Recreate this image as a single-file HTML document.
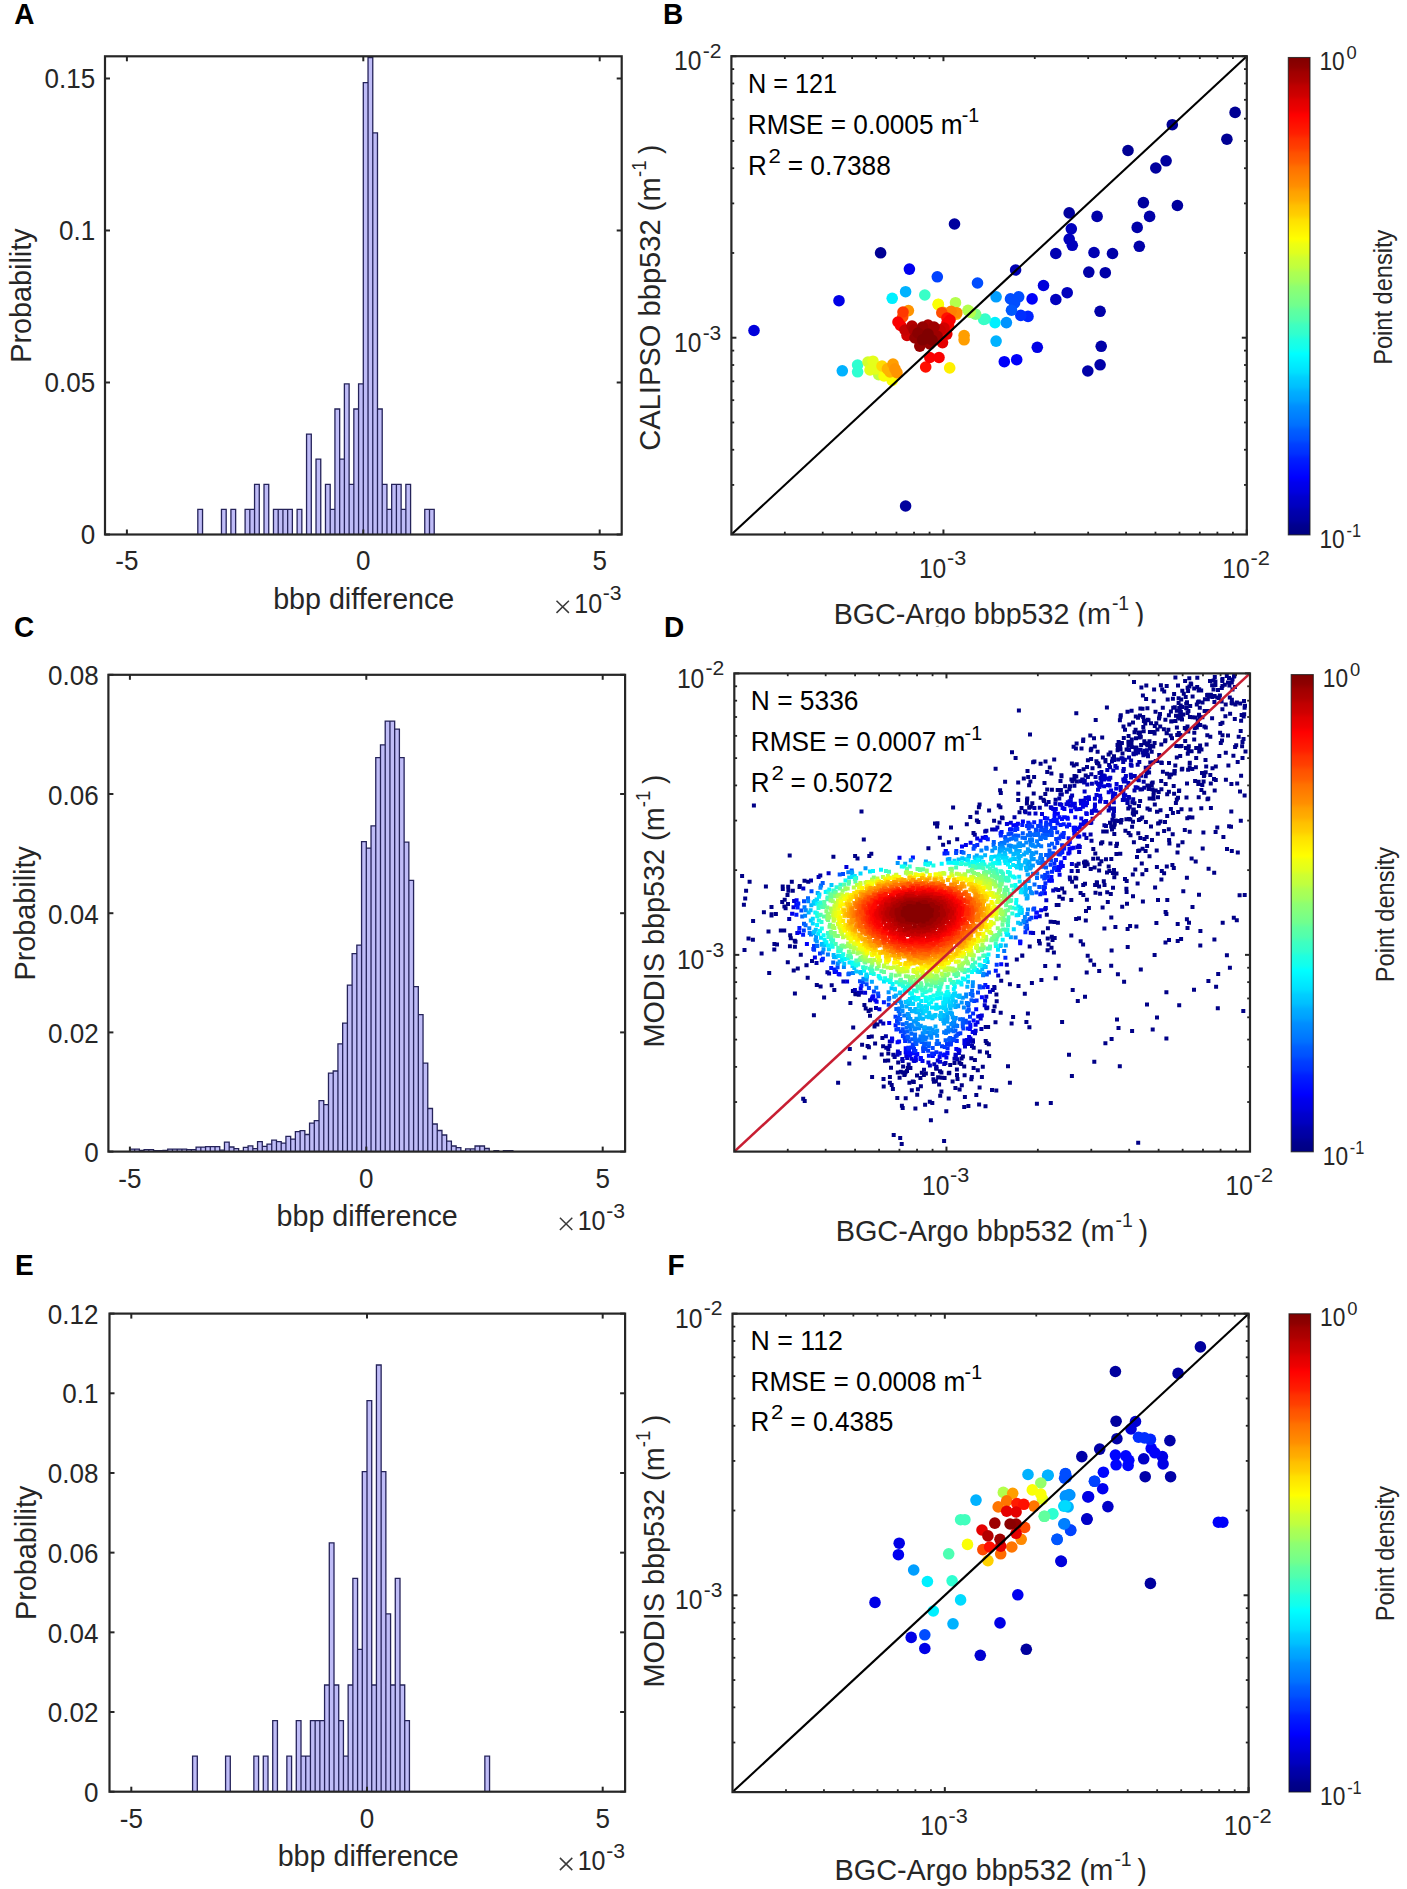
<!DOCTYPE html><html><head><meta charset="utf-8"><style>html,body{margin:0;padding:0;background:#fff;}svg{display:block;}text{font-family:"Liberation Sans",sans-serif;}</style></head><body>
<svg width="1407" height="1889" viewBox="0 0 1407 1889">
<rect x="0" y="0" width="1407" height="1889" fill="#fff"/>
<text transform="matrix(1 0 0 1.04 0 -0.96)" x="14.3" y="24" font-size="28" fill="#000" font-weight="bold">A</text>
<text transform="matrix(1 0 0 1.04 0 -0.96)" x="663.1" y="24" font-size="28" fill="#000" font-weight="bold">B</text>
<text transform="matrix(1 0 0 1.04 0 -25.48)" x="14.1" y="637" font-size="28" fill="#000" font-weight="bold">C</text>
<text transform="matrix(1 0 0 1.04 0 -25.48)" x="664.1" y="637" font-size="28" fill="#000" font-weight="bold">D</text>
<text transform="matrix(1 0 0 1.04 0 -51.01)" x="15.1" y="1275.2" font-size="28" fill="#000" font-weight="bold">E</text>
<text transform="matrix(1 0 0 1.04 0 -51.01)" x="667.6" y="1275.2" font-size="28" fill="#000" font-weight="bold">F</text>
<path d="M197.82 534.5V509.4H202.55V534.5M221.46 534.5V509.4H226.19V534.5M230.92 534.5V509.4H235.64V534.5M245.1 534.5V509.4H249.83V534.5M249.83 534.5V509.4H254.56V534.5M254.56 534.5V484.3H259.28V534.5M264.01 534.5V484.3H268.74V534.5M273.47 534.5V509.4H278.2V534.5M278.2 534.5V509.4H282.92V534.5M282.92 534.5V509.4H287.65V534.5M287.65 534.5V509.4H292.38V534.5M297.11 534.5V509.4H301.84V534.5M306.56 534.5V434.1H311.29V534.5M316.02 534.5V459.2H320.75V534.5M325.48 534.5V484.3H330.2V534.5M330.2 534.5V509.4H334.93V534.5M334.93 534.5V409H339.66V534.5M339.66 534.5V459.2H344.39V534.5M344.39 534.5V383.9H349.12V534.5M349.12 534.5V484.3H353.84V534.5M353.84 534.5V409H358.57V534.5M358.57 534.5V383.9H363.3V534.5M363.3 534.5V82.7H368.03V534.5M368.03 534.5V57.6H372.76V534.5M372.76 534.5V132.9H377.48V534.5M377.48 534.5V409H382.21V534.5M382.21 534.5V484.3H386.94V534.5M386.94 534.5V509.4H391.67V534.5M391.67 534.5V484.3H396.4V534.5M396.4 534.5V484.3H401.12V534.5M401.12 534.5V509.4H405.85V534.5M405.85 534.5V484.3H410.58V534.5M424.76 534.5V509.4H429.49V534.5M429.49 534.5V509.4H434.22V534.5" fill="#bfbcf7" stroke="#25235a" stroke-width="1.3" stroke-linejoin="miter"/>
<rect x="105" y="56.3" width="516.7" height="478.2" fill="none" stroke="#262626" stroke-width="2.2"/>
<line x1="126.9" y1="534.5" x2="126.9" y2="529.5" stroke="#262626" stroke-width="2"/>
<line x1="126.9" y1="56.3" x2="126.9" y2="61.3" stroke="#262626" stroke-width="2"/>
<text transform="matrix(1 0 0 1.04 0 -22.82)" x="126.9" y="570.5" font-size="26" fill="#262626" text-anchor="middle">-5</text>
<line x1="363.3" y1="534.5" x2="363.3" y2="529.5" stroke="#262626" stroke-width="2"/>
<line x1="363.3" y1="56.3" x2="363.3" y2="61.3" stroke="#262626" stroke-width="2"/>
<text transform="matrix(1 0 0 1.04 0 -22.82)" x="363.3" y="570.5" font-size="26" fill="#262626" text-anchor="middle">0</text>
<line x1="599.7" y1="534.5" x2="599.7" y2="529.5" stroke="#262626" stroke-width="2"/>
<line x1="599.7" y1="56.3" x2="599.7" y2="61.3" stroke="#262626" stroke-width="2"/>
<text transform="matrix(1 0 0 1.04 0 -22.82)" x="599.7" y="570.5" font-size="26" fill="#262626" text-anchor="middle">5</text>
<line x1="105" y1="534.5" x2="110" y2="534.5" stroke="#262626" stroke-width="2"/>
<line x1="621.7" y1="534.5" x2="616.7" y2="534.5" stroke="#262626" stroke-width="2"/>
<text transform="matrix(1 0 0 1.04 0 -21.76)" x="95.2" y="544" font-size="26" fill="#262626" text-anchor="end">0</text>
<line x1="105" y1="382.5" x2="110" y2="382.5" stroke="#262626" stroke-width="2"/>
<line x1="621.7" y1="382.5" x2="616.7" y2="382.5" stroke="#262626" stroke-width="2"/>
<text transform="matrix(1 0 0 1.04 0 -15.68)" x="95.2" y="392" font-size="26" fill="#262626" text-anchor="end">0.05</text>
<line x1="105" y1="230.49" x2="110" y2="230.49" stroke="#262626" stroke-width="2"/>
<line x1="621.7" y1="230.49" x2="616.7" y2="230.49" stroke="#262626" stroke-width="2"/>
<text transform="matrix(1 0 0 1.04 0 -9.6)" x="95.2" y="239.99" font-size="26" fill="#262626" text-anchor="end">0.1</text>
<line x1="105" y1="78.49" x2="110" y2="78.49" stroke="#262626" stroke-width="2"/>
<line x1="621.7" y1="78.49" x2="616.7" y2="78.49" stroke="#262626" stroke-width="2"/>
<text transform="matrix(1 0 0 1.04 0 -3.52)" x="95.2" y="87.99" font-size="26" fill="#262626" text-anchor="end">0.15</text>
<text transform="matrix(1 0 0 1.04 0 -24.36)" x="273.16" y="609" font-size="28" fill="#262626" textLength="181.13" lengthAdjust="spacingAndGlyphs">bbp difference</text>
<text transform="translate(31.1 362.66) rotate(-90) scale(1 1.04)" x="0" y="0" font-size="28" fill="#262626" textLength="134.3" lengthAdjust="spacingAndGlyphs">Probability</text>
<path d="M556.5 600.7L568.9 612.9M568.9 600.7L556.5 612.9" stroke="#3a3a3a" stroke-width="1.5" fill="none"/>
<text transform="matrix(1 0 0 1.04 0 -24.52)" x="574.28" y="613.1" font-size="26" fill="#262626" textLength="27.81" lengthAdjust="spacingAndGlyphs">10</text>
<text transform="matrix(1 0 0 1.04 0 -24.02)" x="602.75" y="600.5" font-size="20" fill="#262626" textLength="18.78" lengthAdjust="spacingAndGlyphs">-3</text>
<path d="M129.9 1151.6V1149.1H134.63V1151.6M134.63 1151.6V1149.1H139.36V1151.6M139.36 1151.6V1150.4H144.08V1151.6M144.08 1151.6V1149.6H148.81V1151.6M148.81 1151.6V1149.6H153.54V1151.6M153.54 1151.6V1150.6H158.27V1151.6M158.27 1151.6V1150.6H163V1151.6M163 1151.6V1150.4H167.72V1151.6M167.72 1151.6V1149.1H172.45V1151.6M172.45 1151.6V1149.1H177.18V1151.6M177.18 1151.6V1149.1H181.91V1151.6M181.91 1151.6V1149.1H186.64V1151.6M186.64 1151.6V1149.6H191.36V1151.6M191.36 1151.6V1149.6H196.09V1151.6M196.09 1151.6V1147.1H200.82V1151.6M200.82 1151.6V1147.1H205.55V1151.6M205.55 1151.6V1146.6H210.28V1151.6M210.28 1151.6V1146.6H215V1151.6M215 1151.6V1146.6H219.73V1151.6M219.73 1151.6V1150.1H224.46V1151.6M224.46 1151.6V1142.1H229.19V1151.6M229.19 1151.6V1147H233.92V1151.6M233.92 1151.6V1148.7H238.64V1151.6M238.64 1151.6V1151.1H243.37V1151.6M243.37 1151.6V1147.3H248.1V1151.6M248.1 1151.6V1145.9H252.83V1151.6M252.83 1151.6V1148.7H257.56V1151.6M257.56 1151.6V1141.6H262.28V1151.6M262.28 1151.6V1146.3H267.01V1151.6M267.01 1151.6V1144.1H271.74V1151.6M271.74 1151.6V1140.2H276.47V1151.6M276.47 1151.6V1141.6H281.2V1151.6M281.2 1151.6V1143.1H285.92V1151.6M285.92 1151.6V1136.3H290.65V1151.6M290.65 1151.6V1139.1H295.38V1151.6M295.38 1151.6V1131.7H300.11V1151.6M300.11 1151.6V1130.6H304.84V1151.6M304.84 1151.6V1134.5H309.56V1151.6M309.56 1151.6V1123.2H314.29V1151.6M314.29 1151.6V1120.7H319.02V1151.6M319.02 1151.6V1100.6H323.75V1151.6M323.75 1151.6V1104.6H328.48V1151.6M328.48 1151.6V1073.2H333.2V1151.6M333.2 1151.6V1071H337.93V1151.6M337.93 1151.6V1043.8H342.66V1151.6M342.66 1151.6V1023.1H347.39V1151.6M347.39 1151.6V985.1H352.12V1151.6M352.12 1151.6V953.6H356.84V1151.6M356.84 1151.6V945.1H361.57V1151.6M361.57 1151.6V841.6H366.3V1151.6M366.3 1151.6V848.1H371.03V1151.6M371.03 1151.6V825.9H375.76V1151.6M375.76 1151.6V757.7H380.48V1151.6M380.48 1151.6V744.9H385.21V1151.6M385.21 1151.6V721.1H389.94V1151.6M389.94 1151.6V721.1H394.67V1151.6M394.67 1151.6V729.2H399.4V1151.6M399.4 1151.6V757.7H404.12V1151.6M404.12 1151.6V842.2H408.85V1151.6M408.85 1151.6V880.3H413.58V1151.6M413.58 1151.6V986.6H418.31V1151.6M418.31 1151.6V1014.6H423.04V1151.6M423.04 1151.6V1063.2H427.76V1151.6M427.76 1151.6V1108.5H432.49V1151.6M432.49 1151.6V1124H437.22V1151.6M437.22 1151.6V1130.5H441.95V1151.6M441.95 1151.6V1135H446.68V1151.6M446.68 1151.6V1141.1H451.4V1151.6M451.4 1151.6V1146H456.13V1151.6M456.13 1151.6V1147.7H460.86V1151.6M460.86 1151.6V1151.1H465.59V1151.6M465.59 1151.6V1148.9H470.32V1151.6M470.32 1151.6V1148.9H475.04V1151.6M475.04 1151.6V1146H479.77V1151.6M479.77 1151.6V1146H484.5V1151.6M484.5 1151.6V1148.5H489.23V1151.6M493.96 1151.6V1150.6H498.68V1151.6M503.41 1151.6V1150.6H508.14V1151.6M508.14 1151.6V1150.6H512.87V1151.6" fill="#bfbcf7" stroke="#25235a" stroke-width="1.3" stroke-linejoin="miter"/>
<rect x="108.4" y="674.8" width="516.7" height="476.8" fill="none" stroke="#262626" stroke-width="2.2"/>
<line x1="129.9" y1="1151.6" x2="129.9" y2="1146.6" stroke="#262626" stroke-width="2"/>
<line x1="129.9" y1="674.8" x2="129.9" y2="679.8" stroke="#262626" stroke-width="2"/>
<text transform="matrix(1 0 0 1.04 0 -47.5)" x="129.9" y="1187.6" font-size="26" fill="#262626" text-anchor="middle">-5</text>
<line x1="366.3" y1="1151.6" x2="366.3" y2="1146.6" stroke="#262626" stroke-width="2"/>
<line x1="366.3" y1="674.8" x2="366.3" y2="679.8" stroke="#262626" stroke-width="2"/>
<text transform="matrix(1 0 0 1.04 0 -47.5)" x="366.3" y="1187.6" font-size="26" fill="#262626" text-anchor="middle">0</text>
<line x1="602.7" y1="1151.6" x2="602.7" y2="1146.6" stroke="#262626" stroke-width="2"/>
<line x1="602.7" y1="674.8" x2="602.7" y2="679.8" stroke="#262626" stroke-width="2"/>
<text transform="matrix(1 0 0 1.04 0 -47.5)" x="602.7" y="1187.6" font-size="26" fill="#262626" text-anchor="middle">5</text>
<line x1="108.4" y1="1151.6" x2="113.4" y2="1151.6" stroke="#262626" stroke-width="2"/>
<line x1="625.1" y1="1151.6" x2="620.1" y2="1151.6" stroke="#262626" stroke-width="2"/>
<text transform="matrix(1 0 0 1.04 0 -46.49)" x="98.6" y="1162.3" font-size="26" fill="#262626" text-anchor="end">0</text>
<line x1="108.4" y1="1032.4" x2="113.4" y2="1032.4" stroke="#262626" stroke-width="2"/>
<line x1="625.1" y1="1032.4" x2="620.1" y2="1032.4" stroke="#262626" stroke-width="2"/>
<text transform="matrix(1 0 0 1.04 0 -41.72)" x="98.6" y="1043.1" font-size="26" fill="#262626" text-anchor="end">0.02</text>
<line x1="108.4" y1="913.2" x2="113.4" y2="913.2" stroke="#262626" stroke-width="2"/>
<line x1="625.1" y1="913.2" x2="620.1" y2="913.2" stroke="#262626" stroke-width="2"/>
<text transform="matrix(1 0 0 1.04 0 -36.96)" x="98.6" y="923.9" font-size="26" fill="#262626" text-anchor="end">0.04</text>
<line x1="108.4" y1="794" x2="113.4" y2="794" stroke="#262626" stroke-width="2"/>
<line x1="625.1" y1="794" x2="620.1" y2="794" stroke="#262626" stroke-width="2"/>
<text transform="matrix(1 0 0 1.04 0 -32.19)" x="98.6" y="804.7" font-size="26" fill="#262626" text-anchor="end">0.06</text>
<line x1="108.4" y1="674.8" x2="113.4" y2="674.8" stroke="#262626" stroke-width="2"/>
<line x1="625.1" y1="674.8" x2="620.1" y2="674.8" stroke="#262626" stroke-width="2"/>
<text transform="matrix(1 0 0 1.04 0 -27.42)" x="98.6" y="685.5" font-size="26" fill="#262626" text-anchor="end">0.08</text>
<text transform="matrix(1 0 0 1.04 0 -49.04)" x="276.56" y="1226.1" font-size="28" fill="#262626" textLength="181.13" lengthAdjust="spacingAndGlyphs">bbp difference</text>
<text transform="translate(34.5 980.46) rotate(-90) scale(1 1.04)" x="0" y="0" font-size="28" fill="#262626" textLength="134.3" lengthAdjust="spacingAndGlyphs">Probability</text>
<path d="M559.9 1217.8L572.3 1230M572.3 1217.8L559.9 1230" stroke="#3a3a3a" stroke-width="1.5" fill="none"/>
<text transform="matrix(1 0 0 1.04 0 -49.21)" x="577.68" y="1230.2" font-size="26" fill="#262626" textLength="27.81" lengthAdjust="spacingAndGlyphs">10</text>
<text transform="matrix(1 0 0 1.04 0 -48.7)" x="606.15" y="1217.6" font-size="20" fill="#262626" textLength="18.78" lengthAdjust="spacingAndGlyphs">-3</text>
<path d="M192.58 1791.7V1756.14H197.3V1791.7M225.58 1791.7V1756.14H230.29V1791.7M253.86 1791.7V1756.14H258.58V1791.7M263.29 1791.7V1756.14H268.01V1791.7M272.72 1791.7V1720.58H277.43V1791.7M286.86 1791.7V1756.14H291.58V1791.7M296.29 1791.7V1720.58H301V1791.7M301 1791.7V1756.14H305.72V1791.7M305.72 1791.7V1756.14H310.43V1791.7M310.43 1791.7V1720.58H315.15V1791.7M315.15 1791.7V1720.58H319.86V1791.7M319.86 1791.7V1720.58H324.57V1791.7M324.57 1791.7V1685.02H329.29V1791.7M329.29 1791.7V1542.78H334V1791.7M334 1791.7V1685.02H338.72V1791.7M338.72 1791.7V1720.58H343.43V1791.7M343.43 1791.7V1756.14H348.14V1791.7M348.14 1791.7V1685.02H352.86V1791.7M352.86 1791.7V1578.34H357.57V1791.7M357.57 1791.7V1649.46H362.29V1791.7M362.29 1791.7V1471.66H367V1791.7M367 1791.7V1400.54H371.71V1791.7M371.71 1791.7V1685.02H376.43V1791.7M376.43 1791.7V1364.98H381.14V1791.7M381.14 1791.7V1471.66H385.86V1791.7M385.86 1791.7V1613.9H390.57V1791.7M390.57 1791.7V1685.02H395.28V1791.7M395.28 1791.7V1578.34H400V1791.7M400 1791.7V1685.02H404.71V1791.7M404.71 1791.7V1720.58H409.43V1791.7M484.85 1791.7V1756.14H489.56V1791.7" fill="#bfbcf7" stroke="#25235a" stroke-width="1.3" stroke-linejoin="miter"/>
<rect x="109.5" y="1313.6" width="515.6" height="478.1" fill="none" stroke="#262626" stroke-width="2.2"/>
<line x1="131.3" y1="1791.7" x2="131.3" y2="1786.7" stroke="#262626" stroke-width="2"/>
<line x1="131.3" y1="1313.6" x2="131.3" y2="1318.6" stroke="#262626" stroke-width="2"/>
<text transform="matrix(1 0 0 1.04 0 -73.11)" x="131.3" y="1827.7" font-size="26" fill="#262626" text-anchor="middle">-5</text>
<line x1="367" y1="1791.7" x2="367" y2="1786.7" stroke="#262626" stroke-width="2"/>
<line x1="367" y1="1313.6" x2="367" y2="1318.6" stroke="#262626" stroke-width="2"/>
<text transform="matrix(1 0 0 1.04 0 -73.11)" x="367" y="1827.7" font-size="26" fill="#262626" text-anchor="middle">0</text>
<line x1="602.7" y1="1791.7" x2="602.7" y2="1786.7" stroke="#262626" stroke-width="2"/>
<line x1="602.7" y1="1313.6" x2="602.7" y2="1318.6" stroke="#262626" stroke-width="2"/>
<text transform="matrix(1 0 0 1.04 0 -73.11)" x="602.7" y="1827.7" font-size="26" fill="#262626" text-anchor="middle">5</text>
<line x1="109.5" y1="1791.7" x2="114.5" y2="1791.7" stroke="#262626" stroke-width="2"/>
<line x1="625.1" y1="1791.7" x2="620.1" y2="1791.7" stroke="#262626" stroke-width="2"/>
<text transform="matrix(1 0 0 1.04 0 -72.08)" x="98.4" y="1801.9" font-size="26" fill="#262626" text-anchor="end">0</text>
<line x1="109.5" y1="1712.02" x2="114.5" y2="1712.02" stroke="#262626" stroke-width="2"/>
<line x1="625.1" y1="1712.02" x2="620.1" y2="1712.02" stroke="#262626" stroke-width="2"/>
<text transform="matrix(1 0 0 1.04 0 -68.89)" x="98.4" y="1722.22" font-size="26" fill="#262626" text-anchor="end">0.02</text>
<line x1="109.5" y1="1632.33" x2="114.5" y2="1632.33" stroke="#262626" stroke-width="2"/>
<line x1="625.1" y1="1632.33" x2="620.1" y2="1632.33" stroke="#262626" stroke-width="2"/>
<text transform="matrix(1 0 0 1.04 0 -65.7)" x="98.4" y="1642.53" font-size="26" fill="#262626" text-anchor="end">0.04</text>
<line x1="109.5" y1="1552.65" x2="114.5" y2="1552.65" stroke="#262626" stroke-width="2"/>
<line x1="625.1" y1="1552.65" x2="620.1" y2="1552.65" stroke="#262626" stroke-width="2"/>
<text transform="matrix(1 0 0 1.04 0 -62.51)" x="98.4" y="1562.85" font-size="26" fill="#262626" text-anchor="end">0.06</text>
<line x1="109.5" y1="1472.97" x2="114.5" y2="1472.97" stroke="#262626" stroke-width="2"/>
<line x1="625.1" y1="1472.97" x2="620.1" y2="1472.97" stroke="#262626" stroke-width="2"/>
<text transform="matrix(1 0 0 1.04 0 -59.33)" x="98.4" y="1483.17" font-size="26" fill="#262626" text-anchor="end">0.08</text>
<line x1="109.5" y1="1393.28" x2="114.5" y2="1393.28" stroke="#262626" stroke-width="2"/>
<line x1="625.1" y1="1393.28" x2="620.1" y2="1393.28" stroke="#262626" stroke-width="2"/>
<text transform="matrix(1 0 0 1.04 0 -56.14)" x="98.4" y="1403.48" font-size="26" fill="#262626" text-anchor="end">0.1</text>
<line x1="109.5" y1="1313.6" x2="114.5" y2="1313.6" stroke="#262626" stroke-width="2"/>
<line x1="625.1" y1="1313.6" x2="620.1" y2="1313.6" stroke="#262626" stroke-width="2"/>
<text transform="matrix(1 0 0 1.04 0 -52.95)" x="98.4" y="1323.8" font-size="26" fill="#262626" text-anchor="end">0.12</text>
<text transform="matrix(1 0 0 1.04 0 -74.65)" x="277.66" y="1866.2" font-size="28" fill="#262626" textLength="181.13" lengthAdjust="spacingAndGlyphs">bbp difference</text>
<text transform="translate(35.6 1619.91) rotate(-90) scale(1 1.04)" x="0" y="0" font-size="28" fill="#262626" textLength="134.3" lengthAdjust="spacingAndGlyphs">Probability</text>
<path d="M559.9 1857.9L572.3 1870.1M572.3 1857.9L559.9 1870.1" stroke="#3a3a3a" stroke-width="1.5" fill="none"/>
<text transform="matrix(1 0 0 1.04 0 -74.81)" x="577.68" y="1870.3" font-size="26" fill="#262626" textLength="27.81" lengthAdjust="spacingAndGlyphs">10</text>
<text transform="matrix(1 0 0 1.04 0 -74.31)" x="606.15" y="1857.7" font-size="20" fill="#262626" textLength="18.78" lengthAdjust="spacingAndGlyphs">-3</text>
<circle cx="880.6" cy="252.8" r="5.8" fill="#000094"/>
<circle cx="1235.1" cy="112.4" r="5.8" fill="#000094"/>
<circle cx="1172.3" cy="124.7" r="5.8" fill="#000094"/>
<circle cx="1226.9" cy="139.2" r="5.8" fill="#000094"/>
<circle cx="1128" cy="150.5" r="5.8" fill="#000094"/>
<circle cx="954.5" cy="224" r="5.8" fill="#00009e"/>
<circle cx="905.6" cy="506" r="5.8" fill="#00009e"/>
<circle cx="1166.1" cy="160.8" r="5.8" fill="#00009e"/>
<circle cx="1155.8" cy="168" r="5.8" fill="#00009e"/>
<circle cx="1143.4" cy="202.6" r="5.8" fill="#00009e"/>
<circle cx="1177.4" cy="205.5" r="5.8" fill="#00009e"/>
<circle cx="1069.2" cy="212.9" r="5.8" fill="#00009e"/>
<circle cx="1097.1" cy="216.4" r="5.8" fill="#0000a8"/>
<circle cx="1149.6" cy="216.4" r="5.8" fill="#0000a8"/>
<circle cx="1137.2" cy="227.4" r="5.8" fill="#0000a8"/>
<circle cx="1139.3" cy="246.3" r="5.8" fill="#0000a8"/>
<circle cx="1112.5" cy="253.5" r="5.8" fill="#0000a8"/>
<circle cx="1088.8" cy="272.1" r="5.8" fill="#0000a8"/>
<circle cx="1105.3" cy="272.7" r="5.8" fill="#0000a8"/>
<circle cx="1100.1" cy="311.3" r="5.8" fill="#0000a8"/>
<circle cx="1101.2" cy="346.3" r="5.8" fill="#0000a8"/>
<circle cx="1100.1" cy="364.8" r="5.8" fill="#0000a8"/>
<circle cx="1087.8" cy="371" r="5.8" fill="#0000a8"/>
<circle cx="1055.8" cy="253.5" r="5.8" fill="#0000b2"/>
<circle cx="1094" cy="252.5" r="5.8" fill="#0000b2"/>
<circle cx="1015.6" cy="270" r="5.8" fill="#0000b2"/>
<circle cx="1071.3" cy="228.8" r="5.8" fill="#0000bd"/>
<circle cx="1069.2" cy="239.1" r="5.8" fill="#0000bd"/>
<circle cx="1072.3" cy="245.3" r="5.8" fill="#0000bd"/>
<circle cx="1067.2" cy="292.7" r="5.8" fill="#0000bd"/>
<circle cx="1055.8" cy="299.5" r="5.8" fill="#0000bd"/>
<circle cx="754" cy="330.5" r="5.8" fill="#0000db"/>
<circle cx="1043.5" cy="285.5" r="5.8" fill="#0000db"/>
<circle cx="839" cy="300.7" r="5.8" fill="#0000e6"/>
<circle cx="1037.3" cy="347.3" r="5.8" fill="#0000e6"/>
<circle cx="909.4" cy="269.1" r="5.8" fill="#0000f0"/>
<circle cx="1032.1" cy="298.9" r="5.8" fill="#0000fa"/>
<circle cx="1004.3" cy="361.7" r="5.8" fill="#0000fa"/>
<circle cx="1016.7" cy="359.7" r="5.8" fill="#0000fa"/>
<circle cx="1028" cy="316.4" r="5.8" fill="#0024ff"/>
<circle cx="1020.8" cy="315.4" r="5.8" fill="#002eff"/>
<circle cx="937.3" cy="276.8" r="5.8" fill="#0042ff"/>
<circle cx="977.5" cy="283" r="5.8" fill="#004dff"/>
<circle cx="1010.5" cy="298.9" r="5.8" fill="#004dff"/>
<circle cx="1018.7" cy="296.8" r="5.8" fill="#004dff"/>
<circle cx="1014.6" cy="303" r="5.8" fill="#004dff"/>
<circle cx="1011.5" cy="310.2" r="5.8" fill="#0057ff"/>
<circle cx="1006.4" cy="322.6" r="5.8" fill="#0094ff"/>
<circle cx="996.1" cy="296.8" r="5.8" fill="#009eff"/>
<circle cx="996.1" cy="341.1" r="5.8" fill="#00b2ff"/>
<circle cx="905.6" cy="291.7" r="5.8" fill="#00b2ff"/>
<circle cx="842.3" cy="370.8" r="5.8" fill="#00b2ff"/>
<circle cx="892.2" cy="298.3" r="5.8" fill="#00f0ff"/>
<circle cx="995" cy="322.6" r="5.8" fill="#00f0ff"/>
<circle cx="985.2" cy="319" r="5.8" fill="#2effd1"/>
<circle cx="857.6" cy="365" r="5.8" fill="#2effd1"/>
<circle cx="857.6" cy="371.8" r="5.8" fill="#2effd1"/>
<circle cx="924.8" cy="295" r="5.8" fill="#38ffc7"/>
<circle cx="983.7" cy="319.5" r="5.8" fill="#38ffc7"/>
<circle cx="975.6" cy="314.2" r="5.8" fill="#80ff80"/>
<circle cx="968" cy="310.3" r="5.8" fill="#b3ff4c"/>
<circle cx="970.3" cy="312.3" r="5.8" fill="#b3ff4c"/>
<circle cx="955.5" cy="302.7" r="5.8" fill="#b3ff4c"/>
<circle cx="878.7" cy="374.6" r="5.8" fill="#bdff42"/>
<circle cx="868" cy="362" r="5.8" fill="#d1ff2e"/>
<circle cx="873" cy="361.2" r="5.8" fill="#e5ff1a"/>
<circle cx="875.8" cy="368.9" r="5.8" fill="#e5ff1a"/>
<circle cx="870" cy="370" r="5.8" fill="#e5ff1a"/>
<circle cx="938.2" cy="304.6" r="5.8" fill="#faff05"/>
<circle cx="892.2" cy="380.4" r="5.8" fill="#faff05"/>
<circle cx="938.3" cy="304.2" r="5.8" fill="#faff05"/>
<circle cx="884" cy="376" r="5.8" fill="#faff05"/>
<circle cx="949.7" cy="367.9" r="5.8" fill="#fff000"/>
<circle cx="882" cy="366" r="5.8" fill="#ffdb00"/>
<circle cx="956.4" cy="314.2" r="5.8" fill="#ffb300"/>
<circle cx="887.4" cy="368.9" r="5.8" fill="#ffb300"/>
<circle cx="890" cy="372" r="5.8" fill="#ffb300"/>
<circle cx="943" cy="312.3" r="5.8" fill="#ff9e00"/>
<circle cx="950.7" cy="313.2" r="5.8" fill="#ff9e00"/>
<circle cx="964.1" cy="335.5" r="5.8" fill="#ff9e00"/>
<circle cx="964.1" cy="339.8" r="5.8" fill="#ff9e00"/>
<circle cx="893" cy="364" r="5.8" fill="#ff9e00"/>
<circle cx="895" cy="368.9" r="5.8" fill="#ff9400"/>
<circle cx="897" cy="372.7" r="5.8" fill="#ff9400"/>
<circle cx="908.4" cy="310.6" r="5.8" fill="#ff9400"/>
<circle cx="956.8" cy="312.7" r="5.8" fill="#ff8a00"/>
<circle cx="951.1" cy="311.3" r="5.8" fill="#ff8000"/>
<circle cx="947.8" cy="320.9" r="5.8" fill="#ff4c00"/>
<circle cx="902.7" cy="317" r="5.8" fill="#ff4c00"/>
<circle cx="941.8" cy="312.7" r="5.8" fill="#ff4c00"/>
<circle cx="903" cy="312" r="5.8" fill="#ff3800"/>
<circle cx="948.8" cy="326.7" r="5.8" fill="#ff0f00"/>
<circle cx="925.7" cy="367" r="5.8" fill="#ff0f00"/>
<circle cx="947" cy="318" r="5.8" fill="#ff0f00"/>
<circle cx="929.8" cy="357.5" r="5.8" fill="#fa0000"/>
<circle cx="939" cy="357.5" r="5.8" fill="#fa0000"/>
<circle cx="900.6" cy="325.5" r="5.8" fill="#fa0000"/>
<circle cx="946.8" cy="323.4" r="5.8" fill="#fa0000"/>
<circle cx="950" cy="320" r="5.8" fill="#fa0000"/>
<circle cx="898" cy="322" r="5.8" fill="#fa0000"/>
<circle cx="946.8" cy="334.1" r="5.8" fill="#e50000"/>
<circle cx="942.5" cy="342.6" r="5.8" fill="#e50000"/>
<circle cx="907" cy="335.5" r="5.8" fill="#d10000"/>
<circle cx="944" cy="328" r="5.8" fill="#d10000"/>
<circle cx="905" cy="330" r="5.8" fill="#c70000"/>
<circle cx="940" cy="330" r="5.8" fill="#c70000"/>
<circle cx="912" cy="326" r="5.8" fill="#b30000"/>
<circle cx="914.1" cy="329.8" r="5.8" fill="#a80000"/>
<circle cx="928" cy="325" r="5.8" fill="#a80000"/>
<circle cx="934" cy="327" r="5.8" fill="#9e0000"/>
<circle cx="937" cy="336" r="5.8" fill="#9e0000"/>
<circle cx="922.6" cy="327" r="5.8" fill="#940000"/>
<circle cx="919.8" cy="346.1" r="5.8" fill="#940000"/>
<circle cx="929.8" cy="344" r="5.8" fill="#940000"/>
<circle cx="915" cy="338" r="5.8" fill="#940000"/>
<circle cx="918" cy="333" r="5.8" fill="#8a0000"/>
<circle cx="922.6" cy="339.8" r="5.8" fill="#800000"/>
<circle cx="928" cy="334" r="5.8" fill="#800000"/>
<circle cx="926" cy="338" r="5.8" fill="#800000"/>
<circle cx="932" cy="340" r="5.8" fill="#800000"/>
<line x1="731.4" y1="534.5" x2="1246.8" y2="56.2" stroke="#000" stroke-width="2.1"/>
<rect x="731.4" y="56.2" width="515.4" height="478.3" fill="none" stroke="#262626" stroke-width="2.2"/>
<line x1="943.44" y1="534.5" x2="943.44" y2="529.5" stroke="#262626" stroke-width="2"/>
<line x1="943.44" y1="56.2" x2="943.44" y2="61.2" stroke="#262626" stroke-width="2"/>
<line x1="731.4" y1="337.72" x2="736.4" y2="337.72" stroke="#262626" stroke-width="2"/>
<line x1="1246.8" y1="337.72" x2="1241.8" y2="337.72" stroke="#262626" stroke-width="2"/>
<line x1="1246.8" y1="534.5" x2="1246.8" y2="529.5" stroke="#262626" stroke-width="2"/>
<line x1="1246.8" y1="56.2" x2="1246.8" y2="61.2" stroke="#262626" stroke-width="2"/>
<line x1="731.4" y1="56.2" x2="736.4" y2="56.2" stroke="#262626" stroke-width="2"/>
<line x1="1246.8" y1="56.2" x2="1241.8" y2="56.2" stroke="#262626" stroke-width="2"/>
<line x1="784.82" y1="534.5" x2="784.82" y2="531.7" stroke="#262626" stroke-width="1.8"/>
<line x1="784.82" y1="56.2" x2="784.82" y2="59" stroke="#262626" stroke-width="1.8"/>
<line x1="731.4" y1="484.93" x2="734.2" y2="484.93" stroke="#262626" stroke-width="1.8"/>
<line x1="1246.8" y1="484.93" x2="1244" y2="484.93" stroke="#262626" stroke-width="1.8"/>
<line x1="822.72" y1="534.5" x2="822.72" y2="531.7" stroke="#262626" stroke-width="1.8"/>
<line x1="822.72" y1="56.2" x2="822.72" y2="59" stroke="#262626" stroke-width="1.8"/>
<line x1="731.4" y1="449.75" x2="734.2" y2="449.75" stroke="#262626" stroke-width="1.8"/>
<line x1="1246.8" y1="449.75" x2="1244" y2="449.75" stroke="#262626" stroke-width="1.8"/>
<line x1="852.12" y1="534.5" x2="852.12" y2="531.7" stroke="#262626" stroke-width="1.8"/>
<line x1="852.12" y1="56.2" x2="852.12" y2="59" stroke="#262626" stroke-width="1.8"/>
<line x1="731.4" y1="422.47" x2="734.2" y2="422.47" stroke="#262626" stroke-width="1.8"/>
<line x1="1246.8" y1="422.47" x2="1244" y2="422.47" stroke="#262626" stroke-width="1.8"/>
<line x1="876.14" y1="534.5" x2="876.14" y2="531.7" stroke="#262626" stroke-width="1.8"/>
<line x1="876.14" y1="56.2" x2="876.14" y2="59" stroke="#262626" stroke-width="1.8"/>
<line x1="731.4" y1="400.18" x2="734.2" y2="400.18" stroke="#262626" stroke-width="1.8"/>
<line x1="1246.8" y1="400.18" x2="1244" y2="400.18" stroke="#262626" stroke-width="1.8"/>
<line x1="896.45" y1="534.5" x2="896.45" y2="531.7" stroke="#262626" stroke-width="1.8"/>
<line x1="896.45" y1="56.2" x2="896.45" y2="59" stroke="#262626" stroke-width="1.8"/>
<line x1="731.4" y1="381.33" x2="734.2" y2="381.33" stroke="#262626" stroke-width="1.8"/>
<line x1="1246.8" y1="381.33" x2="1244" y2="381.33" stroke="#262626" stroke-width="1.8"/>
<line x1="914.04" y1="534.5" x2="914.04" y2="531.7" stroke="#262626" stroke-width="1.8"/>
<line x1="914.04" y1="56.2" x2="914.04" y2="59" stroke="#262626" stroke-width="1.8"/>
<line x1="731.4" y1="365.01" x2="734.2" y2="365.01" stroke="#262626" stroke-width="1.8"/>
<line x1="1246.8" y1="365.01" x2="1244" y2="365.01" stroke="#262626" stroke-width="1.8"/>
<line x1="929.56" y1="534.5" x2="929.56" y2="531.7" stroke="#262626" stroke-width="1.8"/>
<line x1="929.56" y1="56.2" x2="929.56" y2="59" stroke="#262626" stroke-width="1.8"/>
<line x1="731.4" y1="350.61" x2="734.2" y2="350.61" stroke="#262626" stroke-width="1.8"/>
<line x1="1246.8" y1="350.61" x2="1244" y2="350.61" stroke="#262626" stroke-width="1.8"/>
<line x1="1034.76" y1="534.5" x2="1034.76" y2="531.7" stroke="#262626" stroke-width="1.8"/>
<line x1="1034.76" y1="56.2" x2="1034.76" y2="59" stroke="#262626" stroke-width="1.8"/>
<line x1="731.4" y1="252.98" x2="734.2" y2="252.98" stroke="#262626" stroke-width="1.8"/>
<line x1="1246.8" y1="252.98" x2="1244" y2="252.98" stroke="#262626" stroke-width="1.8"/>
<line x1="1088.18" y1="534.5" x2="1088.18" y2="531.7" stroke="#262626" stroke-width="1.8"/>
<line x1="1088.18" y1="56.2" x2="1088.18" y2="59" stroke="#262626" stroke-width="1.8"/>
<line x1="731.4" y1="203.4" x2="734.2" y2="203.4" stroke="#262626" stroke-width="1.8"/>
<line x1="1246.8" y1="203.4" x2="1244" y2="203.4" stroke="#262626" stroke-width="1.8"/>
<line x1="1126.08" y1="534.5" x2="1126.08" y2="531.7" stroke="#262626" stroke-width="1.8"/>
<line x1="1126.08" y1="56.2" x2="1126.08" y2="59" stroke="#262626" stroke-width="1.8"/>
<line x1="731.4" y1="168.23" x2="734.2" y2="168.23" stroke="#262626" stroke-width="1.8"/>
<line x1="1246.8" y1="168.23" x2="1244" y2="168.23" stroke="#262626" stroke-width="1.8"/>
<line x1="1155.48" y1="534.5" x2="1155.48" y2="531.7" stroke="#262626" stroke-width="1.8"/>
<line x1="1155.48" y1="56.2" x2="1155.48" y2="59" stroke="#262626" stroke-width="1.8"/>
<line x1="731.4" y1="140.95" x2="734.2" y2="140.95" stroke="#262626" stroke-width="1.8"/>
<line x1="1246.8" y1="140.95" x2="1244" y2="140.95" stroke="#262626" stroke-width="1.8"/>
<line x1="1179.5" y1="534.5" x2="1179.5" y2="531.7" stroke="#262626" stroke-width="1.8"/>
<line x1="1179.5" y1="56.2" x2="1179.5" y2="59" stroke="#262626" stroke-width="1.8"/>
<line x1="731.4" y1="118.66" x2="734.2" y2="118.66" stroke="#262626" stroke-width="1.8"/>
<line x1="1246.8" y1="118.66" x2="1244" y2="118.66" stroke="#262626" stroke-width="1.8"/>
<line x1="1199.81" y1="534.5" x2="1199.81" y2="531.7" stroke="#262626" stroke-width="1.8"/>
<line x1="1199.81" y1="56.2" x2="1199.81" y2="59" stroke="#262626" stroke-width="1.8"/>
<line x1="731.4" y1="99.81" x2="734.2" y2="99.81" stroke="#262626" stroke-width="1.8"/>
<line x1="1246.8" y1="99.81" x2="1244" y2="99.81" stroke="#262626" stroke-width="1.8"/>
<line x1="1217.4" y1="534.5" x2="1217.4" y2="531.7" stroke="#262626" stroke-width="1.8"/>
<line x1="1217.4" y1="56.2" x2="1217.4" y2="59" stroke="#262626" stroke-width="1.8"/>
<line x1="731.4" y1="83.48" x2="734.2" y2="83.48" stroke="#262626" stroke-width="1.8"/>
<line x1="1246.8" y1="83.48" x2="1244" y2="83.48" stroke="#262626" stroke-width="1.8"/>
<line x1="1232.92" y1="534.5" x2="1232.92" y2="531.7" stroke="#262626" stroke-width="1.8"/>
<line x1="1232.92" y1="56.2" x2="1232.92" y2="59" stroke="#262626" stroke-width="1.8"/>
<line x1="731.4" y1="69.08" x2="734.2" y2="69.08" stroke="#262626" stroke-width="1.8"/>
<line x1="1246.8" y1="69.08" x2="1244" y2="69.08" stroke="#262626" stroke-width="1.8"/>
<text transform="matrix(1 0 0 1.04 0 -2.82)" x="674.01" y="70.4" font-size="26" fill="#262626" textLength="27.36" lengthAdjust="spacingAndGlyphs">10</text>
<text transform="matrix(1 0 0 1.04 0 -2.32)" x="702.65" y="58" font-size="20" fill="#262626" textLength="18.79" lengthAdjust="spacingAndGlyphs">-2</text>
<text transform="matrix(1 0 0 1.04 0 -14.08)" x="674.01" y="351.92" font-size="26" fill="#262626" textLength="27.36" lengthAdjust="spacingAndGlyphs">10</text>
<text transform="matrix(1 0 0 1.04 0 -13.58)" x="702.66" y="339.52" font-size="20" fill="#262626" textLength="18.56" lengthAdjust="spacingAndGlyphs">-3</text>
<text transform="matrix(1 0 0 1.04 0 -23.1)" x="918.95" y="577.6" font-size="26" fill="#262626" textLength="27.36" lengthAdjust="spacingAndGlyphs">10</text>
<text transform="matrix(1 0 0 1.04 0 -22.61)" x="947.07" y="565.3" font-size="20" fill="#262626" textLength="19.22" lengthAdjust="spacingAndGlyphs">-3</text>
<text transform="matrix(1 0 0 1.04 0 -23.1)" x="1222.31" y="577.6" font-size="26" fill="#262626" textLength="27.36" lengthAdjust="spacingAndGlyphs">10</text>
<text transform="matrix(1 0 0 1.04 0 -22.61)" x="1250.42" y="565.3" font-size="20" fill="#262626" textLength="19.46" lengthAdjust="spacingAndGlyphs">-2</text>
<text transform="matrix(1 0 0 1.04 0 -24.98)" x="833.65" y="624.5" font-size="28" fill="#262626" textLength="277.18" lengthAdjust="spacingAndGlyphs">BGC-Argo bbp532 (m</text>
<text transform="matrix(1 0 0 1.04 0 -24.41)" x="1111.93" y="610.3" font-size="20" fill="#262626" textLength="17.23" lengthAdjust="spacingAndGlyphs">-1</text>
<text transform="matrix(1 0 0 1.04 0 -24.98)" x="1135.1" y="624.5" font-size="28" fill="#262626">)</text>
<text transform="translate(660.3 450.86) rotate(-90) scale(1 1.04)" x="0" y="0" font-size="28" fill="#262626" textLength="273.65" lengthAdjust="spacingAndGlyphs">CALIPSO bbp532 (m</text>
<text transform="translate(646 177.03) rotate(-90) scale(1 1.04)" x="0" y="0" font-size="20" fill="#262626" textLength="16.45" lengthAdjust="spacingAndGlyphs">-1</text>
<text transform="translate(660.3 154) rotate(-90) scale(1 1.04)" x="0" y="0" font-size="28" fill="#262626">)</text>
<defs><linearGradient id="g57" x1="0" y1="0" x2="0" y2="1"><stop offset="0" stop-color="#800000"/><stop offset="0.02" stop-color="#8f0000"/><stop offset="0.03" stop-color="#9f0000"/><stop offset="0.05" stop-color="#af0000"/><stop offset="0.06" stop-color="#bf0000"/><stop offset="0.08" stop-color="#cf0000"/><stop offset="0.09" stop-color="#df0000"/><stop offset="0.11" stop-color="#ef0000"/><stop offset="0.12" stop-color="#ff0000"/><stop offset="0.14" stop-color="#ff1000"/><stop offset="0.16" stop-color="#ff2000"/><stop offset="0.17" stop-color="#ff3000"/><stop offset="0.19" stop-color="#ff4000"/><stop offset="0.2" stop-color="#ff5000"/><stop offset="0.22" stop-color="#ff6000"/><stop offset="0.23" stop-color="#ff7000"/><stop offset="0.25" stop-color="#ff8000"/><stop offset="0.27" stop-color="#ff8f00"/><stop offset="0.28" stop-color="#ff9f00"/><stop offset="0.3" stop-color="#ffaf00"/><stop offset="0.31" stop-color="#ffbf00"/><stop offset="0.33" stop-color="#ffcf00"/><stop offset="0.34" stop-color="#ffdf00"/><stop offset="0.36" stop-color="#ffef00"/><stop offset="0.38" stop-color="#ffff00"/><stop offset="0.39" stop-color="#efff10"/><stop offset="0.41" stop-color="#dfff20"/><stop offset="0.42" stop-color="#cfff30"/><stop offset="0.44" stop-color="#bfff40"/><stop offset="0.45" stop-color="#afff50"/><stop offset="0.47" stop-color="#9fff60"/><stop offset="0.48" stop-color="#8fff70"/><stop offset="0.5" stop-color="#80ff80"/><stop offset="0.52" stop-color="#70ff8f"/><stop offset="0.53" stop-color="#60ff9f"/><stop offset="0.55" stop-color="#50ffaf"/><stop offset="0.56" stop-color="#40ffbf"/><stop offset="0.58" stop-color="#30ffcf"/><stop offset="0.59" stop-color="#20ffdf"/><stop offset="0.61" stop-color="#10ffef"/><stop offset="0.62" stop-color="#00ffff"/><stop offset="0.64" stop-color="#00efff"/><stop offset="0.66" stop-color="#00dfff"/><stop offset="0.67" stop-color="#00cfff"/><stop offset="0.69" stop-color="#00bfff"/><stop offset="0.7" stop-color="#00afff"/><stop offset="0.72" stop-color="#009fff"/><stop offset="0.73" stop-color="#008fff"/><stop offset="0.75" stop-color="#0080ff"/><stop offset="0.77" stop-color="#0070ff"/><stop offset="0.78" stop-color="#0060ff"/><stop offset="0.8" stop-color="#0050ff"/><stop offset="0.81" stop-color="#0040ff"/><stop offset="0.83" stop-color="#0030ff"/><stop offset="0.84" stop-color="#0020ff"/><stop offset="0.86" stop-color="#0010ff"/><stop offset="0.88" stop-color="#0000ff"/><stop offset="0.89" stop-color="#0000ef"/><stop offset="0.91" stop-color="#0000df"/><stop offset="0.92" stop-color="#0000cf"/><stop offset="0.94" stop-color="#0000bf"/><stop offset="0.95" stop-color="#0000af"/><stop offset="0.97" stop-color="#00009f"/><stop offset="0.98" stop-color="#00008f"/><stop offset="1" stop-color="#000080"/></linearGradient></defs>
<rect x="1288.3" y="57.5" width="21.7" height="477.4" fill="url(#g57)" stroke="#1a1a1a" stroke-width="1.1" stroke-opacity="0.8"/>
<text transform="matrix(1 0 0 1.04 0 -2.8)" x="1319.5" y="69.9" font-size="24" fill="#262626" textLength="25.24" lengthAdjust="spacingAndGlyphs">10</text>
<text transform="matrix(1 0 0 1.04 0 -2.35)" x="1346.58" y="58.8" font-size="18" fill="#262626" textLength="10.24" lengthAdjust="spacingAndGlyphs">0</text>
<text transform="matrix(1 0 0 1.04 0 -21.93)" x="1319.5" y="548.2" font-size="24" fill="#262626" textLength="25.24" lengthAdjust="spacingAndGlyphs">10</text>
<text transform="matrix(1 0 0 1.04 0 -21.48)" x="1346.57" y="537" font-size="18" fill="#262626" textLength="14.55" lengthAdjust="spacingAndGlyphs">-1</text>
<text transform="translate(1391.8 364.87) rotate(-90) scale(1 1.04)" x="0" y="0" font-size="24" fill="#262626" textLength="135.29" lengthAdjust="spacingAndGlyphs">Point density</text>
<text transform="matrix(1 0 0 1.04 0 -3.73)" x="747.96" y="93.3" font-size="26" fill="#000" textLength="89.19" lengthAdjust="spacingAndGlyphs">N = 121</text>
<text transform="matrix(1 0 0 1.04 0 -5.36)" x="747.88" y="134" font-size="26" fill="#000" textLength="214.68" lengthAdjust="spacingAndGlyphs">RMSE = 0.0005 m</text>
<text transform="matrix(1 0 0 1.04 0 -4.9)" x="961.82" y="122.5" font-size="20" fill="#000" textLength="17.45" lengthAdjust="spacingAndGlyphs">-1</text>
<text transform="matrix(1 0 0 1.04 0 -6.98)" x="747.9" y="174.6" font-size="26" fill="#000">R</text>
<text transform="matrix(1 0 0 1.04 0 -6.5)" x="768.49" y="162.6" font-size="20" fill="#000" textLength="12.35" lengthAdjust="spacingAndGlyphs">2</text>
<text transform="matrix(1 0 0 1.04 0 -6.98)" x="787.68" y="174.6" font-size="26" fill="#000" textLength="103.16" lengthAdjust="spacingAndGlyphs">= 0.7388</text>
<rect x="780" y="626.5" width="420" height="25" fill="#fff"/>
<circle cx="1026.3" cy="1649.3" r="5.8" fill="#00009e"/>
<circle cx="1200.4" cy="1346.9" r="5.8" fill="#00009e"/>
<circle cx="1115.4" cy="1371.5" r="5.8" fill="#00009e"/>
<circle cx="1178.1" cy="1373.4" r="5.8" fill="#00009e"/>
<circle cx="1116.1" cy="1421.2" r="5.8" fill="#00009e"/>
<circle cx="1150.4" cy="1583.4" r="5.8" fill="#00009e"/>
<circle cx="1116.9" cy="1438.7" r="5.8" fill="#0000a8"/>
<circle cx="1169.9" cy="1440.6" r="5.8" fill="#0000a8"/>
<circle cx="1099.7" cy="1449.1" r="5.8" fill="#0000a8"/>
<circle cx="1081.8" cy="1456.6" r="5.8" fill="#0000a8"/>
<circle cx="1145.2" cy="1476.7" r="5.8" fill="#0000a8"/>
<circle cx="1170.6" cy="1476.7" r="5.8" fill="#0000a8"/>
<circle cx="1086.9" cy="1518.8" r="5.8" fill="#0000bd"/>
<circle cx="1143.7" cy="1458.8" r="5.8" fill="#0000c7"/>
<circle cx="1107.9" cy="1506.6" r="5.8" fill="#0000c7"/>
<circle cx="1087" cy="1519.3" r="5.8" fill="#0000c7"/>
<circle cx="980.3" cy="1655.3" r="5.8" fill="#0000d1"/>
<circle cx="1135.5" cy="1421.5" r="5.8" fill="#0000d1"/>
<circle cx="1061.3" cy="1561.5" r="5.8" fill="#0000db"/>
<circle cx="1131" cy="1429" r="5.8" fill="#0000db"/>
<circle cx="1087.8" cy="1496.9" r="5.8" fill="#0000db"/>
<circle cx="1060.9" cy="1561" r="5.8" fill="#0000db"/>
<circle cx="875" cy="1602.4" r="5.8" fill="#0000e6"/>
<circle cx="899.2" cy="1543.2" r="5.8" fill="#0000e6"/>
<circle cx="911.2" cy="1637.4" r="5.8" fill="#0000e6"/>
<circle cx="924.8" cy="1648.5" r="5.8" fill="#0000e6"/>
<circle cx="1000" cy="1622.9" r="5.8" fill="#0000e6"/>
<circle cx="1088.6" cy="1496.7" r="5.8" fill="#0000e6"/>
<circle cx="1162.4" cy="1456.6" r="5.8" fill="#0000e6"/>
<circle cx="1163.1" cy="1464" r="5.8" fill="#0000e6"/>
<circle cx="898.4" cy="1554.7" r="5.8" fill="#0000f0"/>
<circle cx="1017.8" cy="1594.8" r="5.8" fill="#0000f0"/>
<circle cx="1102.7" cy="1488.7" r="5.8" fill="#0000f0"/>
<circle cx="1151.2" cy="1448.4" r="5.8" fill="#0000fa"/>
<circle cx="1154.9" cy="1452.8" r="5.8" fill="#0000fa"/>
<circle cx="1218.4" cy="1522.2" r="5.8" fill="#0000fa"/>
<circle cx="1222.8" cy="1522.2" r="5.8" fill="#0000fa"/>
<circle cx="1115.4" cy="1455.1" r="5.8" fill="#0005ff"/>
<circle cx="1125.8" cy="1455.8" r="5.8" fill="#0005ff"/>
<circle cx="1128.8" cy="1460.3" r="5.8" fill="#0005ff"/>
<circle cx="1116.1" cy="1464.8" r="5.8" fill="#0005ff"/>
<circle cx="1128.1" cy="1465.5" r="5.8" fill="#0005ff"/>
<circle cx="1103.4" cy="1472.2" r="5.8" fill="#0005ff"/>
<circle cx="1150.4" cy="1439.4" r="5.8" fill="#0024ff"/>
<circle cx="1138.5" cy="1437.2" r="5.8" fill="#002eff"/>
<circle cx="1144.5" cy="1437.9" r="5.8" fill="#002eff"/>
<circle cx="1070.7" cy="1530" r="5.8" fill="#0042ff"/>
<circle cx="1094.5" cy="1481.3" r="5.8" fill="#0042ff"/>
<circle cx="1094.5" cy="1481.2" r="5.8" fill="#0042ff"/>
<circle cx="1070.6" cy="1530.4" r="5.8" fill="#0042ff"/>
<circle cx="924.8" cy="1634.8" r="5.8" fill="#004dff"/>
<circle cx="1065.5" cy="1473.6" r="5.8" fill="#004dff"/>
<circle cx="1066.4" cy="1477.1" r="5.8" fill="#004dff"/>
<circle cx="1065.4" cy="1473.7" r="5.8" fill="#004dff"/>
<circle cx="1064.6" cy="1478.2" r="5.8" fill="#004dff"/>
<circle cx="1057" cy="1539.3" r="5.8" fill="#0057ff"/>
<circle cx="1057.2" cy="1539.4" r="5.8" fill="#0057ff"/>
<circle cx="1064.6" cy="1523.7" r="5.8" fill="#0075ff"/>
<circle cx="1063.8" cy="1524" r="5.8" fill="#0080ff"/>
<circle cx="1065.5" cy="1495.8" r="5.8" fill="#008aff"/>
<circle cx="1069.8" cy="1495" r="5.8" fill="#008aff"/>
<circle cx="1069.1" cy="1494.6" r="5.8" fill="#0094ff"/>
<circle cx="1065.4" cy="1496.9" r="5.8" fill="#0094ff"/>
<circle cx="913.7" cy="1570" r="5.8" fill="#009eff"/>
<circle cx="976" cy="1500.1" r="5.8" fill="#00b2ff"/>
<circle cx="953" cy="1623.8" r="5.8" fill="#00b2ff"/>
<circle cx="1068.1" cy="1506.9" r="5.8" fill="#00b2ff"/>
<circle cx="1028" cy="1474.5" r="5.8" fill="#00b2ff"/>
<circle cx="1047.6" cy="1475.4" r="5.8" fill="#00b2ff"/>
<circle cx="1048.2" cy="1475.2" r="5.8" fill="#00b2ff"/>
<circle cx="1063.8" cy="1506.1" r="5.8" fill="#00d1ff"/>
<circle cx="960.6" cy="1599.9" r="5.8" fill="#00dbff"/>
<circle cx="1065.4" cy="1505.8" r="5.8" fill="#00dbff"/>
<circle cx="927.4" cy="1581.5" r="5.8" fill="#00f0ff"/>
<circle cx="933.3" cy="1611" r="5.8" fill="#00f0ff"/>
<circle cx="952.1" cy="1580.8" r="5.8" fill="#2effd1"/>
<circle cx="1052.7" cy="1513.7" r="5.8" fill="#2effd1"/>
<circle cx="1052.7" cy="1514" r="5.8" fill="#2effd1"/>
<circle cx="960.6" cy="1519.7" r="5.8" fill="#42ffbd"/>
<circle cx="964.9" cy="1519.7" r="5.8" fill="#42ffbd"/>
<circle cx="948.7" cy="1553.8" r="5.8" fill="#4dffb2"/>
<circle cx="1044.2" cy="1516.3" r="5.8" fill="#61ff9e"/>
<circle cx="1044.5" cy="1516.3" r="5.8" fill="#61ff9e"/>
<circle cx="1040.8" cy="1483" r="5.8" fill="#94ff6b"/>
<circle cx="1003.3" cy="1492.4" r="5.8" fill="#b3ff4c"/>
<circle cx="1042.5" cy="1499.2" r="5.8" fill="#e5ff1a"/>
<circle cx="967.5" cy="1544.4" r="5.8" fill="#faff05"/>
<circle cx="1032.3" cy="1489.9" r="5.8" fill="#faff05"/>
<circle cx="1040.8" cy="1494.1" r="5.8" fill="#faff05"/>
<circle cx="987.9" cy="1560.6" r="5.8" fill="#ffd100"/>
<circle cx="1012.7" cy="1493.3" r="5.8" fill="#ff9e00"/>
<circle cx="1021.2" cy="1539.3" r="5.8" fill="#ff8a00"/>
<circle cx="998.2" cy="1506.9" r="5.8" fill="#ff7500"/>
<circle cx="1006.7" cy="1500.9" r="5.8" fill="#ff7500"/>
<circle cx="1034" cy="1506.1" r="5.8" fill="#ff7500"/>
<circle cx="1011.8" cy="1547" r="5.8" fill="#ff7500"/>
<circle cx="1000.7" cy="1553.8" r="5.8" fill="#ff6b00"/>
<circle cx="1024.6" cy="1527.4" r="5.8" fill="#ff4c00"/>
<circle cx="982.8" cy="1549.6" r="5.8" fill="#ff4c00"/>
<circle cx="1016.9" cy="1503.5" r="5.8" fill="#ff1a00"/>
<circle cx="1023.8" cy="1504.3" r="5.8" fill="#ff0f00"/>
<circle cx="989.6" cy="1547" r="5.8" fill="#ff0f00"/>
<circle cx="1006.7" cy="1511.2" r="5.8" fill="#e50000"/>
<circle cx="1016.1" cy="1512" r="5.8" fill="#e50000"/>
<circle cx="982" cy="1530" r="5.8" fill="#e50000"/>
<circle cx="1000.7" cy="1546.1" r="5.8" fill="#e50000"/>
<circle cx="1016.1" cy="1533.3" r="5.8" fill="#e50000"/>
<circle cx="987.9" cy="1535.9" r="5.8" fill="#b30000"/>
<circle cx="994.8" cy="1523.1" r="5.8" fill="#9e0000"/>
<circle cx="1000" cy="1539.3" r="5.8" fill="#9e0000"/>
<circle cx="1016.1" cy="1524" r="5.8" fill="#940000"/>
<circle cx="1010.1" cy="1524" r="5.8" fill="#8a0000"/>
<line x1="732.5" y1="1792.1" x2="1248.6" y2="1313.7" stroke="#000" stroke-width="2.1"/>
<rect x="732.5" y="1313.7" width="516.1" height="478.4" fill="none" stroke="#262626" stroke-width="2.2"/>
<line x1="944.83" y1="1792.1" x2="944.83" y2="1787.1" stroke="#262626" stroke-width="2"/>
<line x1="944.83" y1="1313.7" x2="944.83" y2="1318.7" stroke="#262626" stroke-width="2"/>
<line x1="732.5" y1="1595.28" x2="737.5" y2="1595.28" stroke="#262626" stroke-width="2"/>
<line x1="1248.6" y1="1595.28" x2="1243.6" y2="1595.28" stroke="#262626" stroke-width="2"/>
<line x1="1248.6" y1="1792.1" x2="1248.6" y2="1787.1" stroke="#262626" stroke-width="2"/>
<line x1="1248.6" y1="1313.7" x2="1248.6" y2="1318.7" stroke="#262626" stroke-width="2"/>
<line x1="732.5" y1="1313.7" x2="737.5" y2="1313.7" stroke="#262626" stroke-width="2"/>
<line x1="1248.6" y1="1313.7" x2="1243.6" y2="1313.7" stroke="#262626" stroke-width="2"/>
<line x1="785.99" y1="1792.1" x2="785.99" y2="1789.3" stroke="#262626" stroke-width="1.8"/>
<line x1="785.99" y1="1313.7" x2="785.99" y2="1316.5" stroke="#262626" stroke-width="1.8"/>
<line x1="732.5" y1="1742.52" x2="735.3" y2="1742.52" stroke="#262626" stroke-width="1.8"/>
<line x1="1248.6" y1="1742.52" x2="1245.8" y2="1742.52" stroke="#262626" stroke-width="1.8"/>
<line x1="823.94" y1="1792.1" x2="823.94" y2="1789.3" stroke="#262626" stroke-width="1.8"/>
<line x1="823.94" y1="1313.7" x2="823.94" y2="1316.5" stroke="#262626" stroke-width="1.8"/>
<line x1="732.5" y1="1707.34" x2="735.3" y2="1707.34" stroke="#262626" stroke-width="1.8"/>
<line x1="1248.6" y1="1707.34" x2="1245.8" y2="1707.34" stroke="#262626" stroke-width="1.8"/>
<line x1="853.38" y1="1792.1" x2="853.38" y2="1789.3" stroke="#262626" stroke-width="1.8"/>
<line x1="853.38" y1="1313.7" x2="853.38" y2="1316.5" stroke="#262626" stroke-width="1.8"/>
<line x1="732.5" y1="1680.05" x2="735.3" y2="1680.05" stroke="#262626" stroke-width="1.8"/>
<line x1="1248.6" y1="1680.05" x2="1245.8" y2="1680.05" stroke="#262626" stroke-width="1.8"/>
<line x1="877.44" y1="1792.1" x2="877.44" y2="1789.3" stroke="#262626" stroke-width="1.8"/>
<line x1="877.44" y1="1313.7" x2="877.44" y2="1316.5" stroke="#262626" stroke-width="1.8"/>
<line x1="732.5" y1="1657.75" x2="735.3" y2="1657.75" stroke="#262626" stroke-width="1.8"/>
<line x1="1248.6" y1="1657.75" x2="1245.8" y2="1657.75" stroke="#262626" stroke-width="1.8"/>
<line x1="897.77" y1="1792.1" x2="897.77" y2="1789.3" stroke="#262626" stroke-width="1.8"/>
<line x1="897.77" y1="1313.7" x2="897.77" y2="1316.5" stroke="#262626" stroke-width="1.8"/>
<line x1="732.5" y1="1638.9" x2="735.3" y2="1638.9" stroke="#262626" stroke-width="1.8"/>
<line x1="1248.6" y1="1638.9" x2="1245.8" y2="1638.9" stroke="#262626" stroke-width="1.8"/>
<line x1="915.39" y1="1792.1" x2="915.39" y2="1789.3" stroke="#262626" stroke-width="1.8"/>
<line x1="915.39" y1="1313.7" x2="915.39" y2="1316.5" stroke="#262626" stroke-width="1.8"/>
<line x1="732.5" y1="1622.57" x2="735.3" y2="1622.57" stroke="#262626" stroke-width="1.8"/>
<line x1="1248.6" y1="1622.57" x2="1245.8" y2="1622.57" stroke="#262626" stroke-width="1.8"/>
<line x1="930.93" y1="1792.1" x2="930.93" y2="1789.3" stroke="#262626" stroke-width="1.8"/>
<line x1="930.93" y1="1313.7" x2="930.93" y2="1316.5" stroke="#262626" stroke-width="1.8"/>
<line x1="732.5" y1="1608.17" x2="735.3" y2="1608.17" stroke="#262626" stroke-width="1.8"/>
<line x1="1248.6" y1="1608.17" x2="1245.8" y2="1608.17" stroke="#262626" stroke-width="1.8"/>
<line x1="1036.27" y1="1792.1" x2="1036.27" y2="1789.3" stroke="#262626" stroke-width="1.8"/>
<line x1="1036.27" y1="1313.7" x2="1036.27" y2="1316.5" stroke="#262626" stroke-width="1.8"/>
<line x1="732.5" y1="1510.52" x2="735.3" y2="1510.52" stroke="#262626" stroke-width="1.8"/>
<line x1="1248.6" y1="1510.52" x2="1245.8" y2="1510.52" stroke="#262626" stroke-width="1.8"/>
<line x1="1089.76" y1="1792.1" x2="1089.76" y2="1789.3" stroke="#262626" stroke-width="1.8"/>
<line x1="1089.76" y1="1313.7" x2="1089.76" y2="1316.5" stroke="#262626" stroke-width="1.8"/>
<line x1="732.5" y1="1460.93" x2="735.3" y2="1460.93" stroke="#262626" stroke-width="1.8"/>
<line x1="1248.6" y1="1460.93" x2="1245.8" y2="1460.93" stroke="#262626" stroke-width="1.8"/>
<line x1="1127.72" y1="1792.1" x2="1127.72" y2="1789.3" stroke="#262626" stroke-width="1.8"/>
<line x1="1127.72" y1="1313.7" x2="1127.72" y2="1316.5" stroke="#262626" stroke-width="1.8"/>
<line x1="732.5" y1="1425.75" x2="735.3" y2="1425.75" stroke="#262626" stroke-width="1.8"/>
<line x1="1248.6" y1="1425.75" x2="1245.8" y2="1425.75" stroke="#262626" stroke-width="1.8"/>
<line x1="1157.16" y1="1792.1" x2="1157.16" y2="1789.3" stroke="#262626" stroke-width="1.8"/>
<line x1="1157.16" y1="1313.7" x2="1157.16" y2="1316.5" stroke="#262626" stroke-width="1.8"/>
<line x1="732.5" y1="1398.46" x2="735.3" y2="1398.46" stroke="#262626" stroke-width="1.8"/>
<line x1="1248.6" y1="1398.46" x2="1245.8" y2="1398.46" stroke="#262626" stroke-width="1.8"/>
<line x1="1181.21" y1="1792.1" x2="1181.21" y2="1789.3" stroke="#262626" stroke-width="1.8"/>
<line x1="1181.21" y1="1313.7" x2="1181.21" y2="1316.5" stroke="#262626" stroke-width="1.8"/>
<line x1="732.5" y1="1376.17" x2="735.3" y2="1376.17" stroke="#262626" stroke-width="1.8"/>
<line x1="1248.6" y1="1376.17" x2="1245.8" y2="1376.17" stroke="#262626" stroke-width="1.8"/>
<line x1="1201.55" y1="1792.1" x2="1201.55" y2="1789.3" stroke="#262626" stroke-width="1.8"/>
<line x1="1201.55" y1="1313.7" x2="1201.55" y2="1316.5" stroke="#262626" stroke-width="1.8"/>
<line x1="732.5" y1="1357.32" x2="735.3" y2="1357.32" stroke="#262626" stroke-width="1.8"/>
<line x1="1248.6" y1="1357.32" x2="1245.8" y2="1357.32" stroke="#262626" stroke-width="1.8"/>
<line x1="1219.16" y1="1792.1" x2="1219.16" y2="1789.3" stroke="#262626" stroke-width="1.8"/>
<line x1="1219.16" y1="1313.7" x2="1219.16" y2="1316.5" stroke="#262626" stroke-width="1.8"/>
<line x1="732.5" y1="1340.99" x2="735.3" y2="1340.99" stroke="#262626" stroke-width="1.8"/>
<line x1="1248.6" y1="1340.99" x2="1245.8" y2="1340.99" stroke="#262626" stroke-width="1.8"/>
<line x1="1234.7" y1="1792.1" x2="1234.7" y2="1789.3" stroke="#262626" stroke-width="1.8"/>
<line x1="1234.7" y1="1313.7" x2="1234.7" y2="1316.5" stroke="#262626" stroke-width="1.8"/>
<line x1="732.5" y1="1326.58" x2="735.3" y2="1326.58" stroke="#262626" stroke-width="1.8"/>
<line x1="1248.6" y1="1326.58" x2="1245.8" y2="1326.58" stroke="#262626" stroke-width="1.8"/>
<text transform="matrix(1 0 0 1.04 0 -53.12)" x="675.11" y="1327.9" font-size="26" fill="#262626" textLength="27.36" lengthAdjust="spacingAndGlyphs">10</text>
<text transform="matrix(1 0 0 1.04 0 -52.62)" x="703.75" y="1315.5" font-size="20" fill="#262626" textLength="18.79" lengthAdjust="spacingAndGlyphs">-2</text>
<text transform="matrix(1 0 0 1.04 0 -64.38)" x="675.11" y="1609.48" font-size="26" fill="#262626" textLength="27.36" lengthAdjust="spacingAndGlyphs">10</text>
<text transform="matrix(1 0 0 1.04 0 -63.88)" x="703.76" y="1597.08" font-size="20" fill="#262626" textLength="18.56" lengthAdjust="spacingAndGlyphs">-3</text>
<text transform="matrix(1 0 0 1.04 0 -73.41)" x="920.34" y="1835.2" font-size="26" fill="#262626" textLength="27.36" lengthAdjust="spacingAndGlyphs">10</text>
<text transform="matrix(1 0 0 1.04 0 -72.92)" x="948.46" y="1822.9" font-size="20" fill="#262626" textLength="19.22" lengthAdjust="spacingAndGlyphs">-3</text>
<text transform="matrix(1 0 0 1.04 0 -73.41)" x="1224.11" y="1835.2" font-size="26" fill="#262626" textLength="27.36" lengthAdjust="spacingAndGlyphs">10</text>
<text transform="matrix(1 0 0 1.04 0 -72.92)" x="1252.22" y="1822.9" font-size="20" fill="#262626" textLength="19.46" lengthAdjust="spacingAndGlyphs">-2</text>
<text transform="matrix(1 0 0 1.04 0 -75.21)" x="834.53" y="1880.2" font-size="28" fill="#262626" textLength="278.81" lengthAdjust="spacingAndGlyphs">BGC-Argo bbp532 (m</text>
<text transform="matrix(1 0 0 1.04 0 -74.64)" x="1114.43" y="1866" font-size="20" fill="#262626" textLength="17.23" lengthAdjust="spacingAndGlyphs">-1</text>
<text transform="matrix(1 0 0 1.04 0 -75.21)" x="1137.6" y="1880.2" font-size="28" fill="#262626">)</text>
<text transform="translate(664.2 1687.57) rotate(-90) scale(1 1.04)" x="0" y="0" font-size="28" fill="#262626" textLength="240.24" lengthAdjust="spacingAndGlyphs">MODIS bbp532 (m</text>
<text transform="translate(649.9 1447.13) rotate(-90) scale(1 1.04)" x="0" y="0" font-size="20" fill="#262626" textLength="16.45" lengthAdjust="spacingAndGlyphs">-1</text>
<text transform="translate(664.2 1424.1) rotate(-90) scale(1 1.04)" x="0" y="0" font-size="28" fill="#262626">)</text>
<defs><linearGradient id="g1313" x1="0" y1="0" x2="0" y2="1"><stop offset="0" stop-color="#800000"/><stop offset="0.02" stop-color="#8f0000"/><stop offset="0.03" stop-color="#9f0000"/><stop offset="0.05" stop-color="#af0000"/><stop offset="0.06" stop-color="#bf0000"/><stop offset="0.08" stop-color="#cf0000"/><stop offset="0.09" stop-color="#df0000"/><stop offset="0.11" stop-color="#ef0000"/><stop offset="0.12" stop-color="#ff0000"/><stop offset="0.14" stop-color="#ff1000"/><stop offset="0.16" stop-color="#ff2000"/><stop offset="0.17" stop-color="#ff3000"/><stop offset="0.19" stop-color="#ff4000"/><stop offset="0.2" stop-color="#ff5000"/><stop offset="0.22" stop-color="#ff6000"/><stop offset="0.23" stop-color="#ff7000"/><stop offset="0.25" stop-color="#ff8000"/><stop offset="0.27" stop-color="#ff8f00"/><stop offset="0.28" stop-color="#ff9f00"/><stop offset="0.3" stop-color="#ffaf00"/><stop offset="0.31" stop-color="#ffbf00"/><stop offset="0.33" stop-color="#ffcf00"/><stop offset="0.34" stop-color="#ffdf00"/><stop offset="0.36" stop-color="#ffef00"/><stop offset="0.38" stop-color="#ffff00"/><stop offset="0.39" stop-color="#efff10"/><stop offset="0.41" stop-color="#dfff20"/><stop offset="0.42" stop-color="#cfff30"/><stop offset="0.44" stop-color="#bfff40"/><stop offset="0.45" stop-color="#afff50"/><stop offset="0.47" stop-color="#9fff60"/><stop offset="0.48" stop-color="#8fff70"/><stop offset="0.5" stop-color="#80ff80"/><stop offset="0.52" stop-color="#70ff8f"/><stop offset="0.53" stop-color="#60ff9f"/><stop offset="0.55" stop-color="#50ffaf"/><stop offset="0.56" stop-color="#40ffbf"/><stop offset="0.58" stop-color="#30ffcf"/><stop offset="0.59" stop-color="#20ffdf"/><stop offset="0.61" stop-color="#10ffef"/><stop offset="0.62" stop-color="#00ffff"/><stop offset="0.64" stop-color="#00efff"/><stop offset="0.66" stop-color="#00dfff"/><stop offset="0.67" stop-color="#00cfff"/><stop offset="0.69" stop-color="#00bfff"/><stop offset="0.7" stop-color="#00afff"/><stop offset="0.72" stop-color="#009fff"/><stop offset="0.73" stop-color="#008fff"/><stop offset="0.75" stop-color="#0080ff"/><stop offset="0.77" stop-color="#0070ff"/><stop offset="0.78" stop-color="#0060ff"/><stop offset="0.8" stop-color="#0050ff"/><stop offset="0.81" stop-color="#0040ff"/><stop offset="0.83" stop-color="#0030ff"/><stop offset="0.84" stop-color="#0020ff"/><stop offset="0.86" stop-color="#0010ff"/><stop offset="0.88" stop-color="#0000ff"/><stop offset="0.89" stop-color="#0000ef"/><stop offset="0.91" stop-color="#0000df"/><stop offset="0.92" stop-color="#0000cf"/><stop offset="0.94" stop-color="#0000bf"/><stop offset="0.95" stop-color="#0000af"/><stop offset="0.97" stop-color="#00009f"/><stop offset="0.98" stop-color="#00008f"/><stop offset="1" stop-color="#000080"/></linearGradient></defs>
<rect x="1289" y="1313.8" width="21.6" height="478.2" fill="url(#g1313)" stroke="#1a1a1a" stroke-width="1.1" stroke-opacity="0.8"/>
<text transform="matrix(1 0 0 1.04 0 -53.05)" x="1320.1" y="1326.2" font-size="24" fill="#262626" textLength="25.24" lengthAdjust="spacingAndGlyphs">10</text>
<text transform="matrix(1 0 0 1.04 0 -52.6)" x="1347.18" y="1315.1" font-size="18" fill="#262626" textLength="10.24" lengthAdjust="spacingAndGlyphs">0</text>
<text transform="matrix(1 0 0 1.04 0 -72.21)" x="1320.1" y="1805.3" font-size="24" fill="#262626" textLength="25.24" lengthAdjust="spacingAndGlyphs">10</text>
<text transform="matrix(1 0 0 1.04 0 -71.76)" x="1347.17" y="1794.1" font-size="18" fill="#262626" textLength="14.55" lengthAdjust="spacingAndGlyphs">-1</text>
<text transform="translate(1393.9 1621.27) rotate(-90) scale(1 1.04)" x="0" y="0" font-size="24" fill="#262626" textLength="135.29" lengthAdjust="spacingAndGlyphs">Point density</text>
<text transform="matrix(1 0 0 1.04 0 -54)" x="750.44" y="1350" font-size="26" fill="#000" textLength="92.56" lengthAdjust="spacingAndGlyphs">N = 112</text>
<text transform="matrix(1 0 0 1.04 0 -55.63)" x="750.48" y="1390.7" font-size="26" fill="#000" textLength="214.88" lengthAdjust="spacingAndGlyphs">RMSE = 0.0008 m</text>
<text transform="matrix(1 0 0 1.04 0 -55.17)" x="964.62" y="1379.2" font-size="20" fill="#000" textLength="17.45" lengthAdjust="spacingAndGlyphs">-1</text>
<text transform="matrix(1 0 0 1.04 0 -57.25)" x="750.5" y="1431.3" font-size="26" fill="#000">R</text>
<text transform="matrix(1 0 0 1.04 0 -56.77)" x="771.09" y="1419.3" font-size="20" fill="#000" textLength="12.35" lengthAdjust="spacingAndGlyphs">2</text>
<text transform="matrix(1 0 0 1.04 0 -57.25)" x="790.28" y="1431.3" font-size="26" fill="#000" textLength="103.16" lengthAdjust="spacingAndGlyphs">= 0.4385</text>
<path d="M804.5 880.7h0M1007.5 972.5h0M788.2 886.7h0M833.4 856.7h0M855.1 856.0h0M793.7 970.5h0M782.7 886.4h0M787.8 962.3h0M869.3 856.1h0M820.6 986.4h0M790.8 938.3h0M928.4 848.3h0M785.6 908.3h0M857.5 858.6h0M806.6 965.3h0M864.4 1005.0h0M1022.2 955.5h0M748.5 938.4h0M775.9 913.9h0M1018.5 986.0h0M787.5 894.9h0M790.2 935.2h0M831.7 985.3h0M871.3 853.8h0M765.9 886.4h0M784.7 899.8h0M771.5 907.1h0M855.3 993.8h0M784.2 930.4h0M743.9 904.8h0M780.8 930.6h0M788.4 890.8h0M794.9 946.7h0M834.3 990.1h0M1001.2 980.7h0M792.8 890.7h0M850.4 1003.0h0M806.4 965.2h0M799.8 886.1h0M1039.0 941.1h0M791.8 881.8h0M797.8 968.4h0M746.1 890.7h0M1143.3 726.9h0M1182.3 690.8h0M1075.4 877.8h0M1118.9 820.9h0M1026.9 803.4h0M1051.5 947.7h0M1076.3 878.6h0M1125.0 729.8h0M1199.2 751.4h0M1190.7 683.5h0M1128.5 745.7h0M1167.2 794.2h0M1130.3 819.6h0M1165.4 740.2h0M1230.1 713.7h0M1152.5 789.5h0M1161.2 762.6h0M1061.5 776.3h0M1100.1 893.8h0M1204.3 775.0h0M1204.4 726.5h0M1161.8 871.0h0M1200.1 745.4h0M1139.9 735.6h0M1133.0 821.8h0M1157.1 761.0h0M1196.2 758.1h0M1058.7 965.8h0M1060.9 790.1h0M1184.8 830.1h0M1083.6 769.3h0M1187.3 818.2h0M1148.5 720.2h0M1131.5 743.0h0M1188.4 750.0h0M1112.0 829.4h0M1138.9 819.9h0M1083.2 885.0h0M1195.7 861.5h0M1187.0 783.4h0M1178.6 698.3h0M1027.0 800.1h0M1097.6 751.8h0M1171.6 721.3h0M1177.5 852.6h0M1106.7 831.6h0M1174.8 771.1h0M1194.8 728.0h0M1143.2 717.0h0M1154.8 804.6h0M1207.3 735.3h0M1175.5 721.1h0M1157.8 833.7h0M1116.4 853.9h0M1039.8 943.4h0M1133.8 809.6h0M1212.1 718.2h0M1083.1 944.5h0M1181.5 809.3h0M1180.4 735.0h0M1122.2 906.8h0M1084.0 862.4h0M1194.3 732.7h0M1176.8 710.7h0M1001.9 817.4h0M1109.4 871.0h0M1192.3 769.0h0M1129.0 819.0h0M1120.5 716.8h0M1215.6 832.1h0M1231.8 682.5h0M1224.8 684.7h0M1153.7 793.3h0M1180.5 714.5h0M1178.0 685.6h0M1221.6 701.5h0M935.0 823.6h0M1033.7 793.6h0M1061.4 775.2h0M1086.9 899.7h0M1136.1 812.3h0M1154.8 726.1h0M1076.3 713.3h0M1125.4 830.8h0M1143.9 721.1h0M1153.3 732.1h0M1237.2 783.4h0M1050.6 921.7h0M1182.0 707.1h0M1114.8 823.7h0M976.8 812.5h0M1161.4 789.3h0M1243.7 716.4h0M1160.9 685.3h0M1180.7 705.4h0M1110.4 843.4h0M966.8 824.2h0M1214.7 790.4h0M1132.8 813.4h0M1083.3 739.6h0M1217.3 827.4h0M1149.8 809.7h0M1158.0 797.2h0M1185.2 741.0h0M1092.5 768.2h0M1213.6 680.6h0M1095.1 885.0h0M1156.3 723.3h0M1112.9 872.9h0M1106.0 859.3h0M1140.3 838.0h0M1172.9 813.0h0M1185.7 697.1h0M1101.4 861.3h0M1168.4 729.7h0M1161.8 763.0h0M1000.8 793.0h0M1162.8 707.7h0M1188.3 731.5h0M1064.4 892.6h0M1195.1 781.0h0M1240.7 731.0h0M1147.1 846.0h0M1084.8 866.1h0M989.1 810.5h0M1086.0 911.1h0M978.9 807.2h0M1187.6 687.7h0M1232.5 679.6h0M1138.0 717.7h0M1195.2 717.5h0M1167.7 699.6h0M1032.3 803.2h0M1189.2 817.3h0M1242.1 746.3h0M1105.5 761.4h0M1201.5 749.6h0M1225.7 704.6h0M1185.9 747.9h0M1086.7 862.5h0M1158.7 792.0h0M1192.6 696.5h0M1180.2 755.9h0M951.0 827.4h0M1222.4 686.1h0M1113.8 827.3h0M1210.3 775.1h0M1178.6 702.9h0M1204.6 711.0h0M1186.4 729.6h0M1243.5 738.9h0M1028.2 777.1h0M1047.7 938.4h0M1108.6 754.5h0M1034.1 777.0h0M1198.8 701.4h0M1134.0 814.8h0M1174.3 771.2h0M1141.4 687.5h0M1095.7 720.1h0M1173.2 707.8h0M1168.9 791.8h0M1207.5 799.2h0M1065.2 786.2h0M1161.4 879.4h0M1164.2 691.4h0M1133.2 810.2h0M1091.1 758.9h0M1180.9 711.8h0M1212.1 685.3h0M1170.8 735.6h0M1208.2 694.8h0M1120.9 822.4h0M1197.8 720.8h0M1171.2 721.4h0M1197.2 687.1h0M1027.3 798.5h0M1188.1 769.7h0M1047.6 950.3h0M1229.0 678.0h0M1235.1 747.0h0M1140.4 708.6h0M1071.9 763.4h0M1201.3 808.2h0M1178.2 845.4h0M1146.1 698.9h0M1202.0 773.1h0M1154.1 689.5h0M1179.9 746.3h0M1198.3 783.9h0M1174.8 707.3h0M1138.7 733.0h0M1163.9 729.3h0M1131.8 739.4h0M1126.4 819.3h0M1244.0 701.0h0M1219.9 695.6h0M1076.3 776.4h0M1029.1 785.3h0M1205.8 727.5h0M1187.5 726.4h0M995.6 768.7h0M1196.2 748.1h0M1033.1 762.3h0M1054.5 922.1h0M1176.0 715.7h0M1186.7 708.6h0M1244.2 714.2h0M1212.5 697.0h0M1155.5 711.7h0M1238.7 736.8h0M1188.8 746.2h0M939.8 837.8h0M1184.8 727.9h0M1222.4 709.3h0M1234.3 675.9h0M1234.0 676.6h0M1029.2 807.7h0M1023.8 778.5h0M1018.2 782.4h0M1207.9 711.1h0M1143.7 731.2h0M1128.6 735.9h0M1149.6 798.5h0M1222.2 680.0h0M1018.3 793.8h0M1245.0 705.8h0M1204.2 792.8h0M1110.4 752.5h0M1132.8 874.5h0M1231.6 703.1h0M1165.0 822.0h0M1144.8 721.2h0M1117.9 747.4h0M1205.7 772.2h0M1220.5 724.0h0M1060.5 781.1h0M1231.9 699.8h0M1175.3 765.6h0M1215.4 681.6h0M1201.4 789.9h0M1228.4 765.6h0M1101.0 843.5h0M1235.5 704.4h0M1102.9 757.6h0M1170.9 809.1h0M1191.2 684.2h0M1047.2 772.0h0M1236.9 702.6h0M1157.4 729.5h0M1140.5 819.1h0M1146.7 836.9h0M1055.7 978.2h0M1233.4 755.8h0M1225.4 716.2h0M1221.3 701.0h0M1210.3 736.7h0M1168.9 715.2h0M1130.5 835.2h0M1174.6 773.6h0M1044.5 783.1h0M1093.2 858.8h0M1030.4 781.6h0M1179.2 790.6h0M1203.4 832.5h0M1191.6 751.3h0M1021.5 808.0h0M1170.9 711.4h0M1202.5 702.4h0M1131.6 710.7h0M1187.0 702.3h0M1172.0 738.2h0M1051.8 936.8h0M1181.4 718.3h0M1220.1 732.7h0M1058.5 904.9h0M1088.9 908.1h0M1189.7 831.8h0M1085.3 861.6h0M1153.7 701.3h0M1120.8 715.3h0M1120.5 749.2h0M1129.3 724.6h0M1152.7 782.4h0M1181.4 746.1h0M1029.7 946.4h0M1123.8 738.1h0M1190.2 706.1h0M1139.6 737.4h0M1090.5 960.6h0M1178.8 733.1h0M1199.4 716.7h0M1162.2 689.4h0M1073.8 765.4h0M1179.4 715.5h0M1043.5 799.8h0M1142.5 708.8h0M1176.9 727.4h0M1218.9 698.1h0M1198.7 690.6h0M1075.9 886.5h0M1231.4 783.9h0M1165.6 783.9h0M1159.5 716.5h0M1119.1 745.5h0M1120.2 745.9h0M1156.7 850.5h0M1203.6 781.5h0M1189.4 686.5h0M1165.4 719.7h0M1178.2 812.1h0M1158.0 899.9h0M1054.7 938.0h0M1198.7 797.3h0M1098.3 763.6h0M1167.0 773.8h0M1117.0 843.8h0M1158.8 823.2h0M1040.7 797.7h0M1155.7 790.4h0M1199.0 714.8h0M1155.1 887.4h0M1201.2 690.4h0M1145.3 723.5h0M1126.4 888.8h0M1196.8 704.4h0M1047.9 928.2h0M1152.0 839.9h0M1085.0 883.7h0M1071.4 779.5h0M1187.6 712.9h0M1182.3 768.7h0M1182.5 842.2h0M1108.7 866.4h0M1119.7 748.4h0M1074.5 779.4h0M1161.2 781.1h0M1105.4 760.1h0M1094.6 867.5h0M1218.0 690.1h0M1172.7 834.2h0M1215.4 685.1h0M1241.6 715.0h0M1012.0 752.3h0M1186.5 797.5h0M1200.2 724.9h0M1202.4 717.2h0M1214.8 677.0h0M1095.5 892.8h0M1160.5 810.3h0M1151.8 785.2h0M1128.4 741.7h0M1222.4 722.7h0M1057.7 790.0h0M1051.4 773.5h0M1034.4 761.6h0M1215.8 780.0h0M1000.4 807.3h0M1202.7 848.6h0M1149.5 856.3h0M1075.9 748.4h0M1179.7 708.0h0M1176.8 799.5h0M1181.2 699.4h0M1160.0 714.0h0M1160.5 821.6h0M1099.1 886.6h0M1221.8 688.1h0M1147.6 719.8h0M1140.0 715.4h0M1229.4 685.6h0M1091.3 748.7h0M1213.5 689.5h0M1180.2 713.6h0M1151.0 723.2h0M973.5 833.1h0M1205.5 760.1h0M1146.3 685.6h0M1214.6 696.0h0M1187.8 753.8h0M1174.1 693.9h0M1159.2 755.0h0M1085.8 920.4h0M1116.5 873.4h0M1162.9 771.7h0M1194.2 688.6h0M1147.4 708.3h0M937.5 823.3h0M1128.7 833.1h0M1116.3 845.9h0M1154.6 733.4h0M1147.5 808.5h0M1134.5 732.2h0M1127.5 711.7h0M1051.9 789.7h0M1141.8 863.4h0M1225.8 752.7h0M1059.3 896.8h0M1234.9 686.9h0M1241.1 775.7h0M1107.2 892.2h0M1177.2 735.0h0M1185.1 680.9h0M1138.3 833.2h0M1197.8 748.0h0M1182.0 719.4h0M1090.8 750.3h0M998.8 805.5h0M1123.5 726.6h0M1240.0 791.5h0M1094.8 746.4h0M1005.1 781.7h0M1121.9 743.1h0M1208.7 695.8h0M1043.0 932.6h0M1113.0 887.7h0M1045.2 966.0h0M1173.8 868.0h0M1071.3 900.0h0M1197.3 677.7h0M1237.7 761.9h0M1080.6 892.9h0M1073.6 746.8h0M1090.3 735.6h0M1096.4 761.3h0M1048.5 944.5h0M1158.1 823.4h0M1072.4 781.2h0M1169.4 843.6h0M1049.8 767.4h0M1083.1 740.9h0M1149.9 731.9h0M1114.0 870.1h0M1226.8 676.0h0M1210.0 681.1h0M1212.5 768.2h0M1018.2 800.0h0M1171.0 774.4h0M1236.2 745.2h0M1228.0 682.5h0M1194.2 739.5h0M1228.0 735.5h0M1206.6 744.5h0M1110.8 893.9h0M1087.9 760.3h0M1192.6 717.2h0M1234.8 719.1h0M1090.7 869.1h0M1161.3 744.5h0M1114.3 834.0h0M994.1 820.8h0M1083.3 895.1h0M1165.1 741.2h0M1002.6 818.3h0M1045.3 793.9h0M957.2 839.2h0M1000.1 790.2h0M1076.7 764.3h0M1196.8 727.5h0M1244.6 707.8h0M1133.9 842.2h0M1111.2 826.5h0M1169.5 777.2h0M1179.0 791.0h0M1206.2 766.6h0M1142.6 848.8h0M1231.0 826.7h0M1159.0 718.6h0M1062.8 898.8h0M1197.9 702.2h0M1240.3 703.6h0M1179.8 710.4h0M1219.3 756.0h0M1117.6 750.3h0M979.6 804.4h0M1056.7 905.1h0M1166.6 733.2h0M1139.9 732.4h0M1207.1 695.0h0M1198.0 724.0h0M1222.0 740.5h0M1117.5 745.0h0M943.1 844.8h0M1229.8 697.6h0M1081.5 748.5h0M1072.1 881.7h0M1242.5 742.1h0M1107.8 901.9h0M1188.4 711.0h0M1027.5 771.1h0M1106.9 707.5h0M1214.0 778.9h0M1179.8 718.6h0M1102.2 737.4h0M1178.2 717.3h0M948.9 842.3h0M1175.4 677.6h0M1145.9 822.0h0M1164.1 831.0h0M1215.8 766.6h0M1099.1 870.6h0M1079.3 770.9h0M1053.9 952.4h0M1220.8 743.1h0M1115.4 926.9h0M1136.0 738.3h0M1190.5 809.4h0M1176.3 745.9h0M1199.8 707.8h0M1145.6 850.9h0M1189.7 763.7h0M1222.5 679.1h0M1135.8 716.5h0M1135.6 729.7h0M1195.9 767.3h0M1103.2 831.4h0M1057.9 922.7h0M1111.3 858.9h0M1222.3 680.9h0M1241.1 720.7h0M1189.3 678.2h0M1087.0 767.0h0M1153.6 798.7h0M1232.5 689.5h0M1142.2 817.6h0M978.4 821.9h0M1189.7 767.9h0M1140.8 736.8h0M1232.5 703.5h0M1245.5 751.4h0M1138.1 851.1h0M937.1 826.6h0M1076.6 743.5h0M1119.9 720.2h0M1174.1 793.8h0M1242.5 758.1h0M1186.2 703.7h0M1181.8 769.6h0M1231.3 811.6h0M1079.0 918.2h0M1015.6 758.1h0M1052.5 940.0h0M1133.0 722.4h0M1179.2 708.0h0M1093.3 849.0h0M1217.2 697.5h0M1166.8 733.3h0M1172.9 698.7h0M1183.8 693.7h0M1188.1 691.0h0M1222.5 735.3h0M1047.2 789.5h0M1186.1 707.9h0M1199.2 689.2h0M1167.2 816.1h0M1207.8 699.2h0M1176.8 757.5h0M1175.9 803.0h0M1189.9 716.9h0M1074.5 776.1h0M1225.9 779.7h0M1210.9 694.8h0M1097.9 858.5h0M1142.9 695.5h0M1210.9 808.1h0M1172.4 865.1h0M1204.9 699.3h0M1087.7 864.5h0M1209.3 696.5h0M1166.7 686.0h0M1214.4 702.0h0M1198.6 781.7h0M986.7 1042.9h0M849.3 1063.4h0M1000.7 1012.8h0M813.9 1015.3h0M911.8 1090.2h0M946.3 1111.2h0M881.7 1054.6h0M902.6 1072.6h0M925.1 1104.7h0M904.8 1074.3h0M996.7 1001.2h0M902.7 1107.9h0M910.4 1068.1h0M899.6 1077.8h0M907.8 1067.9h0M939.1 1084.4h0M992.0 1090.1h0M938.1 1077.2h0M944.6 1078.0h0M877.4 1024.5h0M961.2 1064.0h0M935.9 1081.2h0M979.6 1087.4h0M868.6 1011.0h0M1022.3 955.7h0M985.7 1041.0h0M855.6 994.2h0M942.3 1077.7h0M988.1 1026.9h0M957.0 1075.0h0M948.8 1073.2h0M920.9 1086.3h0M989.2 1056.0h0M932.3 1103.1h0M968.4 1106.0h0M1011.6 1023.6h0M941.4 1091.4h0M917.9 1089.2h0M959.4 1062.7h0M871.8 1036.4h0M868.9 1047.2h0M1009.9 1082.8h0M907.0 1070.9h0M961.8 1085.3h0M909.4 1082.8h0M933.9 1081.7h0M1026.4 1022.1h0M929.8 1101.8h0M996.3 1090.5h0M1027.9 1013.6h0M930.9 1120.2h0M917.2 1094.8h0M889.9 1077.1h0M1013.1 1017.0h0M981.9 1076.9h0M893.7 1135.0h0M897.8 1072.6h0M956.9 1069.4h0M872.1 1076.9h0M900.8 1071.7h0M874.5 1026.4h0M888.2 1060.4h0M901.9 1105.8h0M971.3 1058.3h0M940.2 1095.7h0M932.6 1074.0h0M915.4 1108.6h0M917.0 1075.5h0M940.0 1071.2h0M912.8 1081.4h0M870.7 1009.8h0M900.2 1138.0h0M891.0 1067.7h0M971.3 1079.2h0M976.3 1094.9h0M883.5 1079.0h0M982.8 1066.8h0M979.1 1104.4h0M957.5 1079.0h0M988.8 1044.2h0M987.0 1052.4h0M985.7 1026.9h0M948.7 1098.6h0M875.1 1043.4h0M865.7 1008.4h0M892.9 1089.1h0M853.2 1027.5h0M849.8 1049.0h0M973.6 1068.1h0M901.7 1143.9h0M905.7 1098.3h0M993.5 1011.1h0M941.4 1072.6h0M885.0 1060.8h0M964.6 1075.3h0M889.9 1082.8h0M920.4 1078.0h0M864.7 1057.5h0M891.7 1084.9h0M952.6 1081.5h0M807.7 977.7h0M959.6 1089.4h0M974.9 1059.9h0M903.1 1066.4h0M883.1 1046.3h0M867.6 1045.9h0M923.9 1075.0h0M994.6 1006.5h0M977.8 1070.2h0M933.4 1079.3h0M996.4 994.5h0M925.9 1073.4h0M862.1 1044.7h0M868.7 1037.0h0M904.3 1075.0h0M964.9 1097.1h0M964.2 1066.5h0M949.3 1072.8h0M1009.9 984.2h0M1024.8 993.7h0M874.6 1022.5h0M971.8 1076.9h0M921.8 1072.8h0M995.5 1022.2h0M870.0 1015.8h0M824.1 997.5h0M913.8 1082.1h0M964.2 1107.0h0M955.4 1087.9h0M905.6 1072.2h0M979.8 1051.6h0M1008.0 1066.3h0M883.7 1086.6h0M897.3 1098.1h0M799.5 887.0h0M771.6 914.2h0M749.6 881.8h0M784.4 906.4h0M768.5 931.6h0M744.5 950.1h0M769.2 972.9h0M761.6 953.4h0M794.9 993.6h0M816.8 984.9h0M745.2 898.4h0M752.9 939.7h0M782.2 902.1h0M771.5 915.5h0M777.0 944.5h0M753.1 921.1h0M774.3 949.4h0M800.8 954.8h0M774.4 944.0h0M789.9 946.2h0M782.8 888.9h0M763.9 912.3h0M1166.4 992.3h0M804.7 1100.9h0M1217.8 1008.3h0M944.1 1140.9h0M753.9 805.6h0M861.5 811.5h0M1189.8 762.8h0M1111.6 1039.1h0M1018.9 710.5h0M1016.8 959.6h0M742.1 875.9h0M838.1 1082.7h0M1050.8 1102.9h0M898.2 1062.5h0M1105.4 1043.2h0M1094.0 738.3h0M1136.4 926.4h0M953.1 807.4h0M1156.4 923.0h0M1041.4 980.0h0M1138.2 1142.7h0M970.3 816.9h0M863.8 839.6h0M789.7 855.4h0M1152.7 1029.5h0M939.6 1077.6h0M803.2 1098.7h0M1030.0 734.5h0M1231.8 851.1h0M1036.9 1103.8h0M1147.0 1004.6h0M1208.3 798.6h0M1086.7 972.5h0M1191.6 858.6h0M1203.9 776.0h0M1218.2 973.9h0M1132.1 826.7h0M1214.2 872.8h0M1111.3 917.5h0M1085.0 996.8h0M1177.7 941.1h0M1214.4 939.4h0M1154.6 954.9h0M1132.1 1031.0h0M1157.0 811.8h0M1229.9 967.8h0M1031.9 983.1h0M1099.6 864.2h0M1229.1 826.3h0M1134.0 682.1h0M1169.1 839.9h0M1157.3 811.8h0M1243.3 1011.0h0M1169.0 939.9h0M1200.3 945.6h0M1200.4 931.0h0M1095.3 853.6h0M1104.5 884.9h0M1227.0 849.0h0M1236.8 920.3h0M1139.3 850.6h0M1157.0 1017.5h0M1156.9 866.9h0M1199.0 894.8h0M1179.2 1005.2h0M1097.0 882.9h0M1240.8 820.8h0M1169.0 763.1h0M1189.0 922.8h0M1127.7 947.0h0M1168.8 829.2h0M1223.4 837.0h0M1071.3 935.5h0M1239.6 895.2h0M1094.1 964.7h0M1183.3 714.4h0M1142.4 874.3h0M1076.1 919.1h0M1181.1 939.1h0M1104.4 928.4h0M1244.6 795.6h0M1135.3 869.6h0M1177.7 924.0h0M1244.7 894.9h0M1165.6 912.0h0M1080.7 941.3h0M1072.7 990.0h0M1040.6 763.7h0M1102.6 907.6h0M1117.9 974.2h0M1140.8 969.6h0M1186.9 877.8h0M1202.3 784.9h0M1096.8 882.2h0M1127.6 928.9h0M1167.3 900.1h0M1114.3 825.1h0M1102.3 842.2h0M1237.8 852.4h0M1054.2 759.6h0M1071.9 1075.9h0M1111.6 950.6h0M1144.5 839.1h0M1166.4 914.1h0M1103.8 881.2h0M1124.1 981.7h0M1107.0 872.6h0M1210.8 783.6h0M1045.5 761.5h0M1077.8 1000.9h0M1117.0 1019.4h0M1146.3 870.0h0M1173.7 786.0h0M1099.2 971.1h0M1126.6 892.0h0M1118.5 1028.1h0M1137.6 883.6h0M1111.2 965.8h0M976.9 820.5h0M1119.8 1066.2h0M1187.5 927.9h0M1097.0 763.1h0M1186.9 919.3h0M1164.1 873.3h0M1194.0 989.8h0M1120.3 853.8h0M1222.7 922.7h0M1160.2 726.6h0M1166.8 866.6h0M1069.0 1054.7h0M1165.5 942.6h0M1216.1 986.7h0M1130.1 925.9h0M1208.4 981.1h0M1137.0 857.1h0M1183.3 891.3h0M1133.0 896.2h0M1151.0 826.5h0M1142.9 901.6h0M1127.0 903.8h0M985.5 1106.2h0M1125.0 879.1h0M1166.4 1038.4h0M1139.0 806.1h0M1087.7 955.8h0M1208.6 868.7h0M1153.5 795.0h0M1094.3 1061.7h0M1118.6 742.0h0M1192.5 907.1h0M1121.5 819.9h0M1062.1 1022.1h0M1114.3 877.2h0M1029.4 1027.2h0M1226.9 955.2h0M1126.7 881.0h0M1178.0 797.7h0M1233.8 917.7h0M1192.4 817.5h0M812.0 961.1h0M1148.7 788.9h0M1077.8 871.1h0M888.3 1053.5h0M1114.3 821.9h0M1115.7 820.4h0M1085.7 775.6h0M1030.9 806.7h0M1151.8 783.4h0M1144.3 741.2h0M1076.9 781.6h0M794.8 940.7h0M795.5 941.7h0M788.0 904.1h0M1154.6 742.9h0M1149.5 741.3h0M852.9 991.1h0M1155.7 761.1h0M1046.8 914.7h0M1131.8 747.1h0M1114.0 756.2h0M1070.0 786.3h0M1126.6 749.4h0M1062.1 888.6h0M973.7 1047.7h0M1044.1 801.1h0M1140.1 800.9h0M1149.0 785.7h0M1145.0 743.3h0M1148.0 743.3h0M1153.3 746.5h0M1150.4 745.7h0M1070.1 879.3h0M1019.5 812.3h0M961.6 1058.6h0M954.5 1063.1h0M1153.2 762.2h0M858.8 994.7h0M882.4 1038.1h0M1099.4 766.2h0M1141.1 745.1h0M950.2 1064.9h0M1135.7 747.4h0M1147.4 745.2h0M1146.9 744.1h0M1110.0 822.8h0M1128.3 808.6h0M962.9 1056.5h0M936.6 1068.7h0M936.1 1068.4h0M1122.5 753.6h0M1136.4 747.7h0M808.3 881.7h0M1151.7 751.8h0M1147.4 785.5h0M1112.6 758.8h0M1134.5 803.2h0M1149.9 748.4h0M1082.3 779.6h0M1150.3 762.6h0" stroke="#000087" stroke-width="4.00" stroke-linecap="square" fill="none"/>
<path d="M827.4 972.2h0M1024.9 811.3h0M1129.1 750.1h0M1091.5 840.7h0M1106.0 825.9h0M1104.4 825.3h0M1069.4 789.2h0M1074.4 785.8h0M886.3 1047.8h0M1112.4 819.8h0M1149.1 772.4h0M924.0 1069.7h0M1112.0 761.5h0M1080.7 781.2h0M1144.3 787.7h0M1146.9 750.2h0M1076.6 866.0h0M1140.5 749.7h0M1087.9 777.0h0M894.6 1056.9h0M894.7 1056.6h0M893.3 1054.8h0M999.5 822.4h0M1149.1 767.3h0M1129.8 806.8h0M974.8 834.7h0M1069.8 877.6h0M1066.8 791.8h0M1144.7 750.8h0M1132.4 802.3h0M1058.3 889.9h0M1048.6 801.9h0M1135.6 750.9h0M1078.6 863.8h0M1147.6 754.5h0M1114.0 760.0h0M1137.9 750.0h0M1091.3 774.3h0M1061.3 794.3h0M1061.8 794.5h0M1060.4 794.4h0M1148.0 756.2h0M1146.7 773.1h0M1118.1 759.4h0M1147.5 770.0h0M888.3 1048.9h0M1142.8 752.4h0M1146.1 754.3h0M1082.7 780.1h0M908.7 1064.6h0M820.3 875.4h0M1133.4 753.6h0M994.3 987.1h0M994.5 987.9h0M1113.5 816.1h0M1136.0 753.5h0M1138.2 752.4h0M1143.4 755.2h0M1076.4 865.2h0M1145.7 776.2h0M1055.6 799.8h0M1140.8 789.3h0M1142.1 789.2h0M1140.5 789.4h0M1145.7 767.7h0M1109.1 765.0h0M1133.8 754.3h0M1121.5 758.3h0" stroke="#000097" stroke-width="4.00" stroke-linecap="square" fill="none"/>
<path d="M1143.7 781.8h0M1084.8 780.7h0M981.4 1028.9h0M985.2 831.5h0M1133.2 799.3h0M1122.6 758.5h0M1129.0 757.4h0M957.4 1059.2h0M936.4 1066.7h0M858.7 992.8h0M889.6 1046.0h0M1113.3 814.5h0M1039.8 807.7h0M1101.4 771.9h0M1014.5 817.3h0M1124.9 759.8h0M902.6 1061.1h0M885.9 1036.2h0M1090.6 834.4h0M972.0 1045.9h0M811.0 880.5h0M829.1 973.4h0M1025.5 812.2h0M1110.0 767.3h0M1099.5 773.0h0M1034.4 808.1h0M789.2 919.1h0M1071.6 870.9h0M1139.3 762.1h0M1127.4 803.0h0M1127.7 802.7h0M1141.1 775.7h0M992.8 989.9h0M876.0 1008.0h0M986.7 1008.3h0M1084.1 782.5h0M1059.3 798.6h0M870.1 1000.3h0M1131.1 760.5h0M880.5 1021.4h0M1138.8 780.3h0M1100.7 773.0h0M1137.7 764.8h0M972.9 1040.2h0M973.0 1041.8h0M1095.5 777.0h0M1137.5 787.7h0M1134.5 790.4h0M1123.2 762.1h0M1086.4 838.1h0M816.5 963.1h0M1127.7 800.2h0M954.5 1058.7h0M992.1 829.4h0M986.2 1007.4h0M987.3 1007.4h0M1046.2 804.4h0M986.4 830.7h0" stroke="#0000a7" stroke-width="4.00" stroke-linecap="square" fill="none"/>
<path d="M818.6 876.9h0M1115.4 766.0h0M897.5 1054.8h0M1107.3 770.0h0M1136.8 779.3h0M1130.8 764.8h0M1131.6 765.7h0M1135.7 787.3h0M1114.0 811.2h0M1128.8 797.0h0M1129.1 797.8h0M854.9 989.9h0M1116.8 767.8h0M1126.6 799.7h0M1101.7 775.8h0M861.3 992.5h0M902.3 1059.0h0M1134.8 776.0h0M1072.1 795.5h0M944.2 1063.9h0M945.5 1063.0h0M1087.3 784.6h0M1079.1 852.0h0M1029.3 813.5h0M1055.8 889.3h0M1103.7 775.4h0M843.4 981.4h0M1055.4 803.8h0M1122.8 800.1h0M883.3 1023.4h0M1114.0 808.5h0M1091.9 783.7h0M997.4 827.6h0M1113.3 770.6h0M1100.5 777.9h0M1123.8 769.0h0M934.3 1064.3h0M1045.1 909.3h0M1033.1 933.1h0M1108.7 810.4h0M1006.8 964.7h0M1130.8 774.7h0M889.8 1041.5h0M1131.1 777.5h0M1110.2 808.4h0M1053.2 890.4h0M1123.3 771.0h0M1070.9 797.4h0M955.8 1057.0h0" stroke="#0000b7" stroke-width="4.00" stroke-linecap="square" fill="none"/>
<path d="M929.9 1065.4h0M794.1 901.0h0M1125.2 795.3h0M998.2 975.5h0M828.6 873.3h0M1104.8 776.3h0M1128.4 782.9h0M1084.3 834.5h0M1103.6 778.2h0M1045.8 907.9h0M1123.9 795.9h0M1126.6 787.2h0M1096.3 782.4h0M1098.1 783.9h0M1125.9 776.1h0M968.0 1044.0h0M1084.6 791.4h0M1104.2 779.3h0M1104.2 779.6h0M1079.8 847.0h0M995.8 829.5h0M975.0 1033.3h0M1124.9 778.5h0M1123.4 792.2h0M958.9 1052.2h0M958.9 1052.9h0M1110.3 777.7h0M1125.6 781.4h0M1125.4 780.4h0M803.3 888.4h0M965.0 1046.5h0M1051.4 807.9h0M1050.8 807.2h0M1113.8 802.2h0M1107.4 778.6h0M1046.3 900.2h0M1123.3 779.6h0M984.7 1005.3h0M980.7 1018.5h0M1071.9 863.9h0M970.4 1038.6h0M907.2 1058.1h0M1091.3 822.6h0M1090.4 823.0h0M1109.1 779.5h0M1123.9 781.5h0M1101.3 782.1h0M1078.8 845.8h0M897.9 1051.4h0M986.3 996.7h0M1108.9 805.0h0M899.2 1053.4h0M899.6 1053.0h0M1035.5 813.6h0M1069.6 801.2h0M1112.4 800.9h0M1120.7 790.0h0M1099.5 812.4h0M990.0 991.7h0M1099.2 785.3h0M1092.6 818.7h0M1059.9 804.2h0M891.8 1041.2h0M1120.3 787.6h0M1120.8 787.1h0M969.9 1041.8h0M913.7 1060.4h0M955.5 1054.8h0" stroke="#0000c7" stroke-width="4.00" stroke-linecap="square" fill="none"/>
<path d="M1100.5 785.4h0M879.4 1009.2h0M1070.8 801.2h0M1112.9 798.0h0M980.2 1016.0h0M975.6 1030.8h0M871.9 998.7h0M846.4 867.0h0M1061.3 804.8h0M1099.4 786.9h0M1067.8 802.3h0M1115.2 794.1h0M1116.6 784.1h0M1106.2 802.0h0M1112.9 797.0h0M1077.5 847.2h0M1116.2 788.4h0M1098.0 789.8h0M1108.1 784.9h0M928.4 1062.6h0M1109.7 785.4h0M985.1 1000.7h0M892.0 1038.5h0M1010.8 822.7h0M914.4 1060.9h0M915.9 1060.3h0M1030.7 932.7h0M1113.1 793.3h0M940.2 1061.7h0M1104.2 786.3h0M959.4 1050.5h0M797.3 932.9h0M981.8 1015.4h0M1105.4 801.9h0M1111.1 790.5h0M1095.9 810.7h0M1006.9 824.1h0M1108.7 792.3h0M1088.8 797.3h0M977.2 838.6h0M1053.2 809.0h0M1085.6 798.1h0M911.6 1058.7h0M1066.5 804.2h0M906.3 1056.0h0M865.1 992.7h0M939.8 1061.8h0M1096.5 795.1h0M1080.7 800.7h0M1093.9 810.5h0M1100.1 795.7h0M1074.8 803.7h0M1100.6 798.7h0M793.5 907.2h0M1100.0 801.6h0M1094.9 806.5h0M1089.0 799.1h0M1091.8 813.1h0M1039.7 916.2h0M1042.0 813.9h0M1079.3 836.4h0M847.1 981.4h0M1055.8 809.0h0M1094.9 798.8h0M1085.7 823.0h0M1095.0 804.5h0M1084.7 800.5h0M1091.9 811.3h0M1070.2 805.6h0M966.9 1040.1h0M937.8 1060.6h0M1081.0 803.4h0" stroke="#0000d7" stroke-width="4.00" stroke-linecap="square" fill="none"/>
<path d="M1072.5 804.1h0M1073.2 805.5h0M1086.1 821.1h0M1084.6 803.4h0M814.9 957.6h0M1087.0 803.1h0M1083.8 824.1h0M899.5 857.8h0M1041.1 910.3h0M977.5 1022.3h0M1059.6 874.7h0M964.4 1043.3h0M972.7 1031.9h0M1085.9 805.3h0M982.7 837.7h0M1083.5 804.6h0M1084.0 804.6h0M1086.8 813.9h0M1086.2 813.2h0M834.7 972.0h0M1083.7 822.1h0M875.4 1000.3h0M958.2 1049.8h0M978.2 1016.5h0M922.5 1061.0h0M946.4 1057.4h0M792.4 913.8h0M792.1 913.7h0M892.2 1039.3h0M969.1 1036.9h0M1082.9 806.8h0M1075.1 807.5h0M1077.9 836.6h0M1062.6 808.0h0M1080.9 824.6h0M1080.4 809.0h0M1064.4 809.1h0M860.7 988.6h0M1073.6 847.8h0M1076.5 809.2h0M965.9 845.0h0M1062.8 866.1h0M975.6 1024.7h0M1081.3 818.6h0M1079.8 827.5h0M839.5 974.6h0M964.4 1040.5h0M905.7 1052.3h0M985.6 837.1h0M1017.9 823.8h0M970.6 842.7h0" stroke="#0000e7" stroke-width="4.00" stroke-linecap="square" fill="none"/>
<path d="M956.3 1048.9h0M1071.1 811.2h0M1071.0 810.5h0M1022.9 821.6h0M799.1 932.2h0M1071.7 848.2h0M889.2 1023.1h0M1077.3 829.1h0M909.8 1055.4h0M945.9 851.1h0M945.7 850.9h0M1013.4 825.3h0M920.5 1058.9h0M1058.9 870.2h0M1068.3 853.4h0M1069.5 852.4h0M1054.7 812.1h0M897.6 1042.3h0M821.8 960.2h0M796.6 900.2h0M1057.9 813.7h0M876.6 1001.8h0M1074.3 833.7h0M872.4 997.3h0M873.3 996.3h0M962.0 846.4h0M915.8 1057.4h0M1075.3 817.3h0M1020.3 942.0h0M1020.2 943.3h0M987.6 986.9h0M906.9 1052.9h0M1060.3 867.5h0M1074.9 831.2h0M910.3 1054.1h0M1075.3 827.8h0M1064.6 858.1h0M806.9 944.1h0M944.7 1054.6h0M944.7 1054.4h0M1069.5 848.7h0M1051.9 880.7h0M939.6 1057.1h0M1044.9 893.3h0M1060.7 864.3h0" stroke="#0000f7" stroke-width="4.00" stroke-linecap="square" fill="none"/>
<path d="M1056.6 870.1h0M909.3 1053.1h0M836.1 971.6h0M1073.9 829.9h0M1073.7 827.8h0M1067.3 817.7h0M1016.6 825.0h0M943.5 1055.3h0M1058.4 867.1h0M947.3 1052.8h0M947.5 1053.2h0M1064.7 817.3h0M920.9 1057.9h0M907.0 1050.8h0M970.4 1026.5h0M1064.1 817.2h0M1050.3 879.7h0M1061.2 862.3h0M1068.5 843.9h0M986.1 838.1h0M1067.8 818.8h0M905.7 1048.2h0M906.1 1049.5h0M932.8 1056.0h0M1059.5 817.2h0M1054.5 816.1h0M1036.3 912.8h0M1036.9 912.5h0M1069.8 841.9h0M899.1 1041.5h0M796.3 904.9h0M796.5 904.6h0M981.9 997.3h0M838.7 973.9h0M1001.2 964.3h0M980.5 840.5h0M1068.6 838.2h0M1010.0 829.4h0M1020.2 941.4h0M1049.1 880.8h0M1069.3 825.1h0M1068.8 824.5h0M917.3 1054.0h0M917.1 1054.6h0M973.6 1020.4h0M969.9 1028.9h0M1062.0 818.9h0M970.3 1024.9h0M1036.0 917.3h0M1051.4 877.0h0M976.2 1009.3h0M1044.9 818.0h0M1015.7 827.4h0M913.6 1053.2h0" stroke="#0007ff" stroke-width="4.00" stroke-linecap="square" fill="none"/>
<path d="M1047.3 818.4h0M831.2 967.9h0M987.8 839.2h0M797.6 907.5h0M1053.6 819.9h0M1001.6 832.0h0M1000.6 833.2h0M1064.2 848.5h0M799.4 927.9h0M1011.0 829.3h0M1028.3 822.8h0M1067.0 826.6h0M1044.9 887.3h0M1054.9 868.1h0M1022.3 825.0h0M1064.2 847.0h0M1062.3 852.2h0M912.9 857.5h0M934.0 1054.1h0M940.2 1053.5h0M1040.7 821.2h0M803.1 934.8h0M995.8 970.8h0M1056.8 820.0h0M928.9 1055.8h0M1062.3 850.0h0M985.3 985.1h0M909.0 1049.3h0M1054.7 821.0h0M796.4 914.7h0M1063.7 824.2h0M883.9 1002.3h0M798.3 903.6h0M1051.1 821.1h0M967.9 1028.5h0M913.9 1050.9h0M1040.3 894.3h0M834.6 969.4h0M895.6 1025.2h0M1034.2 822.3h0M1043.9 889.8h0M861.4 985.7h0M1060.6 825.1h0M813.4 949.0h0M944.5 853.6h0M1057.5 823.6h0" stroke="#0017ff" stroke-width="4.00" stroke-linecap="square" fill="none"/>
<path d="M947.6 1048.2h0M1060.7 853.1h0M1060.7 852.1h0M1060.5 852.6h0M1054.0 868.5h0M936.3 1052.3h0M1015.9 828.9h0M1015.1 829.9h0M956.8 1041.0h0M896.4 1029.5h0M1025.4 932.3h0M1045.4 883.2h0M983.2 987.2h0M915.4 1050.9h0M1029.8 824.3h0M1029.2 824.8h0M1029.7 825.4h0M1041.9 893.3h0M822.9 958.8h0M976.6 1000.5h0M1063.8 833.1h0M1043.4 886.9h0M908.4 1047.8h0M1052.0 871.8h0M969.1 1022.5h0M1062.3 834.5h0M932.1 1053.5h0M1046.2 822.6h0M1000.9 835.6h0M1063.4 836.9h0M973.1 1013.5h0M1059.8 854.6h0M1058.5 854.0h0M1059.6 854.4h0M1017.3 829.0h0M947.4 853.3h0M1054.4 863.7h0M1027.1 928.5h0M950.6 1044.5h0M914.0 1048.9h0M878.4 996.3h0M1047.8 876.8h0M956.3 850.9h0M977.3 845.0h0M1062.1 845.2h0M911.3 1047.5h0M1050.2 824.5h0M905.1 1041.1h0M1056.0 860.1h0M1060.7 836.3h0M1027.1 826.1h0M1005.4 957.8h0M1055.3 827.9h0" stroke="#0027ff" stroke-width="4.00" stroke-linecap="square" fill="none"/>
<path d="M898.3 1029.0h0M1040.6 825.1h0M1044.2 878.5h0M1046.0 824.5h0M1034.2 908.4h0M1009.7 833.7h0M803.8 930.4h0M1029.2 826.1h0M814.0 946.1h0M960.3 1033.2h0M923.3 1051.1h0M944.7 1047.0h0M951.0 1043.8h0M873.9 991.4h0M928.1 1050.8h0M1059.3 838.6h0M974.2 1001.1h0M953.8 1040.3h0M814.1 949.8h0M895.5 1016.7h0M1045.5 877.8h0M1047.6 872.8h0M1032.2 826.4h0M1011.5 833.5h0M900.9 1031.6h0M1057.2 832.2h0M902.9 1035.9h0M963.4 1028.4h0M1050.5 864.8h0M897.0 1021.1h0M947.0 1044.1h0M948.1 1044.3h0M1046.1 827.1h0M970.0 1016.8h0M1038.1 826.1h0M1041.8 827.8h0M1040.3 826.3h0M961.7 851.9h0M1052.0 828.0h0M820.0 953.6h0M974.3 846.1h0M974.8 846.6h0M904.6 1037.7h0M996.7 964.8h0M949.7 1043.0h0M1045.1 874.9h0M1056.2 839.1h0M1057.3 843.0h0M888.7 1004.7h0M912.8 1044.6h0M913.3 1045.5h0M958.2 1033.9h0M923.2 1049.1h0M1031.5 917.7h0M942.0 1046.3h0M906.9 1038.8h0M906.6 1038.6h0M1028.7 828.4h0" stroke="#0037ff" stroke-width="4.00" stroke-linecap="square" fill="none"/>
<path d="M978.0 992.6h0M962.8 1026.6h0M956.8 1035.4h0M898.6 1023.2h0M1046.2 829.6h0M953.6 1039.1h0M909.3 1041.3h0M955.6 1036.6h0M925.6 1049.1h0M1051.0 830.8h0M1008.5 834.2h0M804.0 901.3h0M965.0 1022.5h0M1051.3 860.4h0M1026.9 925.6h0M1042.2 876.4h0M1054.6 847.6h0M1035.9 829.8h0M868.9 987.9h0M1048.2 831.9h0M811.5 891.2h0M860.0 981.2h0M1051.8 832.5h0M1039.3 886.9h0M1005.2 836.9h0M907.2 1036.6h0M907.2 1037.6h0M956.1 853.0h0M1053.1 853.3h0M949.6 1040.2h0M848.4 974.3h0M1033.3 909.5h0M904.4 1032.3h0M1036.4 892.5h0M902.8 1029.2h0M862.8 982.1h0M965.8 1020.7h0M950.2 1038.1h0M1045.7 830.3h0M1045.0 829.9h0M1044.3 831.5h0M979.7 987.5h0M979.6 986.3h0M1051.7 835.0h0M843.0 873.9h0M923.9 1047.3h0M923.3 1047.7h0M968.5 1010.6h0M988.9 972.4h0M837.6 967.2h0M898.2 1018.1h0M932.7 1047.9h0M801.4 910.6h0M1040.8 830.2h0M1029.5 919.3h0M1047.4 833.2h0M973.6 848.7h0M866.6 984.2h0M878.1 993.5h0M1036.6 830.4h0" stroke="#0047ff" stroke-width="4.00" stroke-linecap="square" fill="none"/>
<path d="M962.7 1023.3h0M1025.5 927.6h0M986.8 974.5h0M908.2 1037.3h0M1048.5 858.3h0M968.6 1009.5h0M1015.6 835.4h0M949.2 1039.2h0M1022.8 833.2h0M936.6 1044.1h0M1046.0 867.4h0M1047.9 835.1h0M1048.9 857.0h0M916.4 1043.9h0M1052.0 843.7h0M822.7 883.0h0M902.9 1024.3h0M839.7 874.6h0M993.8 842.1h0M945.6 1040.3h0M924.1 1044.5h0M1050.0 855.4h0M804.0 923.7h0M1045.3 835.0h0M1005.4 839.5h0M915.3 1041.7h0M971.4 1000.3h0M925.2 1044.0h0M1029.9 832.9h0M1037.9 833.8h0M912.3 1039.3h0M1049.6 853.1h0M1018.3 835.7h0M927.7 1044.8h0M1035.5 833.4h0M928.7 1045.9h0M900.2 1018.9h0M907.3 1031.5h0M833.2 962.5h0M967.2 1011.4h0M1042.5 835.3h0M1043.7 835.9h0M939.0 1043.8h0M1049.5 850.4h0M972.5 994.8h0M972.5 995.7h0M1013.7 836.5h0M1049.1 845.2h0M968.2 1005.3h0M1026.5 921.3h0M1045.2 862.7h0M921.6 1042.0h0M955.5 1030.4h0M962.9 1019.3h0M1042.7 866.8h0M851.7 870.4h0M1046.1 854.9h0" stroke="#0057ff" stroke-width="4.00" stroke-linecap="square" fill="none"/>
<path d="M915.0 1039.0h0M1042.4 837.3h0M821.1 885.4h0M1045.7 838.1h0M817.3 946.0h0M899.7 1013.9h0M1037.2 834.0h0M1038.0 834.9h0M968.4 1003.9h0M1008.9 839.6h0M1027.7 835.2h0M918.8 1040.8h0M1043.3 864.5h0M1034.7 835.0h0M1030.1 835.2h0M957.2 1026.1h0M1031.7 834.4h0M1040.2 837.5h0M896.3 1008.9h0M929.0 1043.5h0M963.5 852.7h0M849.1 973.6h0M888.7 999.4h0M889.2 998.0h0M906.6 1027.4h0M1011.3 838.7h0M808.0 898.2h0M953.5 1031.2h0M911.3 1033.7h0M802.2 916.6h0M822.7 952.4h0M937.3 1041.0h0M993.6 845.0h0M1037.0 878.1h0M805.6 925.2h0M898.7 1011.0h0M1040.9 838.9h0M1042.2 860.1h0M1024.5 922.4h0M986.3 847.8h0M1013.5 838.2h0M960.1 1019.3h0M1022.5 837.8h0M919.2 1039.6h0M1025.0 837.9h0M970.6 994.1h0M1006.9 840.7h0M1042.2 859.1h0M1034.5 884.4h0M972.1 990.7h0M1016.0 839.2h0M1001.5 843.1h0M915.1 1034.6h0M914.9 1035.1h0M920.5 1039.8h0M950.9 1030.1h0M909.5 1026.0h0M1041.6 862.8h0" stroke="#0067ff" stroke-width="4.00" stroke-linecap="square" fill="none"/>
<path d="M1016.4 839.4h0M1004.2 950.9h0M809.7 933.1h0M966.9 1002.9h0M906.7 1023.1h0M899.4 1008.6h0M922.6 1039.9h0M910.6 1029.7h0M1037.2 873.6h0M925.4 1039.8h0M1040.2 858.2h0M1031.7 839.3h0M1037.1 841.3h0M895.3 1002.9h0M956.1 1025.4h0M909.0 1025.2h0M1030.0 839.8h0M1041.2 846.3h0M1004.6 842.5h0M1004.4 843.3h0M953.2 1026.7h0M948.2 1031.8h0M949.3 1030.5h0M920.5 1036.6h0M1040.9 855.1h0M804.5 907.3h0M999.9 844.0h0M1038.4 844.9h0M1038.8 863.1h0M1027.4 914.1h0M923.5 1036.6h0M983.1 975.3h0M811.0 934.5h0M944.1 1032.2h0M945.9 1033.0h0M1032.1 840.3h0M1030.5 841.4h0M954.3 1022.5h0M907.9 1018.2h0M827.9 954.4h0M1015.6 937.4h0M946.4 1030.7h0M911.4 1024.7h0M986.6 848.7h0M904.2 1015.4h0M926.6 1037.5h0" stroke="#0077ff" stroke-width="4.00" stroke-linecap="square" fill="none"/>
<path d="M931.3 1037.7h0M848.3 872.3h0M863.4 978.8h0M963.9 1007.5h0M876.3 987.7h0M820.4 887.7h0M912.5 1026.3h0M805.8 910.2h0M1002.4 845.8h0M837.8 963.5h0M902.5 1010.9h0M972.7 986.0h0M805.1 915.8h0M914.9 1029.3h0M915.5 1028.3h0M1030.8 892.1h0M1032.1 893.3h0M966.1 996.6h0M981.4 850.4h0M1037.6 861.4h0M937.1 1035.8h0M843.9 967.1h0M1032.9 845.8h0M1032.3 845.0h0M1032.7 844.6h0M1035.5 846.6h0M910.8 860.3h0M952.9 1022.9h0M1036.2 852.4h0M1026.2 842.4h0M853.0 973.1h0M902.0 1006.2h0M948.4 1027.6h0M909.0 1018.0h0M1020.0 843.3h0M809.3 928.3h0M929.7 1034.7h0M1030.7 844.7h0M931.1 1035.5h0M1024.9 917.1h0M922.7 1033.2h0M955.7 1018.0h0M954.7 1019.1h0M1008.7 845.7h0M1009.5 845.6h0M966.1 994.4h0M1032.9 873.8h0M925.5 1032.3h0M1000.7 846.7h0M1010.9 845.9h0M808.2 901.2h0M1023.5 921.0h0M983.4 973.7h0M951.3 1023.9h0M815.6 939.8h0M1028.0 909.4h0M935.3 1033.3h0M918.1 1028.2h0M919.3 1028.3h0M933.9 1033.2h0M1023.5 845.2h0M928.5 1032.3h0" stroke="#0087ff" stroke-width="4.00" stroke-linecap="square" fill="none"/>
<path d="M930.8 1032.6h0M910.4 1018.9h0M907.8 1013.9h0M954.2 1017.9h0M1018.4 844.2h0M851.6 872.1h0M823.5 949.3h0M897.7 862.9h0M1033.3 853.9h0M995.1 848.1h0M994.4 848.3h0M902.4 1006.4h0M997.8 956.0h0M913.8 1021.2h0M1032.9 865.5h0M953.8 1019.2h0M908.8 1015.4h0M924.4 1031.8h0M937.2 1030.7h0M936.2 1031.7h0M1032.4 859.3h0M1033.7 859.0h0M865.5 868.3h0M918.0 1024.4h0M816.8 941.4h0M888.6 992.2h0M969.0 855.9h0M1031.7 852.9h0M924.1 1028.5h0M1027.9 849.3h0M961.7 1002.6h0M958.2 1006.2h0M1029.5 850.9h0M999.8 848.5h0M1013.8 846.5h0M1020.1 846.0h0M952.7 1017.2h0M898.7 1001.1h0M899.6 1000.0h0M1014.9 847.3h0M1015.0 846.9h0M1016.2 846.5h0M920.6 1026.1h0M901.1 1002.4h0M1029.8 888.0h0M914.6 1021.7h0M915.9 1021.0h0M1031.4 856.4h0M1020.5 923.8h0M917.2 1023.8h0M1030.8 867.5h0M1032.0 859.0h0M1001.4 848.6h0M1001.5 848.6h0M894.2 996.8h0M972.9 982.3h0M1031.4 865.4h0M816.1 937.1h0M1003.2 848.3h0M958.2 1005.5h0M928.1 1028.2h0M866.6 979.7h0M932.7 1029.8h0M930.3 1028.2h0M962.8 997.8h0M992.3 850.8h0M1028.7 881.1h0M920.8 1025.7h0" stroke="#0097ff" stroke-width="4.00" stroke-linecap="square" fill="none"/>
<path d="M1026.9 852.7h0M871.9 981.8h0M821.9 944.8h0M813.4 933.2h0M924.8 1027.3h0M1006.7 849.6h0M852.2 873.6h0M947.3 1021.2h0M947.0 1021.8h0M1026.7 898.4h0M1010.2 849.9h0M834.1 956.9h0M817.7 893.0h0M1029.5 862.4h0M1029.9 868.6h0M935.5 1026.5h0M1025.6 852.5h0M1027.6 897.7h0M944.1 1023.4h0M906.5 1006.5h0M916.4 1018.7h0M947.8 859.5h0M1027.6 895.7h0M952.0 1014.2h0M999.7 851.4h0M1019.7 851.1h0M910.1 1009.0h0M925.9 861.4h0M956.6 1005.9h0M947.2 1019.6h0M911.8 1011.1h0M1002.1 850.5h0M1016.2 850.4h0M976.8 855.4h0M895.9 995.5h0M1028.0 861.5h0M949.4 858.9h0M905.2 863.8h0M918.2 1019.0h0M1024.0 854.6h0M955.5 1007.1h0M1027.6 865.5h0M943.4 1020.9h0M1010.4 851.8h0M950.2 1012.7h0M950.6 1012.4h0M951.7 1013.4h0M839.6 961.4h0M1005.8 945.6h0M945.2 1019.9h0M944.7 1018.8h0M1026.6 870.1h0M1010.9 937.2h0M1027.9 874.6h0M1027.6 874.4h0M905.7 1002.1h0M947.6 1017.7h0M947.1 1017.9h0M947.1 1016.0h0" stroke="#00a7ff" stroke-width="4.00" stroke-linecap="square" fill="none"/>
<path d="M1018.0 853.3h0M1025.6 860.3h0M913.2 1011.3h0M912.8 1011.0h0M920.5 1018.2h0M821.9 943.9h0M967.3 986.7h0M919.7 1016.0h0M985.7 966.9h0M1024.9 862.5h0M968.5 857.2h0M982.2 969.2h0M808.7 912.5h0M1014.1 853.8h0M1020.6 856.0h0M923.0 1018.8h0M979.9 972.1h0M1026.0 867.8h0M835.7 957.3h0M941.0 1018.9h0M940.5 1018.2h0M959.4 997.1h0M1004.5 852.8h0M1004.9 853.4h0M908.7 1004.1h0M950.5 1008.3h0M919.7 1015.0h0M985.1 855.3h0M915.2 1010.2h0M916.4 1012.2h0M867.0 976.6h0M943.1 1016.3h0M833.6 955.1h0M1018.3 856.8h0M811.3 905.2h0M947.1 1013.1h0M1025.7 894.6h0M953.9 1005.5h0M1025.5 890.8h0M1025.1 882.3h0M1026.0 889.6h0M1025.2 884.6h0M1025.3 886.7h0M1013.4 854.1h0M955.8 1001.4h0M918.6 1012.1h0M932.4 1018.2h0M1019.2 858.0h0M942.8 1014.9h0M943.9 1015.5h0M943.7 1015.4h0M959.7 995.5h0M974.7 857.3h0M915.4 1009.1h0" stroke="#00b7ff" stroke-width="4.00" stroke-linecap="square" fill="none"/>
<path d="M958.7 859.4h0M940.1 1016.1h0M910.1 1002.1h0M810.8 920.5h0M856.3 971.6h0M926.4 1016.8h0M906.3 1001.9h0M957.8 996.1h0M940.3 1015.8h0M929.0 1017.2h0M1005.4 854.9h0M951.2 1004.5h0M950.3 1004.5h0M934.8 1016.5h0M860.2 972.2h0M861.0 972.0h0M861.0 973.2h0M814.2 931.8h0M1003.3 855.7h0M999.4 854.8h0M931.6 1016.4h0M932.8 1016.7h0M1021.6 865.2h0M918.5 1010.3h0M950.1 1006.0h0M945.8 1010.3h0M987.6 962.0h0M946.4 1009.8h0M891.5 988.2h0M962.3 858.3h0M1021.8 912.8h0M1020.6 913.0h0M922.9 1013.6h0M952.9 1000.5h0M984.1 966.1h0M913.1 1004.1h0M1018.8 862.0h0M1014.9 859.1h0M981.6 857.6h0M980.5 857.2h0M813.8 903.8h0M813.6 902.3h0M940.9 1012.7h0M978.4 971.8h0M929.6 1014.8h0M1000.4 946.0h0M844.2 963.8h0M921.6 1010.1h0M934.4 1015.4h0M935.6 1015.0h0M1020.8 868.4h0M965.1 859.2h0M1018.1 922.7h0M810.6 910.2h0M908.3 1000.9h0M950.0 1005.2h0M824.6 945.0h0M968.1 981.8h0M831.5 885.1h0M1019.6 865.1h0M1013.2 858.3h0M854.3 968.1h0M1022.7 892.2h0M815.8 929.8h0M929.1 1012.7h0M899.8 993.3h0" stroke="#00c7ff" stroke-width="4.00" stroke-linecap="square" fill="none"/>
<path d="M828.9 949.2h0M819.4 894.5h0M1002.7 857.7h0M1011.1 859.6h0M943.7 1008.2h0M912.2 1003.7h0M949.5 1002.2h0M924.8 1011.5h0M991.6 857.1h0M944.1 1007.1h0M945.5 1006.4h0M999.0 856.1h0M998.0 856.8h0M995.6 856.6h0M812.8 923.4h0M1021.8 909.7h0M1016.1 865.9h0M926.6 1010.8h0M866.5 974.6h0M866.2 975.7h0M815.7 901.5h0M814.9 901.1h0M955.1 995.6h0M1013.8 929.3h0M909.8 998.9h0M952.6 997.6h0M1006.7 858.0h0M1020.6 907.8h0M1008.2 934.8h0M945.2 1004.2h0M1018.3 915.0h0M852.5 966.1h0M1017.0 867.5h0M975.5 859.6h0M900.2 992.4h0M927.0 1008.1h0M918.7 1005.9h0M918.9 1004.4h0M919.7 1005.8h0M936.2 1008.7h0M937.0 1008.2h0M941.4 1007.3h0M922.7 1007.6h0M977.7 858.5h0M925.6 863.7h0M849.2 877.4h0M838.2 956.0h0M976.7 970.1h0M977.6 971.5h0M1009.8 861.0h0M825.7 942.7h0M894.7 988.8h0M895.0 989.6h0M1000.8 945.3h0M816.6 899.4h0M817.0 899.5h0M954.5 860.7h0M979.4 859.5h0M955.2 993.2h0M954.4 993.9h0M938.3 1007.7h0M860.5 873.6h0M812.8 918.8h0M926.0 1006.3h0M953.8 994.3h0M952.4 995.7h0M1019.8 912.2h0M947.4 1001.2h0M921.5 1005.9h0M950.7 997.4h0M948.6 999.3h0M1021.8 889.2h0" stroke="#00d7ff" stroke-width="4.00" stroke-linecap="square" fill="none"/>
<path d="M998.5 858.4h0M854.8 875.9h0M937.3 1007.3h0M821.0 937.8h0M1013.1 865.1h0M997.8 859.2h0M1019.2 876.7h0M1020.8 892.3h0M936.0 1007.9h0M870.0 871.5h0M930.0 863.3h0M991.2 858.3h0M991.1 859.3h0M933.9 1007.5h0M931.9 1007.4h0M943.3 1003.1h0M943.5 1003.5h0M943.2 1002.4h0M818.9 896.7h0M913.2 998.1h0M1004.7 860.8h0M1006.0 861.7h0M1019.6 910.7h0M998.0 949.8h0M946.1 1001.3h0M818.2 933.7h0M948.5 996.4h0M936.4 1004.8h0M1019.7 881.4h0M961.5 984.4h0M842.1 959.9h0M915.3 999.8h0M915.6 998.5h0M849.5 962.4h0M944.7 998.7h0M967.4 860.0h0M852.0 876.9h0M999.1 860.5h0M1018.4 906.4h0M946.6 997.5h0M946.5 997.5h0M968.1 860.3h0M1005.5 863.0h0M884.0 981.6h0M840.5 956.1h0M1019.2 887.7h0M1016.6 915.3h0M914.0 997.3h0M912.2 997.5h0M1006.7 934.8h0M1007.2 934.0h0M921.1 1001.1h0M987.1 958.7h0M997.4 860.9h0M997.4 860.6h0M948.6 994.1h0" stroke="#00e7ff" stroke-width="4.00" stroke-linecap="square" fill="none"/>
<path d="M917.3 999.0h0M985.1 961.0h0M928.9 1003.9h0M980.6 965.6h0M931.2 1002.3h0M972.5 861.9h0M826.4 942.2h0M820.0 931.1h0M881.0 869.7h0M975.1 861.9h0M1008.0 864.6h0M941.7 863.7h0M829.3 889.6h0M918.5 998.0h0M918.5 998.5h0M978.2 860.1h0M828.2 945.4h0M925.5 1000.9h0M1010.0 867.1h0M983.2 861.9h0M940.6 998.0h0M947.9 994.9h0M961.0 982.5h0M926.8 1000.6h0M817.3 903.7h0M1014.7 877.5h0M817.1 925.0h0M892.6 984.0h0M889.9 982.1h0M827.5 891.6h0M998.5 863.3h0M999.6 863.4h0M916.7 997.9h0M964.8 979.5h0M844.9 959.1h0M873.0 871.0h0M880.5 978.5h0M904.5 991.3h0M851.6 962.4h0M864.1 970.7h0M815.3 912.6h0M967.9 976.4h0M948.4 862.8h0M1002.7 939.8h0M825.7 892.0h0M936.8 998.6h0M945.1 995.3h0M953.8 989.3h0M824.6 939.7h0M997.7 863.4h0M925.8 999.3h0M940.5 997.3h0M951.1 862.7h0M1006.3 932.0h0M954.8 986.7h0" stroke="#00f7ff" stroke-width="4.00" stroke-linecap="square" fill="none"/>
<path d="M972.0 972.1h0M946.6 992.8h0M842.5 956.3h0M995.6 863.0h0M932.9 999.4h0M928.8 998.4h0M973.6 970.0h0M910.3 993.3h0M912.0 993.7h0M954.7 862.9h0M988.5 954.6h0M974.8 968.2h0M992.9 863.3h0M956.8 862.7h0M957.2 863.6h0M979.6 964.7h0M823.6 935.3h0M1013.0 876.5h0M887.3 980.2h0M961.9 862.3h0M961.9 863.1h0M1016.1 903.3h0M879.4 977.4h0M878.7 976.0h0M925.8 997.5h0M962.8 978.5h0M1016.4 899.9h0M871.1 973.0h0M908.4 990.4h0M930.4 996.9h0M845.5 880.5h0M947.7 991.4h0M832.6 946.8h0M1015.4 885.1h0M996.2 945.9h0M968.9 863.6h0M905.1 988.1h0M853.0 963.9h0M981.8 862.9h0M973.3 862.5h0M977.2 863.7h0M1009.8 872.8h0M1006.9 931.3h0M925.6 864.2h0M901.8 866.4h0M995.9 946.1h0M937.3 994.8h0" stroke="#07fff7" stroke-width="4.00" stroke-linecap="square" fill="none"/>
<path d="M957.7 982.5h0M922.5 995.0h0M856.2 965.5h0M817.2 916.3h0M928.1 864.8h0M941.1 993.6h0M885.1 978.2h0M1015.8 888.5h0M816.9 913.2h0M933.6 995.4h0M821.8 928.4h0M1009.9 875.4h0M903.1 986.2h0M1015.8 908.6h0M939.2 993.5h0M990.2 864.6h0M873.7 973.9h0M913.8 990.6h0M843.2 954.2h0M1007.9 872.1h0M954.0 984.0h0M899.6 984.5h0M818.9 905.1h0M933.4 865.6h0M937.5 993.0h0M904.5 866.4h0M855.1 962.7h0M890.6 980.3h0M1007.5 929.7h0M848.2 958.3h0M856.1 877.9h0M838.2 951.6h0M832.1 945.8h0M984.4 864.4h0M924.8 992.0h0M819.1 920.5h0M818.8 920.5h0M957.9 981.6h0M858.3 964.4h0" stroke="#17ffe7" stroke-width="4.00" stroke-linecap="square" fill="none"/>
<path d="M819.2 906.1h0M901.8 984.5h0M916.7 991.3h0M982.2 864.4h0M938.6 990.3h0M981.8 865.6h0M863.1 967.2h0M896.3 982.3h0M993.0 866.5h0M1012.3 913.6h0M968.7 970.0h0M947.6 987.1h0M871.6 971.6h0M978.2 865.1h0M907.5 986.3h0M909.7 866.6h0M820.7 902.4h0M818.5 908.1h0M1000.8 871.2h0M1013.7 890.6h0M828.4 892.6h0M1006.5 877.7h0M836.5 887.3h0M970.2 865.7h0M902.3 984.0h0M961.1 864.0h0M973.6 966.9h0M965.8 864.3h0M1002.8 873.5h0M1011.9 885.8h0M922.4 990.7h0M819.2 915.3h0M857.8 962.3h0M909.3 986.2h0M1008.7 880.5h0M899.4 982.6h0M930.2 990.4h0M831.8 941.9h0M926.4 991.4h0M995.7 869.5h0M984.9 955.5h0M840.5 884.7h0M938.9 987.9h0M939.6 989.8h0M821.9 904.4h0M821.5 905.9h0M987.8 866.5h0M1012.2 907.7h0M821.5 922.0h0M840.6 951.0h0M951.7 982.7h0" stroke="#27ffd7" stroke-width="4.00" stroke-linecap="square" fill="none"/>
<path d="M964.6 972.1h0M1008.0 878.2h0M865.8 967.7h0M872.5 970.5h0M870.0 968.8h0M839.0 948.2h0M1001.6 872.0h0M1008.1 921.0h0M1006.0 929.7h0M1003.0 874.7h0M967.8 970.8h0M995.7 943.5h0M996.7 870.9h0M1008.0 925.2h0M1000.4 934.5h0M953.6 981.9h0M920.7 988.1h0M921.5 989.5h0M821.0 906.6h0M828.4 936.9h0M940.5 986.8h0M854.9 879.1h0M923.2 989.5h0M1007.0 880.6h0M833.8 890.5h0M833.3 891.2h0M980.9 867.4h0M930.8 989.4h0M885.9 871.0h0M971.6 966.5h0M978.7 867.3h0M979.0 867.5h0M827.5 897.4h0M831.0 939.1h0M902.5 982.2h0M1005.9 878.0h0M1004.9 879.7h0M973.0 965.0h0M909.1 984.0h0M989.9 868.8h0M828.0 932.9h0M976.6 867.1h0M871.2 968.4h0M989.7 948.6h0M975.1 962.4h0M917.7 987.9h0M833.1 940.2h0" stroke="#37ffc7" stroke-width="4.00" stroke-linecap="square" fill="none"/>
<path d="M975.2 867.7h0M1011.2 894.9h0M820.6 914.8h0M996.5 939.2h0M956.2 976.0h0M979.3 958.5h0M973.0 865.9h0M983.3 955.8h0M993.2 870.7h0M835.7 943.9h0M919.0 987.3h0M919.6 986.5h0M856.3 960.6h0M935.8 986.3h0M905.3 982.3h0M841.2 948.3h0M851.0 957.6h0M1008.5 917.3h0M838.2 947.8h0M941.2 984.3h0M1010.4 901.1h0M1011.2 900.2h0M958.1 974.7h0M1001.9 876.9h0M925.5 987.7h0M991.9 871.1h0M900.2 980.4h0M1007.5 921.9h0M1003.2 929.5h0M848.2 955.7h0M890.9 977.0h0M994.4 873.6h0M983.4 868.2h0M889.0 871.8h0M956.1 867.4h0M827.5 899.3h0M914.4 984.1h0M835.7 891.7h0M823.3 906.9h0M822.4 906.7h0M996.8 874.4h0M997.2 874.8h0" stroke="#47ffb7" stroke-width="4.00" stroke-linecap="square" fill="none"/>
<path d="M916.2 984.8h0M950.2 979.7h0M990.0 946.5h0M824.3 902.1h0M1002.2 881.4h0M1002.1 880.2h0M993.7 872.7h0M997.4 936.1h0M997.2 936.6h0M962.3 970.5h0M830.5 894.3h0M830.3 895.7h0M831.2 895.9h0M999.8 877.2h0M1000.0 877.7h0M844.1 884.7h0M1010.0 894.1h0M849.0 882.0h0M848.6 883.8h0M906.9 868.9h0M907.0 869.6h0M987.5 948.6h0M824.0 916.4h0M941.7 982.6h0M921.2 985.2h0M921.4 985.1h0M964.4 969.8h0M931.4 985.6h0M995.6 939.4h0M871.4 966.7h0M840.0 888.4h0M926.9 984.3h0M927.4 984.7h0M1008.7 898.9h0M944.6 980.1h0M831.2 935.8h0M850.3 954.0h0M1010.0 907.2h0M985.6 871.7h0M938.3 982.9h0M912.9 983.3h0M1008.1 901.1h0M999.2 933.1h0M1006.1 890.0h0M1007.5 890.1h0M824.8 905.9h0M996.1 876.7h0M1005.9 887.6h0M1000.2 880.8h0M900.9 979.8h0M855.4 881.7h0M954.3 974.3h0M860.4 960.0h0M881.4 971.3h0" stroke="#57ffa7" stroke-width="4.00" stroke-linecap="square" fill="none"/>
<path d="M1004.7 920.0h0M989.0 872.5h0M997.6 935.0h0M997.3 935.0h0M891.3 974.7h0M1002.5 924.8h0M876.9 968.8h0M877.4 968.0h0M935.4 983.0h0M865.3 962.5h0M909.9 980.1h0M835.2 893.0h0M1004.5 889.9h0M830.9 896.5h0M994.7 876.7h0M832.1 894.9h0M833.5 895.9h0M917.5 869.1h0M957.0 972.6h0M957.9 973.9h0M987.9 872.3h0M920.9 983.2h0M931.6 982.8h0M1000.4 883.9h0M1000.0 930.6h0M841.4 945.9h0M859.7 959.4h0M982.1 950.2h0M910.6 981.4h0M991.8 875.7h0M919.7 869.2h0M920.0 869.9h0M996.8 878.4h0M1007.9 910.2h0M884.0 971.9h0M1005.3 890.7h0M921.7 869.4h0M992.2 938.5h0M992.4 939.5h0M984.1 873.2h0M985.3 873.9h0M984.4 872.8h0M923.1 869.2h0M1007.6 901.7h0M937.9 981.8h0M938.0 981.6h0M1006.1 905.3h0" stroke="#67ff97" stroke-width="4.00" stroke-linecap="square" fill="none"/>
<path d="M991.3 940.3h0M951.8 868.7h0M950.3 868.9h0M915.3 981.6h0M1001.7 884.3h0M830.8 931.7h0M961.8 969.3h0M936.0 981.9h0M934.8 980.7h0M984.0 873.4h0M848.9 951.8h0M895.8 975.6h0M829.5 926.8h0M917.1 980.1h0M916.6 980.7h0M831.3 899.9h0M972.4 871.7h0M972.4 870.9h0M1002.8 920.8h0M1005.1 914.1h0M932.3 980.6h0M1004.9 894.9h0M1005.5 894.6h0M1004.2 894.1h0M860.6 958.0h0M828.1 920.1h0M940.4 979.4h0M942.1 979.7h0M994.7 935.6h0M827.3 907.6h0M931.6 981.4h0M972.8 959.2h0M844.4 946.8h0M971.9 870.0h0M842.6 945.6h0M832.1 933.2h0M864.4 961.6h0M1000.2 886.4h0M926.4 981.2h0M983.1 948.3h0M944.6 976.4h0M827.2 918.7h0M872.2 964.7h0M980.3 950.1h0M993.7 937.1h0M830.0 924.8h0M910.9 979.4h0M1003.4 919.6h0M1003.5 918.3h0M1005.5 899.0h0M1005.5 910.8h0M998.8 885.5h0" stroke="#77ff87" stroke-width="4.00" stroke-linecap="square" fill="none"/>
<path d="M986.0 875.4h0M835.1 935.8h0M959.2 968.6h0M826.4 911.2h0M968.0 871.2h0M994.8 881.8h0M936.5 978.3h0M827.5 915.7h0M828.1 913.8h0M905.9 976.2h0M968.1 963.4h0M899.5 974.7h0M830.5 900.4h0M862.9 959.0h0M978.0 873.9h0M837.9 936.1h0M935.5 979.1h0M947.1 975.3h0M960.5 966.7h0M961.5 967.1h0M982.8 875.9h0M873.8 877.5h0M846.9 946.2h0M918.4 978.8h0M930.2 979.8h0M997.8 928.2h0M1003.4 914.9h0M928.7 978.2h0M929.2 978.0h0M835.0 896.2h0M908.2 976.6h0M995.3 883.2h0M834.7 932.9h0M926.4 979.4h0M926.1 978.3h0M983.7 947.2h0M944.4 974.4h0M845.5 888.5h0M845.3 889.3h0M974.0 873.0h0M980.6 948.5h0" stroke="#87ff77" stroke-width="4.00" stroke-linecap="square" fill="none"/>
<path d="M1003.1 912.1h0M953.1 970.8h0M948.5 973.8h0M828.2 918.0h0M1003.8 898.2h0M864.8 959.7h0M988.3 878.7h0M965.3 962.2h0M911.5 977.8h0M1000.0 889.7h0M853.4 951.9h0M1000.5 918.6h0M936.6 976.0h0M937.5 977.2h0M868.3 960.7h0M869.1 960.6h0M869.4 961.3h0M868.4 960.3h0M1002.4 901.5h0M829.6 917.2h0M872.2 963.0h0M978.9 875.0h0M942.5 975.7h0M951.7 871.0h0M913.1 977.1h0M967.3 961.8h0M828.5 915.2h0M992.1 881.0h0M990.8 880.2h0M842.6 890.8h0M935.3 977.9h0M934.2 977.3h0M832.8 901.3h0M955.3 969.8h0M849.7 946.0h0M962.0 964.7h0M983.5 876.7h0M862.5 957.1h0M933.0 976.4h0M883.9 966.5h0M998.9 890.4h0M857.6 953.4h0M832.7 927.4h0M930.5 976.0h0M926.7 870.6h0M926.8 871.5h0M878.7 965.9h0M918.3 976.7h0M1001.5 896.1h0" stroke="#97ff67" stroke-width="4.00" stroke-linecap="square" fill="none"/>
<path d="M972.4 954.8h0M973.8 955.5h0M982.4 944.9h0M929.4 977.0h0M838.9 894.7h0M837.7 896.3h0M870.7 960.0h0M1001.9 914.0h0M920.3 977.7h0M846.4 888.4h0M847.7 888.4h0M963.1 963.3h0M922.3 976.0h0M924.9 977.0h0M988.8 880.3h0M978.0 951.1h0M981.2 876.3h0M998.8 892.5h0M952.6 968.5h0M984.7 878.1h0M1000.4 913.1h0M872.1 879.5h0M995.5 886.5h0M992.1 883.3h0M834.4 928.1h0M833.0 925.7h0M830.9 908.4h0M993.8 884.3h0M1000.5 901.5h0M959.2 965.6h0M865.6 957.2h0M831.4 911.9h0M850.9 947.4h0M966.2 958.0h0M1000.9 909.8h0M858.3 952.1h0M986.3 939.7h0M987.0 881.6h0M987.2 880.5h0M872.2 961.4h0M848.7 945.0h0M848.5 944.3h0M848.1 943.4h0M984.0 878.6h0M932.3 975.5h0M905.9 872.7h0" stroke="#a7ff57" stroke-width="4.00" stroke-linecap="square" fill="none"/>
<path d="M887.7 967.6h0M991.2 933.0h0M941.6 973.8h0M860.4 883.0h0M956.8 873.8h0M971.6 954.9h0M989.6 882.1h0M930.8 975.5h0M917.2 975.6h0M899.5 971.8h0M898.6 971.5h0M841.8 894.5h0M907.8 873.8h0M906.9 872.1h0M884.1 965.4h0M929.1 975.4h0M929.7 974.0h0M833.6 920.8h0M977.1 948.0h0M857.0 885.0h0M853.8 887.5h0M945.8 970.2h0M944.6 970.1h0M925.3 975.3h0M925.9 974.8h0M854.7 948.0h0M854.2 948.6h0M998.5 898.0h0M878.7 963.0h0M985.4 880.9h0M981.8 878.4h0M835.5 902.7h0M874.4 960.1h0M949.3 969.7h0M949.2 968.3h0M861.4 952.4h0M900.5 971.4h0M951.4 873.9h0M986.1 936.9h0M911.0 873.1h0M996.9 894.2h0M843.1 937.2h0M882.9 877.1h0M986.1 883.0h0M833.8 917.5h0M996.8 919.3h0M965.2 875.1h0M964.5 874.2h0M964.8 875.0h0M965.3 875.8h0M833.1 910.4h0M866.0 955.4h0M864.9 955.7h0" stroke="#b7ff47" stroke-width="4.00" stroke-linecap="square" fill="none"/>
<path d="M904.1 971.6h0M902.6 970.6h0M838.0 900.5h0M833.1 915.3h0M998.3 907.4h0M989.8 884.2h0M989.6 884.0h0M895.8 875.4h0M973.7 877.2h0M946.3 968.2h0M968.9 954.4h0M944.3 873.7h0M891.0 967.9h0M983.1 940.4h0M897.3 969.4h0M998.1 897.0h0M877.8 961.7h0M942.9 873.6h0M943.4 873.0h0M971.4 952.8h0M989.6 932.3h0M996.3 916.7h0M858.1 949.2h0M940.1 873.4h0M977.0 946.0h0M896.3 874.8h0M917.4 972.2h0M917.5 972.4h0M971.2 877.1h0M971.8 876.7h0M972.0 877.4h0M877.4 878.5h0M984.3 883.4h0M961.7 875.8h0M978.0 879.8h0M977.5 878.9h0M976.9 879.8h0M929.2 972.7h0M928.6 972.4h0M928.4 973.1h0M834.4 906.3h0M927.2 973.9h0M938.3 970.1h0M893.9 967.2h0M842.1 934.0h0M981.8 881.9h0M981.9 881.2h0M922.6 973.0h0M906.3 970.0h0M907.5 971.2h0M865.5 882.8h0M853.7 944.2h0M959.2 874.3h0M998.1 900.3h0M834.4 919.4h0M887.9 876.1h0M990.0 887.7h0M880.1 960.7h0M996.4 912.9h0M996.6 913.5h0M937.2 971.6h0" stroke="#c7ff37" stroke-width="4.00" stroke-linecap="square" fill="none"/>
<path d="M958.8 961.5h0M997.2 902.0h0M901.6 969.5h0M901.0 969.3h0M900.4 969.0h0M996.9 910.2h0M989.7 931.6h0M860.4 884.5h0M834.9 910.0h0M840.6 931.2h0M841.0 930.7h0M841.4 931.4h0M839.2 901.9h0M838.7 901.8h0M839.1 901.0h0M838.2 900.8h0M859.9 948.5h0M834.7 915.6h0M936.0 971.5h0M995.8 896.5h0M992.8 893.3h0M864.4 953.1h0M865.9 953.2h0M834.3 912.9h0M835.5 912.9h0M837.9 923.9h0M981.3 940.5h0M886.1 962.6h0M886.1 962.2h0M837.4 905.1h0M889.8 877.7h0M840.1 927.7h0M839.3 926.7h0M993.7 923.2h0M902.6 969.1h0M904.0 968.2h0M971.3 950.4h0M840.5 898.4h0M913.4 971.1h0M913.7 970.1h0M913.9 971.5h0M844.7 895.8h0M976.0 947.6h0M872.5 881.1h0M867.3 883.5h0M866.9 882.1h0M842.9 896.3h0M952.5 875.4h0M897.9 966.4h0M915.6 971.9h0M930.7 970.6h0M986.2 886.3h0M987.7 887.5h0M862.6 949.9h0M989.5 888.7h0M962.2 956.4h0M929.6 970.1h0M981.3 883.2h0M976.6 881.1h0M846.3 936.3h0M887.0 962.4h0" stroke="#d7ff27" stroke-width="4.00" stroke-linecap="square" fill="none"/>
<path d="M850.7 941.5h0M848.3 938.3h0M921.0 970.4h0M922.4 971.6h0M972.0 878.5h0M970.2 879.2h0M964.2 954.1h0M867.5 953.1h0M866.7 952.1h0M867.0 953.5h0M991.2 924.5h0M860.7 948.1h0M906.4 968.3h0M983.4 936.4h0M996.1 913.7h0M838.0 908.8h0M991.0 893.0h0M859.7 887.4h0M858.9 887.5h0M936.8 969.4h0M936.6 968.9h0M871.9 954.1h0M910.1 875.9h0M993.2 896.7h0M837.3 916.0h0M893.8 876.7h0M878.8 959.6h0M868.9 882.1h0M987.0 930.0h0M986.6 930.2h0M943.8 966.0h0M942.2 967.4h0M841.4 901.0h0M859.9 947.9h0M994.4 906.6h0M968.4 951.1h0M836.2 914.9h0M837.1 915.2h0M836.3 912.9h0M978.2 941.6h0M979.2 883.0h0M980.0 882.4h0M839.1 922.4h0M955.9 961.7h0M847.1 894.5h0M989.5 926.9h0M856.9 944.1h0M990.9 922.1h0M844.2 897.4h0M933.5 969.6h0M940.8 966.8h0M990.5 894.3h0M915.4 874.2h0M854.5 943.3h0M939.7 874.3h0M967.6 879.5h0M884.9 878.5h0M839.2 920.5h0M849.1 937.2h0M850.0 937.7h0M849.7 936.1h0M876.2 881.7h0M877.6 880.4h0M962.1 955.1h0M862.7 949.5h0M930.3 969.5h0" stroke="#e7ff17" stroke-width="4.00" stroke-linecap="square" fill="none"/>
<path d="M917.4 875.0h0M850.9 939.0h0M936.1 874.2h0M872.3 955.3h0M877.2 956.5h0M918.6 875.2h0M935.5 874.5h0M936.1 875.8h0M840.6 902.0h0M871.9 883.9h0M928.2 967.9h0M930.1 968.1h0M944.2 964.9h0M896.4 876.5h0M993.6 914.1h0M841.5 925.9h0M917.5 968.4h0M922.6 874.4h0M929.9 875.0h0M983.8 887.6h0M838.4 918.2h0M839.4 918.3h0M861.8 946.5h0M948.3 962.2h0M949.1 962.2h0M989.3 925.3h0M990.1 924.7h0M992.7 903.6h0M923.8 968.4h0M867.2 951.9h0M964.8 878.6h0M886.2 961.3h0M886.5 960.0h0M845.2 930.8h0M886.7 879.6h0M978.2 938.7h0M971.7 880.8h0M970.7 881.6h0M838.9 916.3h0M899.2 877.1h0M992.6 911.5h0M859.4 945.1h0M969.6 949.7h0M878.8 881.1h0M993.2 907.9h0M976.2 941.4h0M979.0 885.9h0M847.5 933.5h0M971.0 946.2h0M839.1 912.3h0M974.2 943.6h0M843.2 927.9h0M868.1 884.3h0M875.5 954.1h0M879.0 956.2h0M844.9 898.9h0M865.7 949.0h0M866.1 949.3h0M908.3 966.8h0M989.6 895.0h0M935.3 967.7h0M872.3 883.6h0M947.8 963.6h0M946.5 963.2h0M983.3 933.7h0M950.8 960.1h0M888.2 960.7h0M888.3 960.3h0M853.3 938.5h0" stroke="#f7ff07" stroke-width="4.00" stroke-linecap="square" fill="none"/>
<path d="M889.7 878.3h0M894.2 962.7h0M840.2 921.7h0M987.3 893.3h0M987.9 893.5h0M962.3 952.7h0M963.1 952.3h0M844.6 929.9h0M844.4 928.7h0M961.1 879.2h0M961.5 878.2h0M949.2 877.5h0M840.2 906.0h0M881.0 881.9h0M983.6 888.1h0M982.6 889.2h0M958.0 956.3h0M873.7 952.0h0M991.8 915.8h0M990.8 915.4h0M990.2 914.1h0M945.1 962.6h0M929.0 966.7h0M861.4 944.9h0M991.5 902.0h0M939.2 964.0h0M897.8 962.1h0M868.9 885.8h0M966.4 880.4h0M986.4 924.9h0M966.3 949.0h0M926.9 966.4h0M926.2 966.0h0M958.9 878.6h0M867.9 949.0h0M866.2 949.7h0M904.9 964.4h0M991.2 912.3h0M990.9 912.3h0M958.5 955.2h0M921.5 967.0h0M921.9 967.4h0M922.8 966.6h0M969.6 946.9h0M840.4 917.5h0M851.2 894.9h0M851.2 895.1h0M850.0 933.8h0M970.8 944.3h0M990.6 911.4h0M979.6 886.4h0M986.8 895.4h0M888.0 959.6h0M887.5 959.2h0M887.7 958.2h0M856.8 891.5h0M990.4 909.8h0M847.5 898.3h0M858.1 941.8h0M850.1 897.8h0M848.9 897.1h0M843.6 904.5h0M942.5 963.2h0M907.2 965.5h0M894.0 879.2h0M854.4 938.1h0M862.0 888.1h0M861.5 889.2h0" stroke="#fff700" stroke-width="4.00" stroke-linecap="square" fill="none"/>
<path d="M975.3 885.0h0M874.2 953.3h0M940.7 877.3h0M986.0 927.1h0M935.9 965.5h0M983.1 891.1h0M951.7 959.6h0M910.3 876.9h0M909.8 964.2h0M843.3 921.1h0M876.9 883.6h0M954.9 879.3h0M900.4 963.9h0M888.1 959.9h0M889.1 959.2h0M941.8 963.6h0M942.0 963.9h0M941.9 963.2h0M895.4 879.0h0M854.3 893.6h0M854.3 893.6h0M856.0 893.9h0M854.2 892.9h0M978.4 934.0h0M933.6 965.3h0M933.5 964.5h0M987.2 897.3h0M885.8 880.4h0M845.2 924.9h0M957.7 954.1h0M914.3 877.4h0M977.8 887.1h0M850.0 930.0h0M977.7 936.1h0M931.3 965.2h0M988.9 914.2h0M873.1 950.3h0M967.2 946.3h0M842.5 909.6h0M843.8 909.4h0M867.7 886.0h0M866.4 887.1h0M952.2 956.6h0M952.1 957.8h0M953.7 957.5h0M853.9 895.3h0M851.9 932.2h0M984.9 894.9h0M896.4 879.9h0M969.9 944.2h0M929.3 965.7h0M928.5 964.4h0M929.1 877.8h0M973.3 940.2h0M866.6 946.3h0M972.1 942.3h0M970.8 943.2h0M972.1 943.6h0M923.5 876.0h0M989.8 913.8h0M989.8 913.9h0M979.9 888.7h0M978.2 888.7h0M852.4 934.4h0M857.1 939.7h0M927.7 964.1h0M986.4 899.4h0M846.6 927.2h0M850.2 896.4h0M878.4 882.1h0M854.7 936.7h0M855.8 937.4h0M843.8 910.6h0M843.9 911.2h0M843.0 911.9h0M887.5 881.3h0M886.9 881.7h0M988.8 906.1h0M990.0 910.5h0M983.9 893.7h0M981.3 891.7h0M925.4 965.6h0" stroke="#ffe700" stroke-width="4.00" stroke-linecap="square" fill="none"/>
<path d="M905.7 963.7h0M905.8 963.1h0M936.7 963.7h0M871.7 949.5h0M866.1 945.4h0M864.2 944.2h0M865.5 944.5h0M943.0 959.9h0M886.4 957.6h0M887.8 956.6h0M954.3 954.7h0M976.0 887.3h0M979.6 933.8h0M848.2 928.7h0M971.8 884.3h0M857.7 892.1h0M875.8 950.0h0M946.2 959.5h0M985.1 896.4h0M985.6 896.5h0M984.2 896.0h0M880.1 953.0h0M879.7 952.0h0M901.5 879.1h0M977.6 934.3h0M986.6 917.9h0M846.7 903.2h0M868.3 887.7h0M869.6 887.6h0M880.5 882.0h0M870.0 946.3h0M868.1 947.5h0M977.1 889.8h0M976.6 888.9h0M940.7 960.3h0M932.1 962.4h0M980.8 929.1h0M855.5 894.2h0M966.2 945.9h0M966.1 945.8h0M853.1 932.8h0M974.1 939.8h0M987.1 914.8h0M859.2 938.5h0M910.9 963.1h0M968.8 942.6h0M848.8 901.2h0M895.0 958.3h0M895.5 958.8h0M854.9 934.5h0M854.8 934.3h0M984.8 921.3h0M988.0 905.5h0M945.4 959.6h0M970.1 884.0h0M968.9 884.4h0M953.9 955.4h0M984.5 899.4h0M985.8 899.0h0M972.3 887.8h0M853.4 897.0h0M885.9 955.9h0M866.2 944.9h0M868.1 944.7h0M849.0 926.5h0M849.2 927.9h0M844.4 916.2h0M850.8 899.4h0M959.4 951.3h0M913.7 963.5h0M939.2 961.9h0M950.1 956.7h0" stroke="#ffd700" stroke-width="4.00" stroke-linecap="square" fill="none"/>
<path d="M881.2 952.5h0M881.1 952.5h0M844.2 910.6h0M929.8 962.5h0M929.0 963.3h0M962.6 883.3h0M962.7 883.2h0M844.9 914.9h0M986.6 911.6h0M847.4 905.5h0M847.4 904.6h0M987.9 908.1h0M914.7 962.7h0M915.7 962.6h0M883.9 883.0h0M927.4 962.6h0M917.9 962.3h0M865.7 942.5h0M941.3 879.1h0M985.8 919.2h0M851.9 928.3h0M851.5 928.2h0M920.0 963.1h0M918.7 962.2h0M921.2 963.5h0M937.3 960.9h0M984.2 901.2h0M956.1 953.7h0M877.8 884.8h0M982.0 926.8h0M963.1 947.5h0M982.7 923.6h0M887.7 955.4h0M909.3 878.1h0M863.4 891.9h0M866.7 889.0h0M867.7 889.2h0M848.3 925.3h0M954.1 880.0h0M971.4 887.6h0M972.0 886.9h0M946.8 956.1h0M883.8 952.8h0M985.6 916.9h0M964.2 944.1h0M964.7 945.7h0M965.8 945.7h0M965.2 944.0h0M965.3 944.9h0M936.8 878.4h0M978.3 892.4h0M978.5 893.5h0M910.6 878.8h0M911.9 879.2h0M910.7 878.5h0M910.8 879.8h0M868.2 944.4h0M957.3 950.0h0M966.8 942.7h0M970.6 938.1h0M934.5 878.5h0M940.7 959.7h0M982.6 898.4h0M982.7 898.3h0M982.1 898.8h0M908.6 960.7h0M985.8 914.4h0M933.2 960.6h0M932.4 960.2h0M850.5 927.3h0M850.7 926.8h0" stroke="#ffc700" stroke-width="4.00" stroke-linecap="square" fill="none"/>
<path d="M980.7 924.3h0M981.9 924.8h0M879.2 885.3h0M879.1 884.3h0M972.7 888.5h0M972.9 889.5h0M972.4 888.3h0M974.1 889.0h0M945.4 957.5h0M929.6 878.4h0M861.7 892.8h0M861.1 892.2h0M895.8 956.1h0M895.6 956.0h0M919.2 879.9h0M850.0 904.6h0M847.1 914.4h0M846.3 913.8h0M922.0 878.1h0M887.8 882.1h0M925.0 879.3h0M925.8 879.9h0M939.5 958.4h0M984.7 908.5h0M980.4 897.5h0M980.9 896.0h0M981.5 896.9h0M852.6 929.8h0M865.3 941.1h0M869.6 889.1h0M928.8 961.5h0M961.2 947.8h0M984.0 901.0h0M864.3 891.9h0M975.7 890.8h0M983.1 919.2h0M914.7 961.2h0M870.7 945.3h0M870.3 944.6h0M926.8 960.3h0M855.5 931.4h0M957.1 882.1h0M848.8 921.2h0M862.7 939.5h0M978.7 927.3h0M891.8 955.6h0M899.1 880.3h0M898.1 880.0h0M962.9 945.4h0M947.9 880.1h0M925.9 960.6h0M851.9 925.8h0M898.1 956.9h0M963.3 884.1h0M919.2 961.9h0M923.1 960.9h0M924.0 960.0h0M923.6 961.5h0M922.9 961.5h0M860.2 936.1h0M861.7 937.3h0M921.4 960.3h0M921.8 961.2h0M880.2 885.4h0M859.1 934.4h0M965.1 943.1h0M965.2 942.1h0M950.2 952.1h0M950.4 952.0h0M874.7 947.8h0M946.8 954.7h0M947.6 955.9h0M946.8 954.2h0M946.3 954.6h0M969.2 938.9h0M970.3 889.7h0M887.2 952.9h0M983.1 917.0h0M980.5 899.1h0M981.1 899.2h0M981.7 899.0h0M856.1 896.3h0M883.1 951.4h0M935.0 958.9h0M954.3 882.9h0M848.3 909.3h0M849.4 908.1h0M899.6 957.8h0" stroke="#ffb700" stroke-width="4.00" stroke-linecap="square" fill="none"/>
<path d="M893.9 954.9h0M983.0 905.1h0M940.2 957.6h0M982.8 914.0h0M984.0 915.2h0M870.5 888.1h0M850.4 923.5h0M848.5 916.3h0M943.1 881.4h0M973.5 891.1h0M973.6 891.1h0M962.0 884.1h0M978.7 925.5h0M959.3 946.0h0M903.2 881.3h0M902.2 881.3h0M903.1 880.1h0M872.4 945.7h0M872.3 945.7h0M891.5 882.9h0M975.6 930.6h0M849.4 915.2h0M854.9 929.6h0M882.3 885.6h0M849.2 912.8h0M848.8 913.3h0M983.9 909.5h0M982.6 908.7h0M974.7 892.8h0M865.4 938.7h0M981.6 901.1h0M981.4 900.9h0M962.0 945.4h0M932.1 959.7h0M930.4 958.0h0M911.9 959.5h0M910.6 959.3h0M904.6 880.1h0M938.7 956.3h0M964.5 886.4h0M860.8 895.6h0M860.6 895.3h0M860.5 894.0h0M963.0 942.8h0M964.0 942.8h0M871.1 943.5h0M971.2 935.2h0M913.1 958.0h0M906.3 881.6h0M851.0 907.7h0M968.9 937.8h0M904.0 956.2h0M926.8 959.2h0M914.8 958.9h0M914.7 959.7h0M915.7 958.0h0M914.5 959.3h0M942.9 954.7h0M942.8 954.3h0M937.3 956.5h0M873.5 888.2h0M885.7 884.9h0M924.9 959.1h0M917.3 958.1h0M917.4 958.6h0M951.8 950.4h0M852.0 919.3h0M875.8 944.8h0M868.8 941.5h0M946.7 952.2h0M920.9 958.4h0M921.6 958.2h0M857.0 898.7h0M856.9 898.7h0M869.1 891.9h0M869.2 890.6h0M905.2 956.6h0M904.8 956.4h0M935.0 880.0h0M934.6 880.2h0" stroke="#ffa700" stroke-width="4.00" stroke-linecap="square" fill="none"/>
<path d="M850.9 909.4h0M887.8 950.2h0M878.5 886.1h0M879.5 887.0h0M895.9 882.3h0M894.3 882.1h0M910.8 881.5h0M976.8 896.4h0M977.8 896.2h0M935.6 956.9h0M851.6 917.7h0M981.2 915.3h0M976.0 894.6h0M959.1 944.2h0M913.4 880.3h0M913.0 880.0h0M942.1 955.2h0M851.6 911.4h0M972.4 931.8h0M973.4 931.4h0M899.8 954.5h0M899.0 955.0h0M850.6 914.1h0M894.0 952.6h0M981.1 913.1h0M981.3 913.2h0M887.1 884.5h0M862.5 895.7h0M862.5 894.6h0M864.0 894.4h0M981.9 908.9h0M916.8 881.6h0M916.9 881.9h0M970.4 933.6h0M945.2 953.3h0M949.7 951.0h0M949.6 950.0h0M949.8 951.3h0M927.2 880.6h0M919.9 880.5h0M909.5 957.6h0M908.7 957.5h0M909.8 957.5h0M875.7 888.3h0M852.9 921.2h0M852.4 921.9h0M963.3 940.8h0M963.7 940.8h0M878.0 944.6h0M877.3 945.8h0M970.0 934.4h0M854.3 903.1h0M955.0 884.3h0M961.9 886.5h0M960.9 886.6h0M939.2 955.8h0M870.2 941.3h0M967.5 936.0h0M967.6 937.9h0M979.0 919.4h0M885.1 948.7h0M852.5 907.6h0M867.3 892.7h0M910.8 957.7h0M910.4 956.4h0M871.3 890.3h0M870.9 891.8h0M857.0 900.6h0M859.1 898.9h0M856.2 927.2h0M950.2 949.2h0M952.1 949.2h0M975.3 897.0h0M927.8 957.0h0M926.6 957.9h0M926.2 956.9h0M903.2 954.1h0M902.5 953.9h0M956.9 945.2h0M978.5 916.5h0M875.4 942.3h0M875.2 942.5h0M937.0 954.8h0M937.1 955.7h0M936.7 955.0h0M914.9 956.0h0" stroke="#ff9700" stroke-width="4.00" stroke-linecap="square" fill="none"/>
<path d="M852.5 909.6h0M946.6 950.5h0M890.9 951.6h0M925.3 957.3h0M978.4 905.2h0M980.0 904.5h0M860.0 929.5h0M901.4 882.8h0M922.3 957.9h0M853.8 916.3h0M919.9 957.2h0M918.2 956.5h0M921.6 957.6h0M921.9 956.5h0M920.7 956.5h0M879.8 945.2h0M958.4 942.8h0M855.3 905.4h0M866.1 934.2h0M864.2 895.1h0M971.7 930.6h0M852.8 911.8h0M852.4 911.9h0M976.8 900.3h0M978.1 901.4h0M862.4 932.7h0M974.8 925.4h0M974.3 925.6h0M977.9 920.4h0M853.2 915.9h0M978.6 907.5h0M935.1 954.8h0M852.5 913.5h0M890.3 885.4h0M941.9 883.9h0M940.8 953.5h0M978.3 913.2h0M979.5 912.1h0M979.0 913.3h0M979.6 912.0h0M979.0 911.4h0M951.7 885.3h0M951.1 884.4h0M856.2 925.2h0M868.6 893.7h0M868.6 893.4h0M869.8 892.0h0M893.4 951.9h0M856.1 920.2h0M898.5 953.0h0M906.3 954.1h0M907.8 954.9h0M949.7 949.6h0M857.4 902.5h0M944.1 951.6h0M946.1 950.5h0M862.8 897.4h0M932.6 955.3h0M975.9 899.7h0M974.9 898.6h0M938.6 882.8h0M973.9 926.6h0M973.2 927.2h0M956.9 886.9h0M904.4 883.5h0M977.1 918.1h0M976.5 919.4h0M908.8 955.3h0M884.3 886.4h0M878.9 889.6h0M884.4 946.6h0M937.7 883.6h0M868.9 937.1h0M870.0 937.5h0M906.4 883.3h0M966.1 891.7h0M970.9 929.4h0M960.6 888.8h0M857.2 922.8h0M928.4 955.9h0" stroke="#ff8700" stroke-width="4.00" stroke-linecap="square" fill="none"/>
<path d="M977.7 917.2h0M978.0 916.0h0M977.4 915.9h0M976.2 917.1h0M874.3 941.0h0M867.4 895.5h0M942.1 951.2h0M978.0 905.2h0M935.6 883.5h0M862.2 930.1h0M865.2 932.1h0M854.4 916.0h0M909.3 883.2h0M946.5 948.9h0M947.6 949.2h0M937.8 952.2h0M927.6 954.5h0M926.3 954.7h0M927.8 954.9h0M856.4 905.8h0M856.5 904.0h0M894.5 884.7h0M875.3 891.3h0M959.8 941.7h0M958.2 940.6h0M958.8 941.4h0M969.4 931.5h0M914.5 955.8h0M916.1 954.5h0M915.3 954.4h0M914.3 955.1h0M891.8 948.5h0M933.0 883.9h0M977.7 915.5h0M978.0 915.2h0M924.5 955.5h0M878.6 943.1h0M879.0 942.7h0M976.7 906.6h0M854.8 912.2h0M854.8 912.9h0M917.1 955.7h0M975.3 920.1h0M923.0 954.8h0M897.7 950.9h0M919.3 954.2h0M918.2 954.5h0M931.1 883.2h0M887.3 946.9h0M859.5 924.7h0M858.8 925.7h0M964.0 937.8h0M962.5 937.7h0M965.7 935.0h0M865.9 897.2h0M934.6 952.8h0M976.9 910.5h0M905.5 952.1h0M905.9 953.0h0M858.9 903.3h0M859.6 902.9h0M973.4 899.9h0M915.9 882.2h0M896.7 884.4h0M968.9 895.3h0M926.2 883.7h0M948.4 946.5h0M949.9 947.4h0M948.9 947.1h0M856.9 907.4h0M860.2 900.3h0M860.2 900.0h0M971.0 927.7h0M944.7 948.0h0M945.5 948.6h0M945.3 948.3h0M924.9 882.9h0M860.7 925.9h0M923.9 883.7h0M921.5 882.9h0M877.6 941.9h0M898.8 950.5h0M933.5 952.3h0M857.4 919.7h0M858.1 918.9h0M862.9 928.2h0M862.3 928.8h0M863.4 929.7h0M868.7 895.6h0M973.2 923.2h0M867.1 933.1h0M899.4 884.8h0M880.6 942.7h0M880.4 942.2h0M969.2 928.1h0M942.4 885.1h0M908.6 952.2h0M884.9 944.9h0M884.8 944.8h0M874.1 893.1h0M873.1 893.8h0M975.9 904.8h0" stroke="#ff7700" stroke-width="4.00" stroke-linecap="square" fill="none"/>
<path d="M951.1 945.6h0M883.6 888.6h0M858.0 917.6h0M965.7 893.8h0M964.5 892.4h0M859.2 905.3h0M858.4 905.9h0M966.9 931.8h0M894.7 948.0h0M943.2 949.9h0M929.9 952.0h0M929.4 952.7h0M857.2 914.7h0M856.8 914.1h0M901.8 885.0h0M965.9 932.6h0M940.2 884.6h0M867.4 896.9h0M857.2 912.1h0M936.5 950.4h0M936.5 951.1h0M936.9 951.8h0M962.2 935.2h0M860.2 924.4h0M860.4 925.9h0M891.3 887.4h0M912.5 953.5h0M926.5 953.9h0M927.7 953.9h0M872.8 936.1h0M966.8 895.1h0M970.3 898.5h0M970.8 899.0h0M859.7 921.8h0M890.9 946.6h0M953.4 942.0h0M861.9 902.2h0M860.5 902.6h0M903.6 951.1h0M975.7 909.4h0M974.9 909.0h0M914.4 953.7h0M914.6 953.7h0M925.5 952.4h0M924.9 953.4h0M924.7 952.0h0M865.3 899.0h0M883.8 942.2h0M879.6 891.5h0M887.2 945.0h0M903.9 884.9h0M924.1 952.6h0M922.6 953.0h0M863.9 900.9h0M863.0 927.0h0M863.0 926.7h0M896.6 949.7h0M919.3 953.0h0M858.9 906.2h0M974.0 902.8h0M935.2 950.0h0M941.7 949.3h0M884.7 889.0h0M885.8 888.9h0M885.1 888.4h0M970.0 925.9h0M968.8 926.9h0M954.2 888.9h0M955.1 888.4h0M955.5 888.4h0M949.6 944.6h0M949.2 945.3h0M868.4 932.5h0M954.5 941.8h0M955.6 940.4h0M904.1 950.0h0M875.1 893.7h0M867.8 931.5h0M867.0 930.0h0M946.0 946.5h0M876.3 938.3h0M877.4 938.9h0M877.6 938.2h0M892.3 887.0h0M858.3 918.8h0M937.8 885.3h0M905.3 884.6h0M906.0 884.7h0M906.1 885.8h0M893.1 946.8h0M894.1 947.1h0M958.3 891.7h0M933.3 950.6h0M859.7 909.0h0M858.7 908.5h0M898.6 949.7h0M906.5 951.8h0M947.0 887.7h0M973.7 904.4h0M972.3 905.5h0M973.6 905.8h0M971.8 900.0h0M971.6 901.5h0M881.8 941.8h0M938.7 949.8h0M938.5 949.9h0M860.3 904.3h0M907.7 885.8h0M888.6 945.1h0M889.7 945.9h0M965.4 931.6h0" stroke="#ff6700" stroke-width="4.00" stroke-linecap="square" fill="none"/>
<path d="M959.2 936.4h0M958.9 937.8h0M960.0 937.0h0M868.8 897.6h0M951.4 943.1h0M972.8 917.6h0M884.2 942.9h0M964.4 894.0h0M859.0 911.2h0M860.1 910.8h0M962.3 932.8h0M881.6 890.2h0M953.2 888.5h0M952.6 889.2h0M858.1 914.5h0M909.5 950.0h0M968.2 898.3h0M968.2 899.6h0M970.0 899.2h0M859.3 913.6h0M859.6 912.2h0M933.3 884.3h0M910.0 884.4h0M908.2 885.4h0M908.5 884.1h0M908.3 884.4h0M944.1 946.0h0M947.6 944.4h0M901.1 949.9h0M972.6 915.6h0M863.8 903.8h0M863.1 902.3h0M895.7 947.1h0M895.4 946.4h0M972.0 921.3h0M929.4 951.3h0M944.2 886.0h0M953.1 940.1h0M937.8 949.5h0M937.5 948.3h0M936.7 948.5h0M865.9 901.5h0M865.6 900.2h0M911.6 885.8h0M972.1 908.6h0M973.6 912.7h0M871.0 933.5h0M956.5 891.6h0M973.6 910.4h0M973.4 911.7h0M860.5 906.1h0M868.1 928.5h0M913.1 951.9h0M929.0 884.7h0M868.4 931.2h0M869.6 931.9h0M912.9 885.2h0M896.5 887.8h0M967.8 926.1h0M966.4 926.8h0M883.5 940.4h0M904.0 949.2h0M903.5 948.5h0M903.9 949.4h0M902.9 949.8h0M915.0 950.4h0M914.8 951.9h0M915.1 885.8h0M915.4 884.1h0M954.7 938.4h0M950.4 888.6h0M861.5 918.0h0M888.7 889.5h0M943.8 887.3h0M862.8 922.4h0M936.0 949.9h0M934.6 949.3h0M876.2 936.5h0M878.0 937.5h0M970.8 919.6h0M918.6 950.3h0M919.9 950.6h0M919.7 950.9h0M919.6 950.5h0M883.8 891.3h0M883.1 891.4h0M923.3 884.3h0M922.7 885.8h0M918.4 885.9h0M919.7 884.1h0M918.4 884.2h0M920.1 884.8h0M918.6 884.4h0M945.5 944.7h0M862.0 908.8h0M861.9 908.2h0M860.3 908.6h0M870.7 897.4h0M872.1 897.3h0M871.9 896.8h0M870.1 897.2h0M970.4 904.4h0M970.9 905.3h0M860.9 916.0h0M959.5 934.4h0M960.3 933.4h0M961.4 932.7h0M875.6 934.0h0M874.2 935.3h0M966.2 899.4h0M967.4 899.1h0M933.6 949.2h0M933.0 949.4h0M933.8 949.0h0M955.3 890.7h0M940.5 886.3h0M941.8 887.7h0M942.1 886.5h0M860.4 911.1h0M970.7 917.4h0M971.2 916.0h0M880.0 892.8h0" stroke="#ff5700" stroke-width="4.00" stroke-linecap="square" fill="none"/>
<path d="M958.9 892.8h0M898.1 947.8h0M875.4 895.7h0M874.2 894.7h0M948.4 888.6h0M861.0 912.1h0M907.8 949.2h0M868.8 899.1h0M884.1 941.8h0M885.6 940.7h0M884.4 940.5h0M865.3 902.1h0M864.5 903.6h0M971.7 907.6h0M873.6 933.6h0M873.6 933.3h0M873.3 933.5h0M866.8 926.9h0M867.3 901.9h0M947.2 943.0h0M970.4 915.4h0M870.6 930.4h0M885.2 890.9h0M939.2 887.0h0M908.4 949.3h0M953.4 939.5h0M879.6 936.4h0M863.2 906.1h0M863.1 907.4h0M863.4 907.2h0M971.2 913.2h0M971.5 912.4h0M894.4 944.1h0M895.0 945.4h0M970.7 910.0h0M970.1 910.8h0M971.8 911.4h0M971.8 910.5h0M971.4 911.4h0M929.5 948.1h0M928.9 949.0h0M964.2 926.4h0M936.9 947.7h0M961.1 895.1h0M961.4 894.4h0M903.5 887.1h0M863.5 918.9h0M862.9 919.3h0M955.7 936.7h0M864.4 922.1h0M874.1 896.8h0M893.4 889.6h0M936.2 887.0h0M883.2 939.8h0M928.0 949.1h0M926.5 948.8h0M927.6 948.1h0M926.4 949.9h0M891.5 943.9h0M891.9 943.5h0M963.9 929.2h0M914.0 949.9h0M912.8 949.2h0M949.8 941.2h0M968.1 901.6h0M881.9 892.7h0M881.9 893.0h0M881.6 893.1h0M969.7 919.1h0M957.6 935.9h0M863.8 908.4h0M862.9 909.3h0M902.6 947.0h0M903.2 946.5h0M967.2 923.3h0M940.9 945.6h0M924.3 949.0h0M925.8 949.7h0M926.0 948.9h0M925.6 949.8h0M876.8 895.0h0M915.0 948.0h0M914.2 949.2h0M944.7 943.6h0M934.4 947.1h0M934.3 947.0h0M863.7 916.3h0M896.5 944.5h0M897.7 944.9h0M896.8 945.4h0M923.1 948.5h0M922.3 949.7h0M922.3 948.2h0M866.2 925.5h0M867.7 925.9h0M935.7 887.3h0M934.5 887.6h0M887.9 891.6h0M920.1 949.1h0M875.8 933.0h0M871.1 898.1h0M870.5 898.3h0M863.1 914.0h0M867.4 903.3h0M968.9 916.7h0M969.2 916.2h0M868.2 926.8h0M951.9 938.9h0M863.7 913.0h0M862.5 913.8h0M873.2 930.6h0M865.5 920.7h0M869.4 900.3h0M868.9 901.2h0M871.5 928.4h0M870.1 929.9h0M951.3 891.0h0M965.7 925.3h0" stroke="#ff4700" stroke-width="4.00" stroke-linecap="square" fill="none"/>
<path d="M940.1 944.6h0M939.5 945.3h0M884.2 938.7h0M899.8 944.2h0M899.8 944.7h0M900.0 945.2h0M898.6 945.6h0M889.8 941.8h0M967.7 902.8h0M967.2 902.3h0M968.4 915.0h0M931.7 887.7h0M931.7 887.0h0M864.3 907.8h0M865.3 907.5h0M864.3 906.2h0M969.0 909.8h0M954.3 893.8h0M956.1 893.8h0M882.4 893.6h0M943.2 943.6h0M942.4 942.3h0M875.9 897.9h0M878.3 934.8h0M968.4 912.2h0M969.0 912.7h0M932.1 946.1h0M930.7 946.5h0M930.6 947.6h0M890.1 891.8h0M912.1 886.6h0M911.2 887.9h0M910.9 886.9h0M867.8 922.0h0M897.9 888.9h0M865.4 919.0h0M865.9 918.3h0M866.0 918.1h0M878.8 894.3h0M961.1 897.8h0M909.0 946.1h0M909.6 947.1h0M909.0 947.3h0M965.7 901.6h0M895.8 942.9h0M895.2 942.0h0M926.9 886.9h0M926.7 886.4h0M957.3 932.3h0M956.7 932.5h0M956.2 933.3h0M958.0 932.8h0M928.8 947.7h0M963.9 899.6h0M950.0 890.9h0M949.3 891.5h0M948.4 891.7h0M949.5 890.4h0M877.6 932.4h0M865.9 908.9h0M882.8 936.9h0M882.2 937.6h0M883.8 936.5h0M967.7 918.3h0M948.4 939.0h0M924.7 887.1h0M868.8 924.6h0M868.6 924.4h0M869.8 924.6h0M964.9 922.0h0M964.6 922.9h0M965.9 923.0h0M964.5 922.4h0M910.6 946.7h0M910.4 947.9h0M865.3 917.4h0M916.7 886.1h0M916.7 887.4h0M918.0 886.0h0M941.5 888.9h0M887.4 939.9h0M886.9 939.4h0M874.3 931.8h0M875.4 931.8h0M898.3 888.9h0M898.8 889.9h0M940.9 943.3h0M870.9 926.7h0M944.6 940.6h0M944.4 940.3h0M865.9 910.5h0M868.3 903.1h0M870.0 903.1h0M957.9 895.0h0M871.9 901.6h0M892.0 890.8h0M902.4 944.2h0M903.3 945.9h0M902.2 944.6h0M926.1 947.5h0M926.1 947.5h0M884.1 893.9h0M867.1 920.2h0M915.7 946.0h0M897.6 943.0h0M897.9 942.7h0M950.6 936.4h0M950.8 937.9h0M967.3 916.2h0M966.1 916.4h0M966.8 917.2h0M922.7 946.5h0M881.5 935.5h0M917.7 947.5h0M967.5 907.0h0M922.0 946.9h0M920.3 946.6h0M939.6 888.8h0M881.6 895.9h0M867.4 907.4h0M904.8 944.4h0M904.8 945.5h0M905.3 944.0h0" stroke="#ff3700" stroke-width="4.00" stroke-linecap="square" fill="none"/>
<path d="M967.3 913.9h0M953.1 934.3h0M893.5 941.9h0M892.2 940.2h0M933.3 945.0h0M885.0 937.4h0M966.3 908.4h0M967.6 908.8h0M869.4 922.2h0M946.9 939.0h0M879.4 932.1h0M867.6 919.7h0M963.8 901.0h0M967.0 911.0h0M954.7 932.7h0M942.8 940.1h0M961.1 898.7h0M959.8 928.8h0M903.3 888.2h0M907.4 944.1h0M908.1 944.9h0M875.7 898.3h0M951.4 893.7h0M950.7 892.0h0M950.3 893.0h0M871.6 924.0h0M870.6 925.1h0M931.7 944.2h0M955.4 895.6h0M869.5 904.3h0M869.4 905.1h0M868.6 904.4h0M869.3 905.5h0M866.2 909.4h0M945.8 891.9h0M874.1 929.6h0M876.1 929.4h0M867.9 916.2h0M867.3 916.1h0M873.5 927.9h0M964.4 918.4h0M964.7 919.5h0M962.8 923.0h0M948.4 937.8h0M883.4 935.4h0M883.8 935.7h0M936.7 943.7h0M935.8 888.2h0M873.3 901.7h0M872.8 901.6h0M873.9 901.2h0M873.2 901.6h0M872.3 900.1h0M872.8 900.6h0M908.8 944.7h0M929.1 945.9h0M904.7 888.8h0M866.7 911.0h0M866.7 910.9h0M866.5 910.3h0M867.0 911.6h0M880.1 896.1h0M878.8 896.2h0M879.7 896.5h0M878.2 897.7h0M870.0 921.4h0M868.4 921.0h0M869.4 921.4h0M867.4 915.1h0M867.7 912.2h0M866.5 912.4h0M867.7 913.6h0M892.0 939.8h0M945.3 938.2h0M945.6 938.3h0M945.4 938.0h0M940.6 940.1h0M926.5 945.4h0M926.2 945.0h0M933.7 889.5h0M951.8 934.1h0M951.7 935.4h0M960.8 924.4h0M964.1 906.0h0M881.0 932.1h0M944.0 891.2h0M942.4 891.6h0M906.6 889.5h0M913.6 944.4h0M950.1 893.8h0M935.8 942.7h0M869.5 906.8h0M869.0 907.2h0M869.0 907.0h0M925.6 945.7h0M926.1 944.7h0M925.6 944.6h0M902.3 943.3h0M904.0 943.4h0M896.2 941.7h0M915.0 944.2h0M914.5 945.3h0M958.6 927.6h0M931.7 888.8h0M930.2 889.1h0M931.3 889.8h0M959.5 898.4h0M958.4 898.2h0M960.1 899.2h0M952.2 895.3h0M954.0 894.3h0M922.3 945.6h0M923.5 945.8h0M964.4 909.7h0M965.1 909.8h0M870.0 918.7h0M909.2 889.8h0M916.2 945.5h0M878.3 931.4h0M921.7 944.3h0M921.8 944.3h0M920.8 945.6h0M877.0 898.6h0M877.8 898.7h0M918.4 944.3h0M918.6 945.8h0M956.9 928.7h0M956.8 928.4h0M896.2 890.8h0M885.0 935.8h0M965.3 913.7h0M964.7 911.2h0" stroke="#ff2700" stroke-width="4.00" stroke-linecap="square" fill="none"/>
<path d="M929.3 888.4h0M938.3 940.2h0M893.1 939.8h0M932.8 943.5h0M933.4 943.3h0M877.9 928.9h0M905.6 943.1h0M870.4 905.7h0M889.5 936.7h0M940.8 890.7h0M875.3 926.7h0M885.8 894.1h0M885.9 895.5h0M884.1 895.4h0M885.2 895.2h0M885.6 895.1h0M885.3 895.0h0M880.4 896.1h0M880.3 896.7h0M881.5 897.5h0M874.9 901.1h0M875.5 901.6h0M874.8 901.5h0M962.3 905.2h0M913.0 888.0h0M900.0 941.7h0M961.2 922.6h0M963.5 919.5h0M962.4 919.5h0M963.4 919.9h0M924.4 889.8h0M948.3 934.3h0M870.7 921.9h0M882.6 933.0h0M907.7 942.6h0M930.5 942.8h0M954.4 896.5h0M898.6 890.8h0M898.4 891.4h0M922.4 888.0h0M924.0 889.6h0M918.1 888.4h0M920.1 889.4h0M921.4 889.8h0M920.1 889.3h0M918.8 889.3h0M919.5 889.3h0M869.7 913.4h0M868.1 912.7h0M868.7 912.1h0M869.2 913.1h0M937.8 940.9h0M936.2 940.7h0M936.3 941.4h0M895.2 939.6h0M958.2 925.0h0M960.9 903.2h0M951.4 933.2h0M952.0 932.1h0M950.9 932.8h0M962.8 906.0h0M929.5 942.2h0M902.0 940.6h0M880.9 930.1h0M870.1 906.7h0M870.6 907.9h0M871.0 907.3h0M870.1 907.5h0M892.0 937.0h0M941.4 938.7h0M940.2 939.9h0M940.9 939.1h0M874.1 922.8h0M873.4 923.4h0M879.6 899.0h0M959.1 901.5h0M956.7 926.2h0M957.9 926.0h0M957.7 927.3h0M900.9 891.4h0M954.9 928.5h0M955.2 929.4h0M870.2 918.9h0M945.0 893.8h0M945.1 892.6h0M945.8 892.7h0M944.7 892.4h0M893.2 892.4h0M879.8 928.0h0M875.5 924.2h0M938.0 891.7h0M962.3 908.1h0M962.8 909.5h0M963.1 909.2h0M963.3 908.5h0M962.1 914.7h0M882.6 897.5h0M912.4 943.5h0M912.4 942.4h0M924.2 942.5h0M872.8 905.6h0M873.9 905.5h0M903.3 941.3h0M878.0 901.8h0M946.3 934.6h0M886.0 933.3h0M871.2 908.5h0M916.0 942.9h0M952.5 897.8h0M923.2 943.0h0M922.5 943.9h0M922.4 943.2h0M961.6 904.2h0M961.5 905.6h0M949.5 894.2h0M949.8 894.0h0M950.0 894.1h0M870.9 917.8h0M918.0 943.2h0M921.5 943.0h0M934.6 890.5h0M934.2 890.3h0M934.8 890.2h0M959.3 922.2h0M893.4 936.6h0M873.5 921.4h0M873.8 921.0h0" stroke="#ff1700" stroke-width="4.00" stroke-linecap="square" fill="none"/>
<path d="M870.8 911.8h0M944.1 892.4h0M942.4 892.6h0M905.7 940.5h0M904.4 940.4h0M904.2 941.1h0M894.9 892.4h0M871.7 914.2h0M948.5 933.8h0M948.8 933.8h0M883.4 931.2h0M883.4 930.1h0M904.2 891.4h0M905.8 891.6h0M954.5 898.4h0M959.5 902.3h0M959.8 902.2h0M958.7 903.7h0M900.1 938.7h0M899.8 939.4h0M881.0 898.7h0M957.4 925.6h0M957.7 925.0h0M875.3 923.1h0M875.5 923.5h0M956.4 901.3h0M956.6 900.8h0M957.0 901.2h0M873.5 907.5h0M873.9 907.4h0M907.9 940.7h0M906.2 940.5h0M955.9 927.1h0M937.2 938.0h0M936.9 939.6h0M936.2 939.1h0M952.8 928.9h0M887.8 933.2h0M877.0 924.3h0M877.1 925.1h0M876.7 925.2h0M876.1 924.0h0M878.5 927.1h0M872.3 918.7h0M872.8 918.5h0M894.3 936.2h0M894.2 936.9h0M895.6 937.8h0M895.5 937.1h0M932.1 890.7h0M951.0 896.8h0M950.9 896.6h0M950.3 897.0h0M896.1 893.7h0M891.4 934.0h0M880.0 900.6h0M962.0 908.4h0M901.2 938.5h0M875.5 904.3h0M874.4 904.9h0M960.4 914.5h0M961.3 914.7h0M909.2 890.2h0M908.4 891.7h0M876.3 902.3h0M876.4 902.1h0M890.9 895.1h0M872.5 908.5h0M872.7 908.8h0M872.9 909.6h0M873.4 909.3h0M928.2 890.3h0M929.1 890.0h0M962.0 911.4h0M961.6 911.1h0M960.2 912.0h0M926.4 941.5h0M873.7 916.5h0M947.3 933.5h0M911.8 941.3h0M911.4 941.9h0M910.2 940.2h0M911.2 940.6h0M910.6 941.6h0M934.1 938.5h0M884.8 930.8h0M874.2 921.5h0M875.1 920.7h0M957.6 923.6h0M957.2 923.4h0M926.8 891.2h0M952.4 899.1h0M954.0 899.5h0M898.0 936.9h0M912.8 940.2h0M913.4 940.1h0M940.0 892.1h0M939.5 893.7h0M883.2 899.5h0M883.7 899.0h0M873.5 911.4h0M898.7 892.9h0M899.7 892.0h0M872.7 915.3h0M959.9 919.4h0M912.2 891.5h0M912.7 891.6h0M926.0 891.1h0M942.9 934.9h0M943.3 935.2h0M943.6 934.0h0M940.1 936.9h0M938.3 936.4h0M938.2 936.5h0M949.7 930.9h0M945.8 894.8h0M946.1 895.4h0M889.5 933.7h0M874.0 912.7h0M922.6 941.7h0M915.9 940.4h0M883.9 929.8h0M883.7 928.7h0M893.5 934.3h0M955.8 900.2h0M954.6 925.9h0M955.7 924.4h0M877.6 922.6h0M877.8 923.3h0M920.8 941.6h0M921.4 940.1h0M916.8 940.1h0M919.8 941.8h0M933.8 939.3h0M917.7 891.6h0M917.2 890.7h0M917.8 890.9h0M917.4 891.1h0M950.0 897.7h0M949.0 897.1h0M921.6 890.8h0M921.1 891.7h0M874.8 907.9h0M875.0 906.8h0M875.7 907.7h0M920.1 891.8h0M919.4 890.8h0M918.9 890.5h0M952.7 927.2h0M952.6 927.9h0M953.6 927.1h0M958.7 906.5h0M879.1 924.7h0M879.1 924.3h0M893.1 895.6h0" stroke="#ff0700" stroke-width="4.00" stroke-linecap="square" fill="none"/>
<path d="M904.2 939.1h0M936.2 893.8h0M959.3 916.0h0M959.3 916.5h0M898.4 937.5h0M899.8 936.1h0M899.9 936.6h0M944.2 933.6h0M956.7 920.1h0M930.3 939.8h0M931.0 938.1h0M937.0 936.2h0M937.4 937.5h0M937.9 937.5h0M878.4 902.7h0M959.6 909.3h0M958.5 908.8h0M959.9 908.1h0M942.0 934.6h0M941.6 934.6h0M889.4 897.1h0M890.6 932.8h0M891.6 932.9h0M951.3 898.4h0M951.9 898.4h0M951.2 899.0h0M885.4 899.3h0M957.7 905.0h0M875.5 917.0h0M875.7 916.9h0M959.3 911.7h0M876.2 920.7h0M877.6 920.7h0M958.8 912.8h0M903.4 893.4h0M903.9 893.8h0M902.3 893.0h0M929.0 939.5h0M929.0 939.4h0M929.7 939.8h0M930.0 938.5h0M947.1 931.1h0M946.3 930.3h0M947.8 930.2h0M946.6 930.2h0M954.6 923.6h0M954.6 922.3h0M901.4 936.3h0M900.6 937.8h0M948.0 896.2h0M946.1 897.7h0M947.0 896.0h0M946.2 897.6h0M875.7 911.1h0M874.3 915.3h0M952.9 901.5h0M953.0 900.8h0M954.7 902.2h0M955.4 902.2h0M934.4 936.8h0M936.0 936.7h0M878.2 923.3h0M875.7 912.3h0M875.9 913.0h0M949.8 928.5h0M949.9 928.6h0M927.1 939.9h0M953.7 925.6h0M953.8 924.3h0M881.1 925.0h0M880.2 925.2h0M911.6 939.3h0M911.2 938.8h0M911.3 939.9h0M932.5 892.0h0M951.2 926.7h0M941.0 895.3h0M939.7 934.9h0M958.1 907.0h0M903.3 937.4h0M913.4 938.4h0M893.3 933.7h0M891.5 896.5h0M890.8 897.8h0M897.7 895.7h0M923.1 938.1h0M922.4 938.3h0M915.3 938.3h0M957.5 916.8h0M957.3 917.6h0M881.4 903.2h0M880.6 902.8h0M931.8 892.4h0M930.7 892.3h0M933.1 936.9h0M934.0 937.5h0M886.6 898.6h0M921.5 939.8h0M921.5 938.9h0M916.7 938.7h0M955.1 921.6h0M920.0 939.2h0M918.9 938.2h0M946.1 897.7h0M944.1 897.4h0M887.9 928.6h0M886.4 929.0h0M945.4 931.3h0M957.7 909.6h0M955.7 904.7h0M878.7 920.7h0M879.3 920.7h0M878.1 921.2h0M938.7 894.3h0M939.8 894.5h0M940.0 894.5h0M876.8 916.7h0M929.9 892.4h0" stroke="#f70000" stroke-width="4.00" stroke-linecap="square" fill="none"/>
<path d="M937.5 935.8h0M938.1 934.2h0M936.5 934.7h0M950.2 901.9h0M950.9 900.8h0M953.1 922.9h0M885.8 927.1h0M885.1 927.7h0M891.3 931.8h0M890.9 930.1h0M891.6 930.4h0M890.9 930.9h0M899.6 894.9h0M894.7 933.2h0M877.8 911.1h0M927.5 893.5h0M910.2 893.3h0M910.4 892.2h0M910.2 892.3h0M876.3 914.1h0M877.1 915.5h0M877.5 915.2h0M877.3 914.3h0M950.2 925.8h0M950.5 924.6h0M876.7 913.5h0M877.2 913.0h0M877.7 913.2h0M877.8 913.5h0M885.2 900.6h0M954.2 919.3h0M879.0 907.4h0M879.8 907.3h0M924.4 892.2h0M924.4 892.1h0M924.8 893.7h0M928.3 936.5h0M900.9 935.6h0M900.6 934.5h0M938.1 894.8h0M943.7 896.7h0M942.4 897.4h0M942.4 897.4h0M942.4 896.5h0M889.5 899.3h0M889.6 899.8h0M923.6 893.6h0M923.8 892.5h0M946.2 898.2h0M946.1 899.5h0M915.5 892.4h0M915.7 892.5h0M916.0 893.2h0M954.9 906.7h0M956.0 906.0h0M955.7 906.0h0M883.1 902.5h0M883.8 903.6h0M882.7 903.4h0M883.9 902.0h0M921.3 893.1h0M917.7 893.4h0M917.8 893.6h0M943.2 930.6h0M880.8 905.7h0M900.2 895.0h0M902.1 895.8h0M927.6 937.0h0M940.1 932.4h0M938.9 933.0h0M954.6 917.8h0M896.9 932.5h0M878.5 909.3h0M903.3 934.1h0M903.6 935.8h0M935.2 894.1h0M954.9 909.9h0M952.8 904.4h0M952.6 904.1h0M945.3 928.6h0M945.4 929.7h0M879.1 916.2h0M878.2 917.7h0M933.0 934.9h0M933.7 935.0h0M954.1 914.2h0M954.2 915.9h0M903.1 895.3h0M903.7 895.8h0M951.0 903.1h0M883.3 922.0h0M915.3 936.1h0M915.3 937.5h0M886.1 925.4h0M940.9 896.8h0M940.9 896.1h0M942.1 897.8h0M941.2 896.9h0M886.1 900.7h0M887.8 900.2h0M954.5 910.9h0M947.0 926.7h0M917.8 936.1h0M955.1 912.7h0M956.0 913.6h0M955.3 912.8h0M954.9 912.1h0M918.3 937.3h0M918.7 936.5h0M880.0 914.8h0M944.2 898.6h0M905.1 934.2h0M878.1 912.7h0M879.0 912.6h0M878.7 913.3h0M940.7 930.0h0M940.8 930.3h0M941.1 930.9h0M940.4 930.8h0M898.8 933.8h0M933.1 894.2h0M934.1 895.4h0M932.2 894.0h0M932.2 894.8h0M933.5 894.3h0M891.9 928.8h0M952.8 919.6h0M953.6 919.9h0M931.7 935.2h0M931.9 935.4h0M930.3 935.9h0M905.8 895.2h0M905.6 894.2h0M897.9 896.3h0M898.1 897.7h0M880.9 918.1h0M880.7 918.6h0M883.8 904.9h0M883.3 904.4h0M952.7 906.0h0" stroke="#e70000" stroke-width="4.00" stroke-linecap="square" fill="none"/>
<path d="M908.0 935.1h0M931.4 895.2h0M931.5 895.8h0M931.3 894.8h0M889.5 927.6h0M943.8 928.2h0M946.8 900.3h0M929.5 934.2h0M928.4 934.2h0M928.7 934.1h0M907.5 895.6h0M906.9 894.0h0M907.5 894.5h0M951.7 920.6h0M901.2 933.5h0M954.1 917.7h0M883.3 920.9h0M935.6 932.9h0M881.6 909.6h0M951.4 905.0h0M950.5 904.4h0M889.3 901.8h0M892.6 899.1h0M892.4 898.4h0M892.2 898.4h0M887.9 925.3h0M887.0 925.7h0M908.3 934.3h0M909.7 934.1h0M953.6 908.9h0M939.1 931.0h0M884.3 922.7h0M942.3 898.0h0M943.0 898.2h0M949.7 903.2h0M948.6 902.1h0M949.1 903.1h0M929.5 895.2h0M928.3 895.0h0M928.3 895.3h0M944.8 927.9h0M893.7 929.8h0M893.7 929.2h0M898.2 896.6h0M948.3 923.1h0M948.6 923.6h0M949.3 923.6h0M948.9 923.5h0M926.8 934.2h0M926.1 934.2h0M910.1 895.1h0M952.6 914.6h0M881.6 911.0h0M882.0 910.0h0M881.6 910.1h0M880.7 910.6h0M910.5 934.2h0M911.1 934.5h0M952.8 911.9h0M954.0 910.7h0M953.9 910.0h0M952.1 910.9h0M953.0 911.2h0M880.6 914.3h0M881.7 915.9h0M937.7 897.7h0M927.4 894.9h0M927.6 895.2h0M903.3 932.2h0M926.1 934.6h0M925.8 934.3h0M882.3 907.1h0M882.4 906.5h0M883.3 906.7h0M880.5 912.6h0M887.0 902.2h0M912.6 935.8h0M950.2 918.3h0M883.8 918.4h0M886.0 904.0h0M923.7 934.2h0M923.4 934.3h0M922.2 935.5h0M925.2 895.4h0M925.6 894.9h0M925.3 895.5h0M890.4 926.6h0M891.7 927.9h0M941.3 928.0h0M941.4 929.2h0M940.1 927.9h0M941.8 929.5h0M912.8 895.0h0M912.3 894.1h0M913.2 894.3h0M951.1 907.3h0M951.4 906.4h0M901.9 897.2h0M901.1 897.2h0M921.1 934.1h0M944.3 901.6h0M946.1 901.1h0M945.6 901.3h0M894.4 898.4h0M896.1 898.6h0M918.0 935.1h0M918.9 934.2h0M923.0 895.2h0M923.6 895.2h0M923.1 894.4h0M899.4 930.6h0M941.3 899.7h0M941.5 899.5h0M941.7 898.7h0M891.8 900.8h0M891.6 901.7h0M890.7 901.4h0M890.4 900.5h0M890.7 901.4h0M905.9 933.9h0M904.6 933.0h0M894.5 928.5h0M934.8 897.0h0M934.8 897.9h0M888.6 924.6h0M889.2 924.0h0M919.6 895.4h0M930.3 933.0h0M930.3 933.3h0M942.9 926.5h0M943.2 927.4h0M882.3 909.1h0M948.8 905.7h0M947.4 902.8h0M950.8 917.2h0M950.4 916.6h0M952.1 916.3h0M882.8 916.8h0M882.2 916.0h0M882.7 916.1h0M950.6 908.9h0M952.0 907.9h0M952.0 908.0h0M906.7 933.5h0M929.2 933.2h0M928.1 933.7h0M900.7 930.1h0M901.9 931.6h0M901.9 931.5h0M889.9 902.0h0M883.3 910.1h0M952.1 914.3h0M951.6 915.6h0M933.3 897.3h0M933.9 897.3h0M932.9 897.9h0M883.6 914.0h0M893.6 926.4h0M893.3 927.3h0M897.4 898.3h0M896.7 898.4h0M884.4 906.7h0M884.3 906.7h0M951.2 911.9h0M950.7 910.0h0" stroke="#d70000" stroke-width="4.00" stroke-linecap="square" fill="none"/>
<path d="M882.9 912.8h0M939.6 898.1h0M938.9 898.1h0M939.7 899.1h0M950.5 913.1h0M952.0 912.2h0M950.7 913.1h0M950.6 912.0h0M952.0 913.4h0M944.0 901.8h0M943.0 901.9h0M943.8 901.2h0M943.9 901.6h0M886.3 904.5h0M887.2 905.9h0M908.7 933.4h0M885.5 918.8h0M884.7 919.0h0M885.3 919.3h0M893.7 900.0h0M893.6 901.3h0M892.7 901.3h0M905.6 896.6h0M891.8 925.0h0M941.6 926.5h0M941.0 927.8h0M930.9 896.9h0M930.1 897.4h0M888.1 920.0h0M933.1 931.0h0M933.7 930.5h0M932.6 930.9h0M946.0 902.9h0M947.5 905.5h0M946.2 920.3h0M947.2 921.3h0M885.2 909.6h0M907.8 896.1h0M907.2 896.1h0M906.9 896.2h0M899.5 899.0h0M899.7 899.6h0M912.9 933.7h0M942.9 925.4h0M942.8 925.1h0M942.4 924.3h0M884.5 917.5h0M937.2 899.3h0M936.2 898.3h0M937.5 899.0h0M895.0 927.8h0M895.6 926.2h0M949.8 917.1h0M944.9 922.5h0M899.3 929.9h0M928.8 897.2h0M914.2 932.4h0M914.4 933.5h0M921.1 932.6h0M949.9 909.0h0M949.4 908.6h0M948.9 909.6h0M948.8 908.2h0M949.1 908.9h0M917.0 933.6h0M918.0 933.9h0M917.4 933.7h0M916.8 933.9h0M904.6 931.2h0M904.8 930.5h0M905.9 930.3h0M931.9 931.6h0M909.9 897.2h0M894.8 900.6h0M895.1 901.3h0M884.9 915.1h0M885.0 915.4h0M949.7 914.2h0M949.2 914.0h0M949.8 914.8h0M888.7 905.2h0M889.8 905.4h0M927.2 896.8h0M927.0 897.5h0M886.1 913.4h0M884.5 912.7h0M948.8 910.7h0M949.3 911.9h0M949.2 910.4h0M893.7 925.6h0M892.5 925.7h0M893.4 925.1h0M893.8 925.7h0M949.0 913.2h0M949.7 913.6h0M900.7 899.0h0M900.5 899.8h0M912.1 896.1h0M910.8 897.4h0M911.5 896.2h0M935.4 928.3h0M934.1 928.6h0M947.2 919.2h0M934.4 899.5h0M925.5 897.4h0M925.1 897.8h0M948.0 906.2h0M890.1 920.4h0M942.6 902.2h0M912.6 897.1h0M923.0 897.5h0M923.4 897.9h0M922.7 896.4h0M922.8 897.7h0M924.1 896.3h0M922.9 897.4h0M941.9 925.0h0M941.5 925.4h0M941.6 925.8h0M945.6 904.6h0M945.9 904.7h0M944.7 921.3h0M945.0 921.0h0M944.9 921.8h0M914.7 897.0h0M886.9 909.5h0M886.6 908.0h0M894.1 903.7h0M921.7 897.1h0M921.9 897.2h0M939.9 900.2h0M939.3 900.2h0M939.7 901.7h0M909.0 931.8h0M942.5 923.8h0M918.2 897.2h0M919.6 897.2h0M887.2 917.3h0M887.6 917.0h0M897.3 900.6h0M927.1 930.4h0M927.9 931.0h0M903.9 899.6h0M902.8 898.3h0M902.2 898.8h0M903.8 899.2h0M903.5 899.8h0M946.3 917.6h0M932.2 899.0h0M933.3 898.3h0M933.8 929.5h0M933.1 929.4h0M932.8 929.3h0M903.0 929.5h0M937.5 926.3h0M895.5 924.6h0M895.7 925.9h0M895.1 924.8h0M910.3 931.0h0M910.6 930.6h0M910.9 930.8h0M911.4 931.8h0M889.9 907.7h0M891.1 904.8h0M887.7 910.1h0M887.3 911.8h0" stroke="#c70000" stroke-width="4.00" stroke-linecap="square" fill="none"/>
<path d="M887.2 914.7h0M887.1 913.4h0M886.5 913.6h0M887.1 912.3h0M912.2 931.6h0M947.8 911.0h0M947.0 910.6h0M924.0 931.6h0M904.9 898.4h0M905.8 899.7h0M905.7 899.6h0M941.7 902.3h0M941.7 902.9h0M941.1 902.1h0M946.5 912.4h0M946.5 912.8h0M946.4 912.6h0M945.5 918.3h0M936.9 901.4h0M936.8 900.4h0M936.8 901.1h0M937.2 901.9h0M938.2 924.8h0M940.0 924.3h0M938.3 924.8h0M945.1 906.1h0M945.1 907.0h0M944.5 907.5h0M944.5 906.3h0M930.7 928.6h0M931.5 928.1h0M898.2 901.0h0M899.8 901.8h0M899.8 901.6h0M906.0 928.5h0M904.4 929.9h0M918.1 930.8h0M919.1 931.3h0M918.4 931.4h0M895.3 903.2h0M943.2 904.1h0M943.8 904.0h0M943.2 921.3h0M941.0 922.7h0M941.9 922.3h0M935.4 926.4h0M934.2 926.9h0M889.5 908.6h0M888.4 909.2h0M889.2 908.8h0M907.0 899.2h0M907.3 899.3h0M897.3 924.1h0M888.3 916.7h0M901.4 926.5h0M907.1 929.3h0M928.2 928.3h0M929.7 928.3h0M928.8 929.2h0M929.3 929.8h0M892.6 905.2h0M893.6 905.6h0M892.8 904.8h0M893.3 904.5h0M893.4 905.9h0M893.0 904.3h0M945.3 916.3h0M892.1 907.2h0M945.6 909.8h0M945.1 909.7h0M934.9 901.9h0M934.9 900.6h0M902.0 901.7h0M901.4 900.6h0M908.5 899.6h0M908.6 899.3h0M908.3 899.4h0M888.8 914.9h0M889.7 915.0h0M938.4 903.5h0M938.7 902.5h0M895.6 923.9h0M891.1 919.6h0M927.8 898.4h0M927.7 898.1h0M927.0 899.0h0M927.6 898.5h0M936.3 925.2h0M936.3 924.8h0M888.1 912.5h0M889.2 913.8h0M889.8 913.8h0M889.1 912.9h0M908.3 928.2h0M909.3 929.0h0M909.3 929.2h0M893.7 920.5h0M893.3 921.2h0M927.7 929.9h0M927.5 929.7h0M928.1 928.2h0M932.1 926.7h0M933.4 927.8h0M934.0 926.2h0M932.9 927.6h0M932.6 927.1h0M897.9 903.7h0M897.7 902.2h0M944.3 914.6h0M944.8 914.9h0M945.9 915.6h0M944.7 910.9h0M945.4 911.2h0M945.4 911.1h0M911.1 899.0h0M910.3 898.7h0M942.5 919.5h0M943.5 919.1h0M943.7 919.1h0M943.5 907.7h0M942.9 907.7h0M945.6 912.3h0M945.4 913.3h0M945.4 913.1h0M941.2 904.4h0M925.0 898.3h0M899.0 925.9h0M900.0 924.2h0M939.2 922.6h0M938.3 923.0h0M911.2 929.1h0M924.7 928.7h0M925.3 929.5h0M941.9 920.4h0M940.3 921.4h0M912.1 898.8h0M903.2 900.4h0M932.3 901.4h0M933.0 901.3h0M891.9 909.9h0M922.3 898.6h0M891.3 917.0h0M912.5 929.1h0M913.3 928.8h0M912.5 929.2h0M912.9 928.1h0M922.8 928.5h0M922.5 928.2h0M920.7 898.5h0M921.8 898.9h0M920.3 898.2h0M931.2 927.0h0M930.3 927.8h0M916.1 898.9h0M917.0 899.9h0M919.2 898.3h0M936.4 903.0h0M906.0 927.6h0M892.7 906.6h0M893.0 907.6h0M893.7 907.8h0M892.5 906.3h0M897.9 923.4h0M935.4 924.8h0M914.7 929.2h0M915.3 929.9h0M922.0 929.8h0M920.2 928.9h0M942.8 915.9h0M942.2 917.1h0M942.9 917.0h0M917.6 929.1h0M943.4 908.3h0M918.5 929.2h0M919.7 928.0h0M892.6 918.6h0M890.2 910.8h0M892.1 911.2h0M891.9 914.8h0M891.2 915.6h0M891.1 915.9h0M901.5 924.2h0M900.6 925.3h0M901.5 924.3h0M895.9 921.1h0M895.1 921.3h0M905.1 901.3h0M905.0 901.3h0M930.2 901.2h0M931.3 900.4h0M930.4 900.2h0M932.1 900.7h0" stroke="#b70000" stroke-width="4.00" stroke-linecap="square" fill="none"/>
<path d="M892.0 912.8h0M891.8 912.6h0M891.6 913.9h0M892.0 912.0h0M891.2 913.4h0M929.7 926.2h0M906.3 927.5h0M907.7 926.8h0M908.0 927.7h0M906.8 927.2h0M943.0 914.4h0M944.0 914.3h0M942.9 915.5h0M941.4 907.4h0M940.7 906.1h0M942.5 910.8h0M942.8 911.1h0M942.9 911.4h0M938.8 920.8h0M938.8 921.4h0M943.5 913.2h0M942.1 913.0h0M942.4 913.0h0M932.3 924.5h0M932.9 925.7h0M935.1 903.1h0M934.8 902.7h0M934.2 902.2h0M897.8 904.9h0M892.5 909.6h0M893.5 909.7h0M907.7 901.7h0M906.3 900.6h0M907.2 901.7h0M899.6 923.3h0M900.0 923.0h0M929.8 901.2h0M929.9 900.3h0M892.8 916.0h0M900.8 902.8h0M927.8 927.8h0M926.8 927.8h0M902.3 924.4h0M903.3 925.0h0M909.5 927.1h0M908.9 926.9h0M894.8 906.6h0M894.6 906.8h0M898.0 920.3h0M895.9 919.8h0M940.7 917.7h0M909.7 900.2h0M893.0 911.4h0M892.3 911.8h0M924.2 926.0h0M925.5 927.7h0M926.2 900.1h0M928.0 901.0h0M893.5 915.8h0M894.0 915.5h0M893.0 915.9h0M934.5 923.1h0M935.6 923.3h0M934.1 922.1h0M936.2 904.3h0M937.5 904.7h0M937.9 904.1h0M936.6 904.3h0M931.8 925.5h0M931.1 925.2h0M930.2 925.2h0M892.2 913.0h0M893.8 912.5h0M933.5 902.1h0M939.4 907.1h0M939.5 906.4h0M913.6 927.7h0M922.7 926.8h0M924.0 927.3h0M939.9 918.8h0M938.6 918.7h0M938.9 919.4h0M903.3 903.9h0M936.9 920.2h0M936.4 921.7h0M936.8 920.0h0M937.9 920.4h0M901.2 923.7h0M910.9 901.1h0M911.7 901.3h0M900.1 904.0h0M898.8 905.7h0M899.1 905.4h0M898.1 905.0h0M941.0 914.6h0M940.9 915.1h0M915.4 926.2h0M921.3 927.5h0M940.8 912.1h0M941.1 913.8h0M942.0 913.2h0M941.9 912.7h0M940.5 912.2h0M917.0 926.3h0M917.8 926.3h0M916.7 926.5h0M916.7 927.1h0M918.9 927.2h0M919.4 927.6h0M919.1 927.6h0M919.5 927.5h0M918.3 927.9h0M912.2 900.5h0M913.9 901.4h0M922.4 900.6h0M923.5 900.3h0M922.3 900.9h0M923.7 900.2h0M924.0 900.9h0M896.5 907.8h0M899.5 920.0h0M900.1 920.0h0M914.8 900.2h0M920.9 901.7h0M921.3 901.6h0M922.0 900.7h0M932.6 922.2h0M933.5 922.1h0M932.5 922.5h0M897.4 919.1h0M931.8 902.9h0M931.7 903.3h0M930.3 903.8h0M930.6 903.6h0M916.9 901.2h0M918.0 900.7h0M917.5 900.3h0M919.0 901.6h0M918.5 900.2h0M905.3 902.1h0M905.0 903.2h0M905.6 903.7h0M938.7 916.5h0M938.4 909.8h0M939.8 909.4h0M894.4 911.7h0M895.3 910.5h0M895.4 910.9h0M903.1 923.8h0M902.9 923.0h0M902.1 904.3h0M902.0 903.9h0M901.8 905.2h0M926.9 925.9h0M894.4 912.7h0M896.0 913.5h0M935.9 920.9h0M908.8 925.9h0M937.6 918.4h0M928.7 902.7h0M929.1 902.8h0M929.6 903.3h0M929.9 902.8h0M929.9 902.6h0M929.9 903.4h0M938.2 915.1h0M938.5 915.9h0M939.2 910.0h0M939.8 911.5h0M897.9 908.0h0M896.7 908.5h0M897.0 908.8h0M898.2 906.9h0M898.6 907.7h0M899.1 907.0h0M900.0 906.5h0M900.3 921.5h0M925.5 924.4h0M897.9 916.7h0M938.3 913.9h0M939.6 912.8h0M940.1 912.4h0M940.0 913.8h0M940.0 912.6h0M939.7 912.0h0M910.5 925.5h0M906.1 923.5h0M904.7 923.1h0M905.6 922.6h0M904.9 923.5h0" stroke="#a70000" stroke-width="4.00" stroke-linecap="square" fill="none"/>
<path d="M933.1 905.9h0M932.3 905.0h0M932.7 905.1h0M898.2 918.6h0M899.9 919.7h0M902.7 904.9h0M903.0 905.2h0M903.1 905.5h0M903.4 905.7h0M923.9 924.5h0M923.9 925.1h0M908.2 902.8h0M908.8 902.9h0M909.7 903.3h0M909.3 903.3h0M936.6 908.0h0M937.7 908.2h0M938.0 908.0h0M936.2 908.0h0M898.1 911.9h0M897.0 910.4h0M897.8 911.6h0M897.2 911.5h0M896.9 910.2h0M896.5 911.5h0M897.5 915.3h0M897.5 914.8h0M935.9 907.0h0M921.6 924.8h0M921.8 925.5h0M914.6 925.9h0M929.5 923.4h0M929.2 923.3h0M934.4 918.9h0M897.4 913.9h0M896.6 913.3h0M897.7 913.6h0M907.7 922.6h0M925.9 902.8h0M925.0 902.2h0M924.1 902.0h0M924.5 903.7h0M924.8 902.3h0M902.2 921.6h0M903.3 920.8h0M904.0 921.1h0M910.5 903.3h0M911.6 903.2h0M910.8 902.5h0M910.3 903.1h0M901.9 906.9h0M930.1 905.6h0M931.6 904.0h0M931.2 904.6h0M931.1 904.6h0M930.1 905.6h0M898.3 909.9h0M898.6 909.5h0M937.5 914.5h0M937.8 915.0h0M938.0 914.0h0M936.5 915.3h0M936.5 910.7h0M900.1 917.7h0M905.4 904.0h0M900.6 919.3h0M902.1 918.5h0M923.1 903.2h0M923.4 903.6h0M922.7 903.5h0M913.3 903.3h0M913.1 903.5h0M926.2 923.6h0M931.4 921.5h0M930.7 921.9h0M915.7 903.7h0M920.1 902.5h0M918.3 903.4h0M917.0 903.8h0M933.9 907.4h0M935.2 917.1h0M935.5 916.2h0M935.9 916.1h0M934.2 916.0h0M898.8 911.1h0M904.7 921.5h0M904.4 921.1h0M904.1 920.4h0M905.9 920.4h0M900.0 915.8h0M928.2 904.7h0M928.5 905.4h0M928.3 905.8h0M933.6 919.8h0M924.9 923.3h0M907.3 905.8h0M910.3 922.3h0M899.0 913.4h0M898.6 913.7h0M902.9 907.8h0M903.6 906.2h0M902.6 907.6h0M901.9 908.0h0M901.9 909.2h0M901.3 909.3h0M900.8 908.5h0M904.0 919.3h0M903.1 918.4h0M902.7 919.6h0M900.6 917.6h0M923.6 922.8h0M923.9 923.0h0M929.9 921.2h0M928.1 920.3h0M935.9 914.3h0M934.5 914.0h0M934.5 914.4h0M935.1 914.8h0M912.6 922.7h0M936.0 911.5h0M934.6 910.2h0M935.3 910.7h0M927.5 905.9h0M907.7 920.4h0M935.2 913.0h0M934.5 913.3h0M935.9 912.3h0M934.2 912.1h0M934.3 912.8h0M921.2 923.5h0M908.2 905.2h0M931.8 906.7h0M919.6 923.9h0M916.5 922.4h0M916.3 922.4h0M931.6 918.1h0M933.0 916.4h0M905.8 906.9h0M905.0 907.0h0M906.0 907.6h0M904.9 906.5h0M901.2 910.9h0M900.5 911.7h0M900.9 910.4h0M900.4 910.8h0M901.4 911.5h0M901.4 914.9h0M900.9 915.0h0M900.1 915.2h0M901.5 914.6h0M901.8 915.4h0M925.1 905.6h0M924.9 905.8h0M924.4 904.5h0M924.3 905.1h0M911.0 905.8h0M911.0 904.1h0M901.6 912.7h0M900.9 913.1h0M901.0 913.3h0M901.5 913.6h0M900.7 913.4h0M904.8 918.5h0M908.6 920.1h0M909.5 921.6h0M903.3 908.7h0M903.5 909.1h0M903.1 917.1h0M902.9 917.5h0M923.0 905.1h0M923.8 904.8h0M922.6 905.8h0M924.1 905.7h0M923.6 905.1h0M929.7 907.2h0M928.5 906.0h0M928.7 906.0h0M933.0 915.2h0M932.6 915.1h0M933.2 910.8h0M933.6 910.2h0M933.3 910.1h0M912.4 904.7h0M913.5 904.2h0M925.8 920.3h0M924.4 920.8h0M906.3 906.6h0M933.4 913.5h0M910.2 920.1h0M911.3 921.3h0M920.1 905.9h0M915.3 905.1h0M915.3 904.5h0M931.1 909.5h0M931.8 909.1h0M930.2 917.4h0" stroke="#970000" stroke-width="4.00" stroke-linecap="square" fill="none"/>
<path d="M918.1 904.3h0M919.3 905.1h0M917.8 905.5h0M918.0 904.7h0M902.7 911.8h0M903.4 911.8h0M907.3 919.6h0M907.9 919.3h0M902.7 914.6h0M903.5 914.4h0M904.0 915.2h0M923.5 921.5h0M922.5 920.2h0M913.8 920.1h0M913.0 920.3h0M904.4 908.6h0M904.9 909.0h0M905.9 908.0h0M927.7 906.1h0M905.9 916.6h0M909.8 907.4h0M908.8 907.1h0M908.4 906.3h0M909.3 907.3h0M915.8 920.5h0M927.2 919.6h0M926.3 918.7h0M927.6 918.0h0M918.2 920.1h0M918.3 920.4h0M916.9 921.3h0M931.4 915.4h0M932.0 910.2h0M931.3 910.9h0M931.3 910.2h0M930.8 911.3h0M930.8 910.2h0M929.8 909.6h0M928.6 908.1h0M929.4 916.5h0M924.6 906.3h0M925.3 907.1h0M906.1 910.7h0M905.2 910.0h0M910.8 907.0h0M910.8 907.6h0M910.1 906.0h0M910.9 907.4h0M911.3 907.3h0M910.7 907.8h0M904.7 914.2h0M905.7 914.6h0M906.7 908.9h0M907.1 909.1h0M906.4 908.6h0M907.5 908.7h0M925.8 918.4h0M925.6 919.5h0M924.2 919.2h0M925.2 919.4h0M907.0 916.0h0M907.6 916.4h0M905.3 913.7h0M911.1 918.7h0M910.6 919.3h0M910.4 919.9h0M922.8 907.9h0M923.7 906.2h0M923.5 906.1h0M912.4 906.6h0M913.5 907.7h0M928.1 910.6h0M929.4 911.6h0M929.7 915.3h0M929.0 915.7h0M929.9 915.0h0M926.2 909.8h0M926.5 908.0h0M927.3 908.0h0M926.5 908.5h0M926.8 916.6h0M927.0 916.0h0M920.3 907.6h0M922.0 907.5h0M920.1 907.2h0M914.3 906.6h0M915.3 907.0h0M909.6 908.7h0M908.7 909.2h0M909.3 908.0h0M908.8 909.6h0M928.9 913.8h0M929.8 912.9h0M929.6 913.5h0M919.2 907.5h0M918.5 906.8h0M919.9 906.0h0M919.8 906.9h0M916.9 907.4h0M916.6 907.8h0M917.8 906.6h0M916.7 907.8h0M906.5 911.0h0M906.6 910.9h0M906.8 914.2h0M908.8 917.7h0M921.3 919.6h0M921.3 918.7h0M920.5 919.9h0M921.0 918.5h0M915.9 919.9h0M907.3 913.7h0M907.6 913.9h0M919.8 919.7h0M916.6 919.5h0M925.6 909.9h0M925.4 909.6h0M925.1 908.4h0M924.6 917.0h0M924.4 917.2h0M924.6 917.3h0M927.8 911.4h0M927.9 914.6h0M926.4 915.7h0M911.2 909.1h0M910.8 908.2h0M911.4 908.3h0M911.6 917.3h0M911.4 916.6h0M911.7 917.3h0M910.7 916.2h0M927.3 912.5h0M928.1 913.0h0M926.8 913.1h0M908.9 915.2h0M909.9 914.3h0M909.2 914.7h0M909.8 915.2h0M909.5 915.0h0M909.4 914.6h0M922.5 909.6h0M922.8 908.5h0M923.8 916.3h0M912.1 909.1h0M914.0 908.4h0M909.0 912.2h0M908.2 912.3h0M909.9 913.6h0M908.7 913.6h0M909.9 913.1h0M909.0 912.0h0M926.1 910.8h0M925.5 911.6h0M924.9 915.1h0M925.3 915.2h0M925.8 915.0h0M920.4 908.8h0M920.4 908.0h0M921.7 908.6h0M920.3 908.4h0M914.2 908.8h0M914.6 909.2h0M916.1 909.9h0M914.9 909.6h0M914.6 909.7h0M920.7 916.5h0M920.5 917.4h0M920.3 916.7h0M912.0 910.1h0M912.1 910.3h0M915.8 917.2h0M911.1 914.1h0M919.5 909.8h0M917.6 909.5h0M917.4 908.9h0M917.2 909.6h0M917.2 908.9h0M916.6 909.9h0M917.9 909.4h0M926.1 913.9h0M924.2 912.1h0M924.3 912.5h0M924.1 912.4h0M918.2 917.7h0M919.0 916.0h0M911.5 913.9h0M923.4 911.9h0M922.5 914.9h0M922.4 914.7h0M923.3 915.5h0M913.3 915.8h0M913.9 915.8h0M922.1 912.1h0M923.0 912.8h0M920.6 911.5h0M920.2 911.4h0M921.9 911.2h0M920.8 915.6h0M920.6 914.3h0M913.8 913.6h0M915.6 911.2h0M915.1 910.3h0M914.7 910.2h0M914.2 914.6h0M915.7 915.8h0M914.4 914.6h0M915.5 915.3h0M916.0 915.9h0M918.2 910.2h0M919.9 910.1h0M919.4 911.2h0M918.6 910.0h0M919.5 914.5h0M918.9 915.0h0M919.4 915.0h0M919.8 915.1h0M917.9 910.3h0M917.4 914.0h0M917.2 914.1h0M916.4 915.4h0M917.6 914.7h0M916.2 915.0h0M921.4 912.0h0M916.0 912.0h0M914.3 912.2h0M915.7 912.5h0M917.4 913.6h0" stroke="#870000" stroke-width="4.00" stroke-linecap="square" fill="none"/>
<line x1="734.3" y1="1151.6" x2="1250" y2="673.4" stroke="#c81e32" stroke-width="2.6"/>
<rect x="734.3" y="673.4" width="515.7" height="478.2" fill="none" stroke="#262626" stroke-width="2.2"/>
<line x1="946.46" y1="1151.6" x2="946.46" y2="1146.6" stroke="#262626" stroke-width="2"/>
<line x1="946.46" y1="673.4" x2="946.46" y2="678.4" stroke="#262626" stroke-width="2"/>
<line x1="734.3" y1="954.86" x2="739.3" y2="954.86" stroke="#262626" stroke-width="2"/>
<line x1="1250" y1="954.86" x2="1245" y2="954.86" stroke="#262626" stroke-width="2"/>
<line x1="1250" y1="1151.6" x2="1250" y2="1146.6" stroke="#262626" stroke-width="2"/>
<line x1="1250" y1="673.4" x2="1250" y2="678.4" stroke="#262626" stroke-width="2"/>
<line x1="734.3" y1="673.4" x2="739.3" y2="673.4" stroke="#262626" stroke-width="2"/>
<line x1="1250" y1="673.4" x2="1245" y2="673.4" stroke="#262626" stroke-width="2"/>
<line x1="787.75" y1="1151.6" x2="787.75" y2="1148.8" stroke="#262626" stroke-width="1.8"/>
<line x1="787.75" y1="673.4" x2="787.75" y2="676.2" stroke="#262626" stroke-width="1.8"/>
<line x1="734.3" y1="1102.04" x2="737.1" y2="1102.04" stroke="#262626" stroke-width="1.8"/>
<line x1="1250" y1="1102.04" x2="1247.2" y2="1102.04" stroke="#262626" stroke-width="1.8"/>
<line x1="825.67" y1="1151.6" x2="825.67" y2="1148.8" stroke="#262626" stroke-width="1.8"/>
<line x1="825.67" y1="673.4" x2="825.67" y2="676.2" stroke="#262626" stroke-width="1.8"/>
<line x1="734.3" y1="1066.87" x2="737.1" y2="1066.87" stroke="#262626" stroke-width="1.8"/>
<line x1="1250" y1="1066.87" x2="1247.2" y2="1066.87" stroke="#262626" stroke-width="1.8"/>
<line x1="855.09" y1="1151.6" x2="855.09" y2="1148.8" stroke="#262626" stroke-width="1.8"/>
<line x1="855.09" y1="673.4" x2="855.09" y2="676.2" stroke="#262626" stroke-width="1.8"/>
<line x1="734.3" y1="1039.59" x2="737.1" y2="1039.59" stroke="#262626" stroke-width="1.8"/>
<line x1="1250" y1="1039.59" x2="1247.2" y2="1039.59" stroke="#262626" stroke-width="1.8"/>
<line x1="879.12" y1="1151.6" x2="879.12" y2="1148.8" stroke="#262626" stroke-width="1.8"/>
<line x1="879.12" y1="673.4" x2="879.12" y2="676.2" stroke="#262626" stroke-width="1.8"/>
<line x1="734.3" y1="1017.31" x2="737.1" y2="1017.31" stroke="#262626" stroke-width="1.8"/>
<line x1="1250" y1="1017.31" x2="1247.2" y2="1017.31" stroke="#262626" stroke-width="1.8"/>
<line x1="899.44" y1="1151.6" x2="899.44" y2="1148.8" stroke="#262626" stroke-width="1.8"/>
<line x1="899.44" y1="673.4" x2="899.44" y2="676.2" stroke="#262626" stroke-width="1.8"/>
<line x1="734.3" y1="998.46" x2="737.1" y2="998.46" stroke="#262626" stroke-width="1.8"/>
<line x1="1250" y1="998.46" x2="1247.2" y2="998.46" stroke="#262626" stroke-width="1.8"/>
<line x1="917.05" y1="1151.6" x2="917.05" y2="1148.8" stroke="#262626" stroke-width="1.8"/>
<line x1="917.05" y1="673.4" x2="917.05" y2="676.2" stroke="#262626" stroke-width="1.8"/>
<line x1="734.3" y1="982.14" x2="737.1" y2="982.14" stroke="#262626" stroke-width="1.8"/>
<line x1="1250" y1="982.14" x2="1247.2" y2="982.14" stroke="#262626" stroke-width="1.8"/>
<line x1="932.57" y1="1151.6" x2="932.57" y2="1148.8" stroke="#262626" stroke-width="1.8"/>
<line x1="932.57" y1="673.4" x2="932.57" y2="676.2" stroke="#262626" stroke-width="1.8"/>
<line x1="734.3" y1="967.74" x2="737.1" y2="967.74" stroke="#262626" stroke-width="1.8"/>
<line x1="1250" y1="967.74" x2="1247.2" y2="967.74" stroke="#262626" stroke-width="1.8"/>
<line x1="1037.84" y1="1151.6" x2="1037.84" y2="1148.8" stroke="#262626" stroke-width="1.8"/>
<line x1="1037.84" y1="673.4" x2="1037.84" y2="676.2" stroke="#262626" stroke-width="1.8"/>
<line x1="734.3" y1="870.14" x2="737.1" y2="870.14" stroke="#262626" stroke-width="1.8"/>
<line x1="1250" y1="870.14" x2="1247.2" y2="870.14" stroke="#262626" stroke-width="1.8"/>
<line x1="1091.29" y1="1151.6" x2="1091.29" y2="1148.8" stroke="#262626" stroke-width="1.8"/>
<line x1="1091.29" y1="673.4" x2="1091.29" y2="676.2" stroke="#262626" stroke-width="1.8"/>
<line x1="734.3" y1="820.57" x2="737.1" y2="820.57" stroke="#262626" stroke-width="1.8"/>
<line x1="1250" y1="820.57" x2="1247.2" y2="820.57" stroke="#262626" stroke-width="1.8"/>
<line x1="1129.21" y1="1151.6" x2="1129.21" y2="1148.8" stroke="#262626" stroke-width="1.8"/>
<line x1="1129.21" y1="673.4" x2="1129.21" y2="676.2" stroke="#262626" stroke-width="1.8"/>
<line x1="734.3" y1="785.41" x2="737.1" y2="785.41" stroke="#262626" stroke-width="1.8"/>
<line x1="1250" y1="785.41" x2="1247.2" y2="785.41" stroke="#262626" stroke-width="1.8"/>
<line x1="1158.63" y1="1151.6" x2="1158.63" y2="1148.8" stroke="#262626" stroke-width="1.8"/>
<line x1="1158.63" y1="673.4" x2="1158.63" y2="676.2" stroke="#262626" stroke-width="1.8"/>
<line x1="734.3" y1="758.13" x2="737.1" y2="758.13" stroke="#262626" stroke-width="1.8"/>
<line x1="1250" y1="758.13" x2="1247.2" y2="758.13" stroke="#262626" stroke-width="1.8"/>
<line x1="1182.66" y1="1151.6" x2="1182.66" y2="1148.8" stroke="#262626" stroke-width="1.8"/>
<line x1="1182.66" y1="673.4" x2="1182.66" y2="676.2" stroke="#262626" stroke-width="1.8"/>
<line x1="734.3" y1="735.84" x2="737.1" y2="735.84" stroke="#262626" stroke-width="1.8"/>
<line x1="1250" y1="735.84" x2="1247.2" y2="735.84" stroke="#262626" stroke-width="1.8"/>
<line x1="1202.98" y1="1151.6" x2="1202.98" y2="1148.8" stroke="#262626" stroke-width="1.8"/>
<line x1="1202.98" y1="673.4" x2="1202.98" y2="676.2" stroke="#262626" stroke-width="1.8"/>
<line x1="734.3" y1="717" x2="737.1" y2="717" stroke="#262626" stroke-width="1.8"/>
<line x1="1250" y1="717" x2="1247.2" y2="717" stroke="#262626" stroke-width="1.8"/>
<line x1="1220.58" y1="1151.6" x2="1220.58" y2="1148.8" stroke="#262626" stroke-width="1.8"/>
<line x1="1220.58" y1="673.4" x2="1220.58" y2="676.2" stroke="#262626" stroke-width="1.8"/>
<line x1="734.3" y1="700.68" x2="737.1" y2="700.68" stroke="#262626" stroke-width="1.8"/>
<line x1="1250" y1="700.68" x2="1247.2" y2="700.68" stroke="#262626" stroke-width="1.8"/>
<line x1="1236.11" y1="1151.6" x2="1236.11" y2="1148.8" stroke="#262626" stroke-width="1.8"/>
<line x1="1236.11" y1="673.4" x2="1236.11" y2="676.2" stroke="#262626" stroke-width="1.8"/>
<line x1="734.3" y1="686.28" x2="737.1" y2="686.28" stroke="#262626" stroke-width="1.8"/>
<line x1="1250" y1="686.28" x2="1247.2" y2="686.28" stroke="#262626" stroke-width="1.8"/>
<text transform="matrix(1 0 0 1.04 0 -27.5)" x="676.91" y="687.6" font-size="26" fill="#262626" textLength="27.36" lengthAdjust="spacingAndGlyphs">10</text>
<text transform="matrix(1 0 0 1.04 0 -27.01)" x="705.55" y="675.2" font-size="20" fill="#262626" textLength="18.79" lengthAdjust="spacingAndGlyphs">-2</text>
<text transform="matrix(1 0 0 1.04 0 -38.76)" x="676.91" y="969.06" font-size="26" fill="#262626" textLength="27.36" lengthAdjust="spacingAndGlyphs">10</text>
<text transform="matrix(1 0 0 1.04 0 -38.27)" x="705.56" y="956.66" font-size="20" fill="#262626" textLength="18.56" lengthAdjust="spacingAndGlyphs">-3</text>
<text transform="matrix(1 0 0 1.04 0 -47.79)" x="921.97" y="1194.7" font-size="26" fill="#262626" textLength="27.36" lengthAdjust="spacingAndGlyphs">10</text>
<text transform="matrix(1 0 0 1.04 0 -47.3)" x="950.09" y="1182.4" font-size="20" fill="#262626" textLength="19.22" lengthAdjust="spacingAndGlyphs">-3</text>
<text transform="matrix(1 0 0 1.04 0 -47.79)" x="1225.51" y="1194.7" font-size="26" fill="#262626" textLength="27.36" lengthAdjust="spacingAndGlyphs">10</text>
<text transform="matrix(1 0 0 1.04 0 -47.3)" x="1253.62" y="1182.4" font-size="20" fill="#262626" textLength="19.46" lengthAdjust="spacingAndGlyphs">-2</text>
<text transform="matrix(1 0 0 1.04 0 -49.64)" x="835.73" y="1241.1" font-size="28" fill="#262626" textLength="278.71" lengthAdjust="spacingAndGlyphs">BGC-Argo bbp532 (m</text>
<text transform="matrix(1 0 0 1.04 0 -49.08)" x="1115.53" y="1226.9" font-size="20" fill="#262626" textLength="17.23" lengthAdjust="spacingAndGlyphs">-1</text>
<text transform="matrix(1 0 0 1.04 0 -49.64)" x="1138.7" y="1241.1" font-size="28" fill="#262626">)</text>
<text transform="translate(664.2 1047.57) rotate(-90) scale(1 1.04)" x="0" y="0" font-size="28" fill="#262626" textLength="240.24" lengthAdjust="spacingAndGlyphs">MODIS bbp532 (m</text>
<text transform="translate(649.9 807.13) rotate(-90) scale(1 1.04)" x="0" y="0" font-size="20" fill="#262626" textLength="16.45" lengthAdjust="spacingAndGlyphs">-1</text>
<text transform="translate(664.2 784.1) rotate(-90) scale(1 1.04)" x="0" y="0" font-size="28" fill="#262626">)</text>
<defs><linearGradient id="g674" x1="0" y1="0" x2="0" y2="1"><stop offset="0" stop-color="#800000"/><stop offset="0.02" stop-color="#8f0000"/><stop offset="0.03" stop-color="#9f0000"/><stop offset="0.05" stop-color="#af0000"/><stop offset="0.06" stop-color="#bf0000"/><stop offset="0.08" stop-color="#cf0000"/><stop offset="0.09" stop-color="#df0000"/><stop offset="0.11" stop-color="#ef0000"/><stop offset="0.12" stop-color="#ff0000"/><stop offset="0.14" stop-color="#ff1000"/><stop offset="0.16" stop-color="#ff2000"/><stop offset="0.17" stop-color="#ff3000"/><stop offset="0.19" stop-color="#ff4000"/><stop offset="0.2" stop-color="#ff5000"/><stop offset="0.22" stop-color="#ff6000"/><stop offset="0.23" stop-color="#ff7000"/><stop offset="0.25" stop-color="#ff8000"/><stop offset="0.27" stop-color="#ff8f00"/><stop offset="0.28" stop-color="#ff9f00"/><stop offset="0.3" stop-color="#ffaf00"/><stop offset="0.31" stop-color="#ffbf00"/><stop offset="0.33" stop-color="#ffcf00"/><stop offset="0.34" stop-color="#ffdf00"/><stop offset="0.36" stop-color="#ffef00"/><stop offset="0.38" stop-color="#ffff00"/><stop offset="0.39" stop-color="#efff10"/><stop offset="0.41" stop-color="#dfff20"/><stop offset="0.42" stop-color="#cfff30"/><stop offset="0.44" stop-color="#bfff40"/><stop offset="0.45" stop-color="#afff50"/><stop offset="0.47" stop-color="#9fff60"/><stop offset="0.48" stop-color="#8fff70"/><stop offset="0.5" stop-color="#80ff80"/><stop offset="0.52" stop-color="#70ff8f"/><stop offset="0.53" stop-color="#60ff9f"/><stop offset="0.55" stop-color="#50ffaf"/><stop offset="0.56" stop-color="#40ffbf"/><stop offset="0.58" stop-color="#30ffcf"/><stop offset="0.59" stop-color="#20ffdf"/><stop offset="0.61" stop-color="#10ffef"/><stop offset="0.62" stop-color="#00ffff"/><stop offset="0.64" stop-color="#00efff"/><stop offset="0.66" stop-color="#00dfff"/><stop offset="0.67" stop-color="#00cfff"/><stop offset="0.69" stop-color="#00bfff"/><stop offset="0.7" stop-color="#00afff"/><stop offset="0.72" stop-color="#009fff"/><stop offset="0.73" stop-color="#008fff"/><stop offset="0.75" stop-color="#0080ff"/><stop offset="0.77" stop-color="#0070ff"/><stop offset="0.78" stop-color="#0060ff"/><stop offset="0.8" stop-color="#0050ff"/><stop offset="0.81" stop-color="#0040ff"/><stop offset="0.83" stop-color="#0030ff"/><stop offset="0.84" stop-color="#0020ff"/><stop offset="0.86" stop-color="#0010ff"/><stop offset="0.88" stop-color="#0000ff"/><stop offset="0.89" stop-color="#0000ef"/><stop offset="0.91" stop-color="#0000df"/><stop offset="0.92" stop-color="#0000cf"/><stop offset="0.94" stop-color="#0000bf"/><stop offset="0.95" stop-color="#0000af"/><stop offset="0.97" stop-color="#00009f"/><stop offset="0.98" stop-color="#00008f"/><stop offset="1" stop-color="#000080"/></linearGradient></defs>
<rect x="1291.2" y="674.6" width="22.1" height="477.2" fill="url(#g674)" stroke="#1a1a1a" stroke-width="1.1" stroke-opacity="0.8"/>
<text transform="matrix(1 0 0 1.04 0 -27.48)" x="1322.8" y="687" font-size="24" fill="#262626" textLength="25.24" lengthAdjust="spacingAndGlyphs">10</text>
<text transform="matrix(1 0 0 1.04 0 -27.04)" x="1349.88" y="675.9" font-size="18" fill="#262626" textLength="10.24" lengthAdjust="spacingAndGlyphs">0</text>
<text transform="matrix(1 0 0 1.04 0 -46.6)" x="1322.8" y="1165.1" font-size="24" fill="#262626" textLength="25.24" lengthAdjust="spacingAndGlyphs">10</text>
<text transform="matrix(1 0 0 1.04 0 -46.16)" x="1349.87" y="1153.9" font-size="18" fill="#262626" textLength="14.55" lengthAdjust="spacingAndGlyphs">-1</text>
<text transform="translate(1394.3 982.17) rotate(-90) scale(1 1.04)" x="0" y="0" font-size="24" fill="#262626" textLength="135.29" lengthAdjust="spacingAndGlyphs">Point density</text>
<text transform="matrix(1 0 0 1.04 0 -28.42)" x="750.77" y="710.5" font-size="26" fill="#000" textLength="107.79" lengthAdjust="spacingAndGlyphs">N = 5336</text>
<text transform="matrix(1 0 0 1.04 0 -30.05)" x="750.79" y="751.2" font-size="26" fill="#000" textLength="214.58" lengthAdjust="spacingAndGlyphs">RMSE = 0.0007 m</text>
<text transform="matrix(1 0 0 1.04 0 -29.59)" x="964.62" y="739.7" font-size="20" fill="#000" textLength="17.45" lengthAdjust="spacingAndGlyphs">-1</text>
<text transform="matrix(1 0 0 1.04 0 -31.67)" x="750.8" y="791.8" font-size="26" fill="#000">R</text>
<text transform="matrix(1 0 0 1.04 0 -31.19)" x="771.39" y="779.8" font-size="20" fill="#000" textLength="12.35" lengthAdjust="spacingAndGlyphs">2</text>
<text transform="matrix(1 0 0 1.04 0 -31.67)" x="790.59" y="791.8" font-size="26" fill="#000" textLength="102.34" lengthAdjust="spacingAndGlyphs">= 0.5072</text>
</svg></body></html>
